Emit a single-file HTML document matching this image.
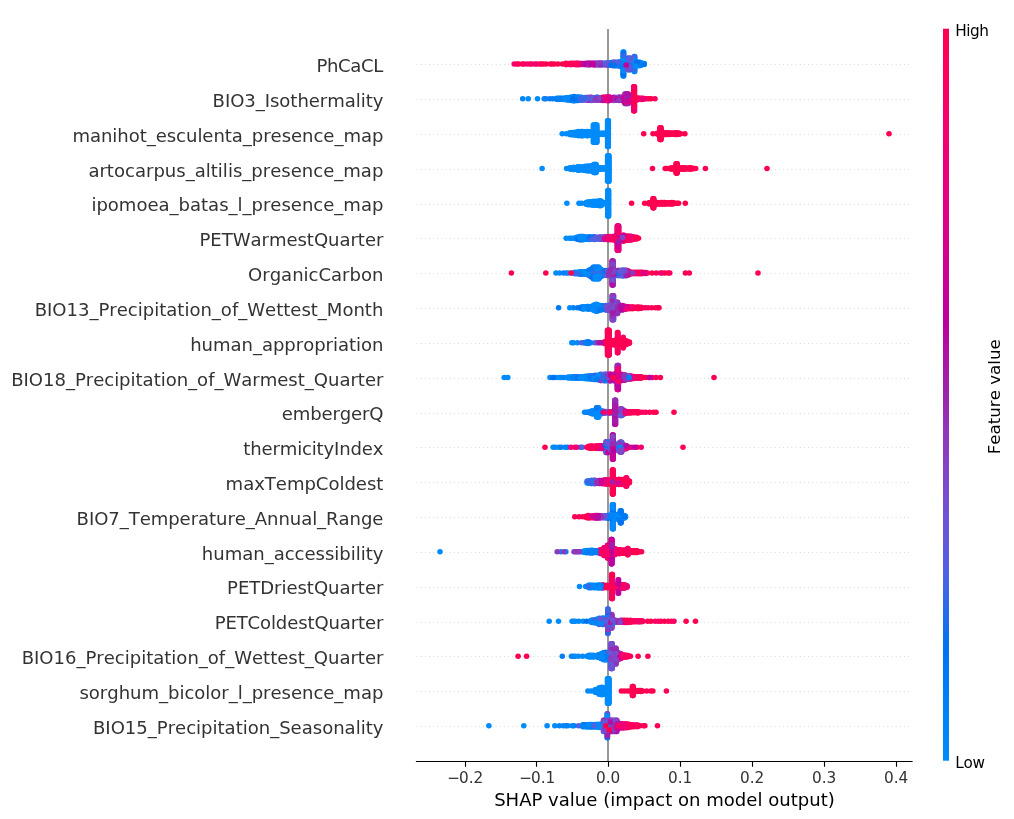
<!DOCTYPE html>
<html lang="en"><head><meta charset="utf-8"><title>SHAP summary plot</title>
<style>
html,body{margin:0;padding:0;background:#fff}
body{width:1014px;height:819px;overflow:hidden}
svg{display:block}
text{font-family:"DejaVu Sans","Liberation Sans",sans-serif;font-kerning:none}
.dots circle{r:2.78px}
.xt text{font-size:15.28px;fill:#333;text-anchor:middle}
.xl{font-size:18.06px;fill:#000;text-anchor:middle}
.yl text{font-size:18.06px;fill:#333;text-anchor:end}
.cbt{font-size:15.28px;fill:#000}
.cbl{font-size:16.67px;fill:#000;text-anchor:middle}
.c0{fill:#008bfb}.c1{fill:#0085f9}.c2{fill:#007ef6}.c3{fill:#0078f2}.c4{fill:#0071ee}.c5{fill:#3569e8}.c6{fill:#5161e1}.c7{fill:#6458da}.c8{fill:#744fd1}.c9{fill:#8245c8}.c10{fill:#8d39bd}.c11{fill:#972bb2}.c12{fill:#a21eaa}.c13{fill:#b00fa5}.c14{fill:#bd009e}.c15{fill:#c90097}.c16{fill:#d40090}.c17{fill:#dd0088}.c18{fill:#e6007f}.c19{fill:#ee0077}.c20{fill:#f5006e}.c21{fill:#fa0064}.c22{fill:#ff005b}.c23{fill:#ff0051}
</style></head><body>
<svg width="1014" height="819" viewBox="0 0 1014 819">
<defs><linearGradient id="cb" x1="0" y1="0" x2="0" y2="1"><stop offset="0.000" stop-color="#ff0051"/><stop offset="0.050" stop-color="#fe005c"/><stop offset="0.100" stop-color="#f90067"/><stop offset="0.150" stop-color="#f20072"/><stop offset="0.200" stop-color="#e9007c"/><stop offset="0.250" stop-color="#e00086"/><stop offset="0.300" stop-color="#d5008f"/><stop offset="0.350" stop-color="#c80098"/><stop offset="0.400" stop-color="#bb00a0"/><stop offset="0.450" stop-color="#ab15a7"/><stop offset="0.500" stop-color="#9b23ad"/><stop offset="0.550" stop-color="#9135ba"/><stop offset="0.600" stop-color="#8443c6"/><stop offset="0.650" stop-color="#754fd1"/><stop offset="0.700" stop-color="#6359da"/><stop offset="0.750" stop-color="#4b63e3"/><stop offset="0.800" stop-color="#236cea"/><stop offset="0.850" stop-color="#0074f0"/><stop offset="0.900" stop-color="#007cf5"/><stop offset="0.950" stop-color="#0084f9"/><stop offset="1.000" stop-color="#008bfb"/></linearGradient></defs>
<rect width="1014" height="819" fill="#fff"/>
<g stroke="#c6c6c6" stroke-width="0.8" stroke-dasharray="0.8 3.367" fill="none"><line x1="416.5" x2="912" y1="64.5" y2="64.5"/><line x1="416.5" x2="912" y1="99.5" y2="99.5"/><line x1="416.5" x2="912" y1="134.5" y2="134.5"/><line x1="416.5" x2="912" y1="169.5" y2="169.5"/><line x1="416.5" x2="912" y1="204.5" y2="204.5"/><line x1="416.5" x2="912" y1="238.5" y2="238.5"/><line x1="416.5" x2="912" y1="273.5" y2="273.5"/><line x1="416.5" x2="912" y1="308.5" y2="308.5"/><line x1="416.5" x2="912" y1="343.5" y2="343.5"/><line x1="416.5" x2="912" y1="378.5" y2="378.5"/><line x1="416.5" x2="912" y1="413.5" y2="413.5"/><line x1="416.5" x2="912" y1="447.5" y2="447.5"/><line x1="416.5" x2="912" y1="482.5" y2="482.5"/><line x1="416.5" x2="912" y1="517.5" y2="517.5"/><line x1="416.5" x2="912" y1="552.5" y2="552.5"/><line x1="416.5" x2="912" y1="587.5" y2="587.5"/><line x1="416.5" x2="912" y1="622.5" y2="622.5"/><line x1="416.5" x2="912" y1="656.5" y2="656.5"/><line x1="416.5" x2="912" y1="691.5" y2="691.5"/><line x1="416.5" x2="912" y1="726.5" y2="726.5"/></g>
<line x1="608" x2="608" y1="29" y2="761.45" stroke="#999" stroke-width="2"/>
<g class="dots"><g><circle class="c14" cx="582.1" cy="64.5" r="2.78"/><circle class="c5" cx="623.7" cy="67.4" r="2.78"/><circle class="c0" cx="623.7" cy="57.1" r="2.78"/><circle class="c7" cx="613.1" cy="64.0" r="2.78"/><circle class="c6" cx="627.6" cy="58.4" r="2.78"/><circle class="c9" cx="611.9" cy="65.4" r="2.78"/><circle class="c7" cx="615.6" cy="65.8" r="2.78"/><circle class="c17" cx="578.6" cy="64.7" r="2.78"/><circle class="c14" cx="584.0" cy="64.4" r="2.78"/><circle class="c3" cx="618.1" cy="64.9" r="2.78"/><circle class="c1" cx="620.6" cy="65.1" r="2.78"/><circle class="c1" cx="623.7" cy="62.3" r="2.78"/><circle class="c22" cx="530.1" cy="64.0" r="2.78"/><circle class="c1" cx="623.1" cy="52.0" r="2.78"/><circle class="c3" cx="634.4" cy="65.8" r="2.78"/><circle class="c3" cx="624.4" cy="63.0" r="2.78"/><circle class="c9" cx="614.4" cy="62.4" r="2.78"/><circle class="c8" cx="618.1" cy="63.0" r="2.78"/><circle class="c5" cx="627.6" cy="67.7" r="2.78"/><circle class="c2" cx="634.7" cy="62.1" r="2.78"/><circle class="c13" cx="584.0" cy="63.5" r="2.78"/><circle class="c23" cx="570.9" cy="63.3" r="2.78"/><circle class="c23" cx="546.2" cy="64.0" r="2.78"/><circle class="c23" cx="570.9" cy="64.6" r="2.78"/><circle class="c14" cx="595.0" cy="64.9" r="2.78"/><circle class="c2" cx="636.9" cy="63.0" r="2.78"/><circle class="c7" cx="628.1" cy="60.2" r="2.78"/><circle class="c0" cx="623.7" cy="58.8" r="2.78"/><circle class="c11" cx="598.2" cy="63.1" r="2.78"/><circle class="c1" cx="625.6" cy="65.0" r="2.78"/><circle class="c1" cx="642.4" cy="64.6" r="2.78"/><circle class="c13" cx="591.7" cy="63.4" r="2.78"/><circle class="c0" cx="634.7" cy="64.0" r="2.78"/><circle class="c9" cx="630.6" cy="69.6" r="2.78"/><circle class="c1" cx="623.7" cy="60.5" r="2.78"/><circle class="c18" cx="580.8" cy="63.5" r="2.78"/><circle class="c3" cx="634.7" cy="58.4" r="2.78"/><circle class="c2" cx="634.7" cy="69.5" r="2.78"/><circle class="c4" cx="621.9" cy="62.5" r="2.78"/><circle class="c7" cx="627.6" cy="62.1" r="2.78"/><circle class="c6" cx="611.9" cy="64.0" r="2.78"/><circle class="c23" cx="565.8" cy="64.6" r="2.78"/><circle class="c23" cx="567.4" cy="63.5" r="2.78"/><circle class="c2" cx="635.6" cy="61.6" r="2.78"/><circle class="c2" cx="613.1" cy="65.6" r="2.78"/><circle class="c0" cx="638.1" cy="64.0" r="2.78"/><circle class="c3" cx="630.8" cy="62.1" r="2.78"/><circle class="c0" cx="623.1" cy="72.6" r="2.78"/><circle class="c2" cx="640.6" cy="62.6" r="2.78"/><circle class="c23" cx="570.9" cy="64.0" r="2.78"/><circle class="c14" cx="578.6" cy="64.0" r="2.78"/><circle class="c4" cx="613.1" cy="62.4" r="2.78"/><circle class="c0" cx="623.1" cy="53.7" r="2.78"/><circle class="c4" cx="615.6" cy="64.0" r="2.78"/><circle class="c8" cx="611.9" cy="62.5" r="2.78"/><circle class="c0" cx="639.4" cy="65.6" r="2.78"/><circle class="c2" cx="619.4" cy="64.0" r="2.78"/><circle class="c12" cx="585.9" cy="64.8" r="2.78"/><circle class="c6" cx="620.6" cy="61.8" r="2.78"/><circle class="c23" cx="573.1" cy="64.0" r="2.78"/><circle class="c0" cx="636.9" cy="64.9" r="2.78"/><circle class="c3" cx="623.1" cy="70.9" r="2.78"/><circle class="c20" cx="578.6" cy="63.3" r="2.78"/><circle class="c1" cx="634.7" cy="67.7" r="2.78"/><circle class="c4" cx="631.9" cy="64.0" r="2.78"/><circle class="c5" cx="623.1" cy="69.1" r="2.78"/><circle class="c7" cx="629.2" cy="58.4" r="2.78"/><circle class="c7" cx="630.8" cy="67.7" r="2.78"/><circle class="c8" cx="631.9" cy="62.4" r="2.78"/><circle class="c3" cx="625.6" cy="64.0" r="2.78"/><circle class="c4" cx="629.4" cy="60.2" r="2.78"/><circle class="c5" cx="623.1" cy="60.5" r="2.78"/><circle class="c12" cx="595.0" cy="64.0" r="2.78"/><circle class="c3" cx="625.6" cy="63.0" r="2.78"/><circle class="c15" cx="582.1" cy="64.0" r="2.78"/><circle class="c7" cx="630.8" cy="64.0" r="2.78"/><circle class="c12" cx="585.9" cy="63.2" r="2.78"/><circle class="c0" cx="623.7" cy="72.6" r="2.78"/><circle class="c6" cx="629.4" cy="67.7" r="2.78"/><circle class="c6" cx="628.1" cy="64.0" r="2.78"/><circle class="c12" cx="607.4" cy="64.0" r="2.78"/><circle class="c23" cx="518.8" cy="64.0" r="2.78"/><circle class="c6" cx="630.8" cy="69.6" r="2.78"/><circle class="c4" cx="626.9" cy="64.0" r="2.78"/><circle class="c8" cx="631.9" cy="65.6" r="2.78"/><circle class="c5" cx="618.1" cy="64.0" r="2.78"/><circle class="c14" cx="593.0" cy="64.0" r="2.78"/><circle class="c23" cx="552.2" cy="64.0" r="2.78"/><circle class="c8" cx="603.2" cy="64.7" r="2.78"/><circle class="c0" cx="623.7" cy="52.0" r="2.78"/><circle class="c2" cx="621.9" cy="65.5" r="2.78"/><circle class="c4" cx="619.4" cy="65.7" r="2.78"/><circle class="c12" cx="590.5" cy="63.5" r="2.78"/><circle class="c7" cx="603.2" cy="63.2" r="2.78"/><circle class="c4" cx="629.4" cy="69.6" r="2.78"/><circle class="c4" cx="634.4" cy="71.4" r="2.78"/><circle class="c0" cx="634.4" cy="60.3" r="2.78"/><circle class="c5" cx="629.2" cy="60.2" r="2.78"/><circle class="c0" cx="634.7" cy="71.4" r="2.78"/><circle class="c10" cx="630.6" cy="58.4" r="2.78"/><circle class="c9" cx="601.7" cy="64.9" r="2.78"/><circle class="c10" cx="630.6" cy="64.0" r="2.78"/><circle class="c11" cx="628.1" cy="65.9" r="2.78"/><circle class="c3" cx="623.7" cy="76.0" r="2.78"/><circle class="c16" cx="589.3" cy="64.0" r="2.78"/><circle class="c9" cx="630.8" cy="65.9" r="2.78"/><circle class="c0" cx="623.1" cy="55.4" r="2.78"/><circle class="c3" cx="623.7" cy="69.1" r="2.78"/><circle class="c2" cx="642.4" cy="64.0" r="2.78"/><circle class="c10" cx="630.6" cy="62.1" r="2.78"/><circle class="c8" cx="603.2" cy="64.0" r="2.78"/><circle class="c6" cx="607.4" cy="65.3" r="2.78"/><circle class="c6" cx="630.6" cy="60.2" r="2.78"/><circle class="c21" cx="573.1" cy="64.5" r="2.78"/><circle class="c21" cx="577.1" cy="63.3" r="2.78"/><circle class="c7" cx="627.6" cy="65.9" r="2.78"/><circle class="c1" cx="634.4" cy="62.1" r="2.78"/><circle class="c23" cx="536.7" cy="64.0" r="2.78"/><circle class="c22" cx="569.7" cy="64.0" r="2.78"/><circle class="c0" cx="644.2" cy="64.0" r="2.78"/><circle class="c9" cx="598.2" cy="64.9" r="2.78"/><circle class="c11" cx="596.7" cy="63.3" r="2.78"/><circle class="c1" cx="634.4" cy="67.7" r="2.78"/><circle class="c7" cx="608.8" cy="64.9" r="2.78"/><circle class="c2" cx="634.4" cy="56.6" r="2.78"/><circle class="c11" cx="601.7" cy="63.1" r="2.78"/><circle class="c7" cx="628.1" cy="67.7" r="2.78"/><circle class="c3" cx="618.1" cy="62.1" r="2.78"/><circle class="c6" cx="634.4" cy="58.4" r="2.78"/><circle class="c1" cx="639.4" cy="64.0" r="2.78"/><circle class="c2" cx="630.6" cy="67.7" r="2.78"/><circle class="c0" cx="623.7" cy="64.0" r="2.78"/><circle class="c2" cx="633.1" cy="62.5" r="2.78"/><circle class="c14" cx="584.0" cy="64.0" r="2.78"/><circle class="c16" cx="587.5" cy="63.4" r="2.78"/><circle class="c1" cx="623.1" cy="76.0" r="2.78"/><circle class="c23" cx="565.8" cy="64.0" r="2.78"/><circle class="c14" cx="590.5" cy="64.0" r="2.78"/><circle class="c0" cx="638.1" cy="65.3" r="2.78"/><circle class="c23" cx="554.5" cy="64.0" r="2.78"/><circle class="c0" cx="636.9" cy="65.9" r="2.78"/><circle class="c5" cx="635.6" cy="62.8" r="2.78"/><circle class="c4" cx="623.1" cy="67.4" r="2.78"/><circle class="c7" cx="629.2" cy="64.0" r="2.78"/><circle class="c23" cx="558.0" cy="64.0" r="2.78"/><circle class="c6" cx="616.9" cy="65.2" r="2.78"/><circle class="c1" cx="639.4" cy="62.4" r="2.78"/><circle class="c2" cx="635.6" cy="65.2" r="2.78"/><circle class="c4" cx="619.4" cy="62.3" r="2.78"/><circle class="c0" cx="642.4" cy="63.4" r="2.78"/><circle class="c1" cx="623.1" cy="62.3" r="2.78"/><circle class="c7" cx="629.2" cy="69.6" r="2.78"/><circle class="c23" cx="543.3" cy="64.0" r="2.78"/><circle class="c0" cx="623.1" cy="57.1" r="2.78"/><circle class="c4" cx="616.9" cy="64.0" r="2.78"/><circle class="c5" cx="607.4" cy="62.7" r="2.78"/><circle class="c20" cx="569.7" cy="64.5" r="2.78"/><circle class="c9" cx="605.4" cy="65.0" r="2.78"/><circle class="c21" cx="574.6" cy="64.0" r="2.78"/><circle class="c5" cx="634.4" cy="69.5" r="2.78"/><circle class="c23" cx="531.9" cy="64.0" r="2.78"/><circle class="c5" cx="633.1" cy="65.5" r="2.78"/><circle class="c12" cx="587.5" cy="64.0" r="2.78"/><circle class="c4" cx="633.1" cy="64.0" r="2.78"/><circle class="c21" cx="524.2" cy="64.0" r="2.78"/><circle class="c4" cx="623.1" cy="74.3" r="2.78"/><circle class="c8" cx="629.4" cy="64.0" r="2.78"/><circle class="c1" cx="623.1" cy="64.0" r="2.78"/><circle class="c23" cx="574.6" cy="64.4" r="2.78"/><circle class="c3" cx="636.9" cy="64.0" r="2.78"/><circle class="c6" cx="614.4" cy="64.0" r="2.78"/><circle class="c8" cx="627.6" cy="64.0" r="2.78"/><circle class="c0" cx="621.9" cy="64.0" r="2.78"/><circle class="c0" cx="623.7" cy="65.7" r="2.78"/><circle class="c20" cx="575.9" cy="64.0" r="2.78"/><circle class="c4" cx="628.1" cy="62.1" r="2.78"/><circle class="c0" cx="625.6" cy="61.9" r="2.78"/><circle class="c4" cx="623.7" cy="74.3" r="2.78"/><circle class="c19" cx="575.9" cy="64.6" r="2.78"/><circle class="c1" cx="620.6" cy="64.0" r="2.78"/><circle class="c9" cx="600.1" cy="64.9" r="2.78"/><circle class="c8" cx="608.8" cy="63.1" r="2.78"/><circle class="c3" cx="624.4" cy="65.9" r="2.78"/><circle class="c4" cx="628.1" cy="58.4" r="2.78"/><circle class="c22" cx="575.9" cy="63.4" r="2.78"/><circle class="c4" cx="623.1" cy="65.7" r="2.78"/><circle class="c2" cx="624.4" cy="64.0" r="2.78"/><circle class="c3" cx="638.1" cy="62.6" r="2.78"/><circle class="c15" cx="587.5" cy="64.6" r="2.78"/><circle class="c5" cx="626.9" cy="62.4" r="2.78"/><circle class="c12" cx="596.7" cy="64.6" r="2.78"/><circle class="c10" cx="596.7" cy="64.0" r="2.78"/><circle class="c20" cx="527.4" cy="64.0" r="2.78"/><circle class="c10" cx="610.6" cy="64.0" r="2.78"/><circle class="c23" cx="539.6" cy="64.0" r="2.78"/><circle class="c3" cx="624.4" cy="64.9" r="2.78"/><circle class="c3" cx="610.6" cy="62.7" r="2.78"/><circle class="c18" cx="574.6" cy="63.6" r="2.78"/><circle class="c23" cx="567.4" cy="64.0" r="2.78"/><circle class="c4" cx="623.7" cy="53.7" r="2.78"/><circle class="c20" cx="567.4" cy="64.5" r="2.78"/><circle class="c23" cx="516.8" cy="64.0" r="2.78"/><circle class="c0" cx="635.6" cy="64.0" r="2.78"/><circle class="c5" cx="634.7" cy="56.6" r="2.78"/><circle class="c13" cx="589.3" cy="63.1" r="2.78"/><circle class="c15" cx="582.1" cy="63.5" r="2.78"/><circle class="c2" cx="628.1" cy="69.6" r="2.78"/><circle class="c5" cx="620.6" cy="62.9" r="2.78"/><circle class="c6" cx="629.2" cy="65.9" r="2.78"/><circle class="c0" cx="618.1" cy="65.9" r="2.78"/><circle class="c0" cx="634.7" cy="65.8" r="2.78"/><circle class="c0" cx="634.7" cy="60.3" r="2.78"/><circle class="c4" cx="601.7" cy="64.0" r="2.78"/><circle class="c7" cx="627.6" cy="60.2" r="2.78"/><circle class="c16" cx="580.8" cy="64.0" r="2.78"/><circle class="c9" cx="605.4" cy="64.0" r="2.78"/><circle class="c14" cx="585.9" cy="64.0" r="2.78"/><circle class="c7" cx="598.2" cy="64.0" r="2.78"/><circle class="c19" cx="535.0" cy="64.0" r="2.78"/><circle class="c0" cx="623.7" cy="70.9" r="2.78"/><circle class="c13" cx="600.1" cy="64.0" r="2.78"/><circle class="c0" cx="623.1" cy="58.8" r="2.78"/><circle class="c10" cx="600.1" cy="63.1" r="2.78"/><circle class="c6" cx="605.4" cy="63.0" r="2.78"/><circle class="c16" cx="591.7" cy="64.0" r="2.78"/><circle class="c21" cx="514.2" cy="64.0" r="2.78"/><circle class="c9" cx="615.6" cy="62.2" r="2.78"/><circle class="c18" cx="591.7" cy="64.5" r="2.78"/><circle class="c23" cx="577.1" cy="64.0" r="2.78"/><circle class="c16" cx="580.8" cy="64.5" r="2.78"/><circle class="c7" cx="630.8" cy="58.4" r="2.78"/><circle class="c22" cx="541.4" cy="64.0" r="2.78"/><circle class="c9" cx="595.0" cy="63.0" r="2.78"/><circle class="c5" cx="629.2" cy="62.1" r="2.78"/><circle class="c10" cx="589.3" cy="64.9" r="2.78"/><circle class="c1" cx="624.4" cy="62.1" r="2.78"/><circle class="c15" cx="593.0" cy="63.3" r="2.78"/><circle class="c6" cx="629.4" cy="62.1" r="2.78"/><circle class="c2" cx="620.6" cy="66.2" r="2.78"/><circle class="c1" cx="644.2" cy="63.6" r="2.78"/><circle class="c8" cx="608.8" cy="64.0" r="2.78"/><circle class="c0" cx="640.6" cy="65.4" r="2.78"/><circle class="c4" cx="629.4" cy="65.9" r="2.78"/><circle class="c23" cx="565.8" cy="63.4" r="2.78"/><circle class="c23" cx="550.3" cy="64.0" r="2.78"/><circle class="c22" cx="577.1" cy="64.6" r="2.78"/><circle class="c6" cx="630.8" cy="60.2" r="2.78"/><circle class="c14" cx="590.5" cy="64.5" r="2.78"/><circle class="c5" cx="623.7" cy="55.4" r="2.78"/><circle class="c0" cx="634.4" cy="64.0" r="2.78"/><circle class="c4" cx="626.9" cy="65.6" r="2.78"/><circle class="c23" cx="562.4" cy="64.0" r="2.78"/><circle class="c22" cx="522.4" cy="64.0" r="2.78"/><circle class="c22" cx="573.1" cy="63.4" r="2.78"/><circle class="c2" cx="640.6" cy="64.0" r="2.78"/><circle class="c23" cx="569.7" cy="63.5" r="2.78"/><circle class="c5" cx="630.6" cy="65.9" r="2.78"/><circle class="c4" cx="636.9" cy="62.1" r="2.78"/><circle class="c14" cx="593.0" cy="64.7" r="2.78"/><circle class="c4" cx="610.6" cy="65.3" r="2.78"/><circle class="c6" cx="629.4" cy="58.4" r="2.78"/><circle class="c6" cx="616.9" cy="62.8" r="2.78"/><circle class="c4" cx="614.4" cy="65.6" r="2.78"/><circle class="c6" cx="625.6" cy="66.0" r="2.78"/><circle class="c7" cx="629.2" cy="67.7" r="2.78"/><circle class="c0" cx="635.6" cy="66.4" r="2.78"/><circle class="c8" cx="627.6" cy="69.6" r="2.78"/><circle class="c3" cx="644.2" cy="64.4" r="2.78"/><circle class="c14" cx="626.2" cy="65.0" r="2.78"/></g><g><circle class="c11" cx="594.0" cy="100.0" r="2.78"/><circle class="c23" cx="633.7" cy="105.7" r="2.78"/><circle class="c0" cx="571.5" cy="98.8" r="2.78"/><circle class="c14" cx="623.9" cy="100.1" r="2.78"/><circle class="c0" cx="566.4" cy="99.8" r="2.78"/><circle class="c4" cx="579.0" cy="98.8" r="2.78"/><circle class="c14" cx="621.4" cy="97.6" r="2.78"/><circle class="c18" cx="633.7" cy="95.4" r="2.78"/><circle class="c18" cx="626.4" cy="97.2" r="2.78"/><circle class="c23" cx="632.6" cy="97.5" r="2.78"/><circle class="c0" cx="563.4" cy="99.4" r="2.78"/><circle class="c4" cx="572.8" cy="100.1" r="2.78"/><circle class="c22" cx="634.5" cy="86.8" r="2.78"/><circle class="c10" cx="589.0" cy="99.9" r="2.78"/><circle class="c1" cx="577.8" cy="100.5" r="2.78"/><circle class="c20" cx="628.9" cy="100.1" r="2.78"/><circle class="c23" cx="607.8" cy="97.8" r="2.78"/><circle class="c11" cx="592.8" cy="99.9" r="2.78"/><circle class="c18" cx="628.2" cy="95.7" r="2.78"/><circle class="c14" cx="628.9" cy="97.5" r="2.78"/><circle class="c15" cx="605.3" cy="97.2" r="2.78"/><circle class="c19" cx="609.0" cy="97.1" r="2.78"/><circle class="c4" cx="571.5" cy="100.5" r="2.78"/><circle class="c23" cx="634.5" cy="104.0" r="2.78"/><circle class="c12" cx="626.6" cy="103.5" r="2.78"/><circle class="c0" cx="537.5" cy="98.8" r="2.78"/><circle class="c15" cx="627.6" cy="102.0" r="2.78"/><circle class="c21" cx="655.0" cy="98.8" r="2.78"/><circle class="c23" cx="641.3" cy="98.8" r="2.78"/><circle class="c18" cx="615.1" cy="100.1" r="2.78"/><circle class="c14" cx="622.6" cy="98.8" r="2.78"/><circle class="c4" cx="558.5" cy="98.8" r="2.78"/><circle class="c21" cx="633.9" cy="95.4" r="2.78"/><circle class="c20" cx="634.5" cy="100.5" r="2.78"/><circle class="c0" cx="558.5" cy="98.2" r="2.78"/><circle class="c23" cx="633.7" cy="104.0" r="2.78"/><circle class="c20" cx="606.5" cy="97.4" r="2.78"/><circle class="c13" cx="597.8" cy="97.3" r="2.78"/><circle class="c20" cx="634.1" cy="107.4" r="2.78"/><circle class="c12" cx="601.5" cy="97.7" r="2.78"/><circle class="c9" cx="594.0" cy="98.8" r="2.78"/><circle class="c4" cx="564.7" cy="98.8" r="2.78"/><circle class="c0" cx="572.8" cy="97.5" r="2.78"/><circle class="c16" cx="610.3" cy="98.8" r="2.78"/><circle class="c9" cx="587.8" cy="98.8" r="2.78"/><circle class="c21" cx="641.3" cy="99.5" r="2.78"/><circle class="c20" cx="633.9" cy="86.8" r="2.78"/><circle class="c13" cx="604.0" cy="98.8" r="2.78"/><circle class="c14" cx="618.9" cy="98.8" r="2.78"/><circle class="c5" cx="577.8" cy="97.1" r="2.78"/><circle class="c23" cx="635.1" cy="97.8" r="2.78"/><circle class="c17" cx="602.8" cy="100.4" r="2.78"/><circle class="c20" cx="634.5" cy="88.5" r="2.78"/><circle class="c5" cx="575.3" cy="97.3" r="2.78"/><circle class="c18" cx="634.5" cy="90.2" r="2.78"/><circle class="c16" cx="628.2" cy="102.0" r="2.78"/><circle class="c23" cx="634.1" cy="105.7" r="2.78"/><circle class="c20" cx="607.8" cy="100.8" r="2.78"/><circle class="c1" cx="522.7" cy="98.8" r="2.78"/><circle class="c11" cx="597.8" cy="100.3" r="2.78"/><circle class="c12" cx="620.1" cy="97.5" r="2.78"/><circle class="c18" cx="630.1" cy="102.5" r="2.78"/><circle class="c16" cx="628.2" cy="97.2" r="2.78"/><circle class="c3" cx="574.0" cy="96.6" r="2.78"/><circle class="c23" cx="633.9" cy="105.7" r="2.78"/><circle class="c14" cx="606.5" cy="100.2" r="2.78"/><circle class="c6" cx="569.4" cy="97.6" r="2.78"/><circle class="c23" cx="633.7" cy="110.8" r="2.78"/><circle class="c3" cx="564.7" cy="98.3" r="2.78"/><circle class="c11" cx="615.1" cy="97.6" r="2.78"/><circle class="c20" cx="605.3" cy="98.8" r="2.78"/><circle class="c14" cx="625.1" cy="95.7" r="2.78"/><circle class="c17" cx="626.4" cy="98.8" r="2.78"/><circle class="c13" cx="625.1" cy="100.4" r="2.78"/><circle class="c21" cx="634.1" cy="110.8" r="2.78"/><circle class="c22" cx="606.5" cy="98.8" r="2.78"/><circle class="c22" cx="633.9" cy="110.8" r="2.78"/><circle class="c18" cx="607.8" cy="96.9" r="2.78"/><circle class="c23" cx="634.5" cy="91.9" r="2.78"/><circle class="c22" cx="633.9" cy="88.5" r="2.78"/><circle class="c10" cx="592.8" cy="97.8" r="2.78"/><circle class="c16" cx="626.6" cy="102.0" r="2.78"/><circle class="c21" cx="634.1" cy="98.8" r="2.78"/><circle class="c3" cx="556.6" cy="98.8" r="2.78"/><circle class="c20" cx="604.0" cy="100.2" r="2.78"/><circle class="c22" cx="633.7" cy="88.5" r="2.78"/><circle class="c17" cx="627.6" cy="103.5" r="2.78"/><circle class="c17" cx="626.4" cy="103.5" r="2.78"/><circle class="c4" cx="569.4" cy="98.8" r="2.78"/><circle class="c15" cx="602.8" cy="98.8" r="2.78"/><circle class="c11" cx="625.1" cy="102.0" r="2.78"/><circle class="c20" cx="633.7" cy="100.5" r="2.78"/><circle class="c0" cx="560.0" cy="98.8" r="2.78"/><circle class="c2" cx="581.5" cy="97.4" r="2.78"/><circle class="c3" cx="580.3" cy="100.2" r="2.78"/><circle class="c2" cx="577.8" cy="98.8" r="2.78"/><circle class="c16" cx="627.6" cy="100.4" r="2.78"/><circle class="c7" cx="585.3" cy="97.6" r="2.78"/><circle class="c12" cx="625.1" cy="103.5" r="2.78"/><circle class="c10" cx="582.8" cy="99.9" r="2.78"/><circle class="c23" cx="643.1" cy="98.4" r="2.78"/><circle class="c19" cx="633.9" cy="90.2" r="2.78"/><circle class="c21" cx="631.4" cy="95.7" r="2.78"/><circle class="c19" cx="631.4" cy="101.9" r="2.78"/><circle class="c12" cx="621.4" cy="100.1" r="2.78"/><circle class="c15" cx="625.1" cy="94.1" r="2.78"/><circle class="c0" cx="574.0" cy="97.7" r="2.78"/><circle class="c14" cx="628.2" cy="98.8" r="2.78"/><circle class="c5" cx="566.4" cy="98.8" r="2.78"/><circle class="c16" cx="627.6" cy="95.7" r="2.78"/><circle class="c12" cx="600.3" cy="97.7" r="2.78"/><circle class="c3" cx="579.0" cy="97.4" r="2.78"/><circle class="c15" cx="616.4" cy="100.1" r="2.78"/><circle class="c13" cx="621.4" cy="98.8" r="2.78"/><circle class="c19" cx="633.7" cy="93.7" r="2.78"/><circle class="c21" cx="633.7" cy="109.1" r="2.78"/><circle class="c23" cx="634.1" cy="102.3" r="2.78"/><circle class="c13" cx="626.6" cy="94.1" r="2.78"/><circle class="c16" cx="623.9" cy="98.8" r="2.78"/><circle class="c21" cx="636.4" cy="98.8" r="2.78"/><circle class="c20" cx="634.1" cy="97.1" r="2.78"/><circle class="c2" cx="568.0" cy="98.8" r="2.78"/><circle class="c18" cx="607.8" cy="98.8" r="2.78"/><circle class="c23" cx="633.9" cy="107.4" r="2.78"/><circle class="c5" cx="586.5" cy="99.8" r="2.78"/><circle class="c9" cx="590.3" cy="98.8" r="2.78"/><circle class="c6" cx="545.9" cy="98.8" r="2.78"/><circle class="c21" cx="639.8" cy="98.8" r="2.78"/><circle class="c14" cx="617.6" cy="99.9" r="2.78"/><circle class="c13" cx="630.1" cy="98.8" r="2.78"/><circle class="c5" cx="582.8" cy="98.8" r="2.78"/><circle class="c3" cx="576.5" cy="97.2" r="2.78"/><circle class="c12" cx="600.3" cy="99.9" r="2.78"/><circle class="c1" cx="556.6" cy="98.4" r="2.78"/><circle class="c1" cx="561.1" cy="98.3" r="2.78"/><circle class="c18" cx="627.6" cy="98.8" r="2.78"/><circle class="c14" cx="626.4" cy="95.7" r="2.78"/><circle class="c12" cx="625.1" cy="103.5" r="2.78"/><circle class="c3" cx="584.0" cy="98.8" r="2.78"/><circle class="c17" cx="609.0" cy="100.6" r="2.78"/><circle class="c21" cx="632.6" cy="96.2" r="2.78"/><circle class="c21" cx="633.9" cy="93.7" r="2.78"/><circle class="c15" cx="594.0" cy="97.7" r="2.78"/><circle class="c13" cx="617.6" cy="98.8" r="2.78"/><circle class="c3" cx="561.1" cy="99.3" r="2.78"/><circle class="c2" cx="549.7" cy="98.8" r="2.78"/><circle class="c23" cx="636.4" cy="97.8" r="2.78"/><circle class="c10" cx="600.3" cy="98.8" r="2.78"/><circle class="c23" cx="634.5" cy="110.8" r="2.78"/><circle class="c20" cx="633.9" cy="109.1" r="2.78"/><circle class="c0" cx="563.4" cy="98.8" r="2.78"/><circle class="c2" cx="566.4" cy="97.8" r="2.78"/><circle class="c23" cx="643.1" cy="99.3" r="2.78"/><circle class="c20" cx="631.4" cy="98.8" r="2.78"/><circle class="c4" cx="582.8" cy="97.7" r="2.78"/><circle class="c2" cx="552.7" cy="98.8" r="2.78"/><circle class="c22" cx="639.8" cy="98.4" r="2.78"/><circle class="c15" cx="625.1" cy="98.8" r="2.78"/><circle class="c23" cx="634.1" cy="95.4" r="2.78"/><circle class="c10" cx="628.9" cy="98.8" r="2.78"/><circle class="c1" cx="579.0" cy="100.2" r="2.78"/><circle class="c15" cx="628.2" cy="100.4" r="2.78"/><circle class="c14" cx="620.1" cy="100.2" r="2.78"/><circle class="c12" cx="626.4" cy="100.4" r="2.78"/><circle class="c20" cx="632.6" cy="98.8" r="2.78"/><circle class="c12" cx="601.5" cy="98.8" r="2.78"/><circle class="c5" cx="581.5" cy="98.8" r="2.78"/><circle class="c15" cx="613.9" cy="97.3" r="2.78"/><circle class="c0" cx="528.2" cy="98.8" r="2.78"/><circle class="c23" cx="634.1" cy="109.1" r="2.78"/><circle class="c13" cx="625.1" cy="97.2" r="2.78"/><circle class="c8" cx="589.0" cy="97.8" r="2.78"/><circle class="c10" cx="595.3" cy="98.8" r="2.78"/><circle class="c9" cx="617.6" cy="97.7" r="2.78"/><circle class="c22" cx="633.9" cy="91.9" r="2.78"/><circle class="c17" cx="634.5" cy="109.1" r="2.78"/><circle class="c2" cx="556.6" cy="99.2" r="2.78"/><circle class="c1" cx="560.0" cy="99.3" r="2.78"/><circle class="c16" cx="625.1" cy="95.7" r="2.78"/><circle class="c11" cx="622.6" cy="100.5" r="2.78"/><circle class="c21" cx="633.9" cy="104.0" r="2.78"/><circle class="c21" cx="609.0" cy="98.8" r="2.78"/><circle class="c23" cx="634.5" cy="93.7" r="2.78"/><circle class="c16" cx="633.9" cy="100.5" r="2.78"/><circle class="c21" cx="634.1" cy="104.0" r="2.78"/><circle class="c13" cx="612.6" cy="98.8" r="2.78"/><circle class="c22" cx="634.1" cy="100.5" r="2.78"/><circle class="c17" cx="602.8" cy="97.3" r="2.78"/><circle class="c12" cx="625.1" cy="102.0" r="2.78"/><circle class="c23" cx="633.9" cy="102.3" r="2.78"/><circle class="c7" cx="587.8" cy="97.4" r="2.78"/><circle class="c0" cx="574.0" cy="99.9" r="2.78"/><circle class="c23" cx="634.5" cy="105.7" r="2.78"/><circle class="c2" cx="558.5" cy="99.4" r="2.78"/><circle class="c18" cx="630.1" cy="97.0" r="2.78"/><circle class="c1" cx="544.2" cy="98.8" r="2.78"/><circle class="c16" cx="628.2" cy="94.1" r="2.78"/><circle class="c8" cx="590.3" cy="97.3" r="2.78"/><circle class="c11" cx="625.1" cy="94.1" r="2.78"/><circle class="c15" cx="620.1" cy="98.8" r="2.78"/><circle class="c13" cx="625.1" cy="100.4" r="2.78"/><circle class="c10" cx="590.3" cy="100.3" r="2.78"/><circle class="c21" cx="637.8" cy="98.1" r="2.78"/><circle class="c19" cx="612.6" cy="99.8" r="2.78"/><circle class="c5" cx="589.0" cy="98.8" r="2.78"/><circle class="c23" cx="651.1" cy="98.8" r="2.78"/><circle class="c22" cx="634.1" cy="91.9" r="2.78"/><circle class="c19" cx="622.6" cy="97.1" r="2.78"/><circle class="c1" cx="576.5" cy="98.8" r="2.78"/><circle class="c6" cx="581.5" cy="100.2" r="2.78"/><circle class="c21" cx="634.5" cy="95.4" r="2.78"/><circle class="c13" cx="626.6" cy="95.7" r="2.78"/><circle class="c19" cx="631.4" cy="100.4" r="2.78"/><circle class="c22" cx="634.5" cy="97.1" r="2.78"/><circle class="c22" cx="644.7" cy="98.8" r="2.78"/><circle class="c0" cx="574.0" cy="98.8" r="2.78"/><circle class="c23" cx="634.5" cy="98.8" r="2.78"/><circle class="c9" cx="596.5" cy="100.3" r="2.78"/><circle class="c23" cx="633.7" cy="97.1" r="2.78"/><circle class="c23" cx="633.7" cy="90.2" r="2.78"/><circle class="c2" cx="596.5" cy="97.3" r="2.78"/><circle class="c11" cx="628.2" cy="103.5" r="2.78"/><circle class="c17" cx="628.9" cy="96.2" r="2.78"/><circle class="c9" cx="599.0" cy="99.7" r="2.78"/><circle class="c23" cx="646.8" cy="98.8" r="2.78"/><circle class="c14" cx="623.9" cy="101.4" r="2.78"/><circle class="c13" cx="615.1" cy="98.8" r="2.78"/><circle class="c2" cx="584.0" cy="99.8" r="2.78"/><circle class="c4" cx="568.0" cy="99.9" r="2.78"/><circle class="c23" cx="633.7" cy="98.8" r="2.78"/><circle class="c23" cx="637.8" cy="98.8" r="2.78"/><circle class="c12" cx="626.4" cy="94.1" r="2.78"/><circle class="c12" cx="618.9" cy="97.1" r="2.78"/><circle class="c15" cx="612.6" cy="97.8" r="2.78"/><circle class="c8" cx="616.4" cy="97.6" r="2.78"/><circle class="c18" cx="605.3" cy="100.4" r="2.78"/><circle class="c22" cx="636.4" cy="99.9" r="2.78"/><circle class="c5" cx="595.3" cy="97.8" r="2.78"/><circle class="c23" cx="635.1" cy="98.8" r="2.78"/><circle class="c17" cx="633.7" cy="107.4" r="2.78"/><circle class="c1" cx="560.0" cy="98.3" r="2.78"/><circle class="c9" cx="613.9" cy="100.4" r="2.78"/><circle class="c20" cx="631.4" cy="97.3" r="2.78"/><circle class="c2" cx="569.4" cy="100.0" r="2.78"/><circle class="c22" cx="634.5" cy="102.3" r="2.78"/><circle class="c18" cx="632.6" cy="100.1" r="2.78"/><circle class="c19" cx="632.6" cy="101.4" r="2.78"/><circle class="c1" cx="575.3" cy="100.3" r="2.78"/><circle class="c9" cx="597.8" cy="98.8" r="2.78"/><circle class="c20" cx="639.8" cy="99.3" r="2.78"/><circle class="c9" cx="591.5" cy="97.2" r="2.78"/><circle class="c18" cx="626.4" cy="102.0" r="2.78"/><circle class="c9" cx="586.5" cy="97.9" r="2.78"/><circle class="c23" cx="648.9" cy="98.8" r="2.78"/><circle class="c10" cx="623.9" cy="96.3" r="2.78"/><circle class="c7" cx="591.5" cy="100.4" r="2.78"/><circle class="c23" cx="633.9" cy="97.1" r="2.78"/><circle class="c13" cx="596.5" cy="98.8" r="2.78"/><circle class="c8" cx="599.0" cy="97.9" r="2.78"/><circle class="c2" cx="563.4" cy="98.2" r="2.78"/><circle class="c18" cx="630.1" cy="100.7" r="2.78"/><circle class="c14" cx="625.1" cy="98.8" r="2.78"/><circle class="c18" cx="607.8" cy="99.8" r="2.78"/><circle class="c16" cx="634.1" cy="90.2" r="2.78"/><circle class="c10" cx="613.9" cy="98.8" r="2.78"/><circle class="c13" cx="601.5" cy="99.9" r="2.78"/><circle class="c22" cx="633.7" cy="91.9" r="2.78"/><circle class="c23" cx="634.1" cy="86.8" r="2.78"/><circle class="c17" cx="610.3" cy="97.4" r="2.78"/><circle class="c11" cx="587.8" cy="100.2" r="2.78"/><circle class="c23" cx="641.3" cy="98.2" r="2.78"/><circle class="c13" cx="616.4" cy="98.8" r="2.78"/><circle class="c15" cx="625.1" cy="97.2" r="2.78"/><circle class="c7" cx="591.5" cy="98.8" r="2.78"/><circle class="c16" cx="610.3" cy="100.3" r="2.78"/><circle class="c17" cx="627.6" cy="97.2" r="2.78"/><circle class="c21" cx="634.5" cy="107.4" r="2.78"/><circle class="c18" cx="604.0" cy="97.4" r="2.78"/><circle class="c6" cx="592.8" cy="98.8" r="2.78"/><circle class="c10" cx="618.9" cy="100.5" r="2.78"/><circle class="c23" cx="633.7" cy="102.3" r="2.78"/><circle class="c9" cx="585.3" cy="100.0" r="2.78"/><circle class="c9" cx="599.0" cy="98.8" r="2.78"/><circle class="c0" cx="580.3" cy="97.4" r="2.78"/><circle class="c2" cx="571.5" cy="97.1" r="2.78"/><circle class="c2" cx="561.1" cy="98.8" r="2.78"/><circle class="c6" cx="586.5" cy="98.8" r="2.78"/><circle class="c12" cx="630.1" cy="95.1" r="2.78"/><circle class="c12" cx="626.6" cy="100.4" r="2.78"/><circle class="c0" cx="568.0" cy="97.7" r="2.78"/><circle class="c0" cx="574.0" cy="101.0" r="2.78"/><circle class="c16" cx="626.6" cy="98.8" r="2.78"/><circle class="c15" cx="623.9" cy="97.5" r="2.78"/><circle class="c2" cx="575.3" cy="98.8" r="2.78"/><circle class="c6" cx="585.3" cy="98.8" r="2.78"/><circle class="c12" cx="626.6" cy="97.2" r="2.78"/><circle class="c0" cx="564.7" cy="99.4" r="2.78"/><circle class="c23" cx="634.1" cy="93.7" r="2.78"/><circle class="c23" cx="634.1" cy="88.5" r="2.78"/><circle class="c21" cx="637.8" cy="99.6" r="2.78"/><circle class="c3" cx="576.5" cy="100.4" r="2.78"/><circle class="c16" cx="628.9" cy="101.4" r="2.78"/><circle class="c21" cx="635.1" cy="99.8" r="2.78"/><circle class="c13" cx="627.6" cy="94.1" r="2.78"/><circle class="c5" cx="584.0" cy="97.9" r="2.78"/><circle class="c4" cx="572.8" cy="98.8" r="2.78"/><circle class="c5" cx="580.3" cy="98.8" r="2.78"/><circle class="c23" cx="633.9" cy="98.8" r="2.78"/><circle class="c21" cx="633.7" cy="86.8" r="2.78"/><circle class="c10" cx="595.3" cy="99.8" r="2.78"/><circle class="c18" cx="643.1" cy="98.8" r="2.78"/></g><g><circle class="c0" cx="593.8" cy="128.5" r="2.78"/><circle class="c0" cx="593.8" cy="138.8" r="2.78"/><circle class="c0" cx="608.3" cy="146.5" r="2.78"/><circle class="c0" cx="596.3" cy="142.3" r="2.78"/><circle class="c0" cx="608.3" cy="137.3" r="2.78"/><circle class="c0" cx="608.3" cy="122.7" r="2.78"/><circle class="c0" cx="572.5" cy="134.7" r="2.78"/><circle class="c0" cx="596.9" cy="137.1" r="2.78"/><circle class="c0" cx="608.3" cy="120.8" r="2.78"/><circle class="c0" cx="608.0" cy="126.3" r="2.78"/><circle class="c0" cx="582.5" cy="135.8" r="2.78"/><circle class="c0" cx="593.4" cy="138.8" r="2.78"/><circle class="c0" cx="593.4" cy="142.3" r="2.78"/><circle class="c23" cx="660.4" cy="135.1" r="2.78"/><circle class="c0" cx="586.3" cy="134.6" r="2.78"/><circle class="c23" cx="661.0" cy="137.9" r="2.78"/><circle class="c23" cx="669.0" cy="134.4" r="2.78"/><circle class="c23" cx="660.4" cy="127.9" r="2.78"/><circle class="c0" cx="595.0" cy="142.3" r="2.78"/><circle class="c23" cx="660.7" cy="133.7" r="2.78"/><circle class="c0" cx="593.8" cy="140.5" r="2.78"/><circle class="c0" cx="593.4" cy="128.5" r="2.78"/><circle class="c22" cx="678.9" cy="133.1" r="2.78"/><circle class="c0" cx="588.8" cy="133.7" r="2.78"/><circle class="c0" cx="608.3" cy="133.7" r="2.78"/><circle class="c0" cx="596.3" cy="140.5" r="2.78"/><circle class="c0" cx="593.4" cy="135.4" r="2.78"/><circle class="c23" cx="659.9" cy="130.8" r="2.78"/><circle class="c0" cx="595.0" cy="138.8" r="2.78"/><circle class="c0" cx="602.2" cy="133.7" r="2.78"/><circle class="c0" cx="580.0" cy="132.3" r="2.78"/><circle class="c0" cx="583.8" cy="131.8" r="2.78"/><circle class="c0" cx="608.3" cy="128.2" r="2.78"/><circle class="c0" cx="608.0" cy="144.6" r="2.78"/><circle class="c0" cx="587.5" cy="134.7" r="2.78"/><circle class="c0" cx="608.3" cy="141.0" r="2.78"/><circle class="c23" cx="659.9" cy="129.4" r="2.78"/><circle class="c0" cx="607.6" cy="133.7" r="2.78"/><circle class="c23" cx="676.9" cy="132.9" r="2.78"/><circle class="c0" cx="602.2" cy="134.1" r="2.78"/><circle class="c0" cx="595.0" cy="131.9" r="2.78"/><circle class="c0" cx="595.1" cy="137.1" r="2.78"/><circle class="c23" cx="661.0" cy="132.2" r="2.78"/><circle class="c23" cx="660.7" cy="139.4" r="2.78"/><circle class="c0" cx="587.5" cy="131.6" r="2.78"/><circle class="c0" cx="598.7" cy="133.7" r="2.78"/><circle class="c23" cx="663.0" cy="132.7" r="2.78"/><circle class="c0" cx="595.0" cy="135.4" r="2.78"/><circle class="c0" cx="605.3" cy="133.1" r="2.78"/><circle class="c0" cx="596.3" cy="131.9" r="2.78"/><circle class="c0" cx="603.7" cy="133.7" r="2.78"/><circle class="c0" cx="608.3" cy="122.7" r="2.78"/><circle class="c0" cx="593.4" cy="125.0" r="2.78"/><circle class="c0" cx="575.0" cy="132.6" r="2.78"/><circle class="c0" cx="600.8" cy="133.7" r="2.78"/><circle class="c23" cx="659.9" cy="135.1" r="2.78"/><circle class="c23" cx="678.9" cy="134.2" r="2.78"/><circle class="c0" cx="607.6" cy="135.5" r="2.78"/><circle class="c0" cx="608.3" cy="144.6" r="2.78"/><circle class="c0" cx="580.0" cy="133.7" r="2.78"/><circle class="c23" cx="659.9" cy="139.4" r="2.78"/><circle class="c23" cx="661.0" cy="133.7" r="2.78"/><circle class="c0" cx="608.3" cy="135.5" r="2.78"/><circle class="c23" cx="660.7" cy="136.5" r="2.78"/><circle class="c0" cx="597.5" cy="134.6" r="2.78"/><circle class="c0" cx="608.3" cy="124.5" r="2.78"/><circle class="c23" cx="663.0" cy="133.7" r="2.78"/><circle class="c0" cx="608.3" cy="131.8" r="2.78"/><circle class="c23" cx="664.9" cy="134.6" r="2.78"/><circle class="c23" cx="660.7" cy="130.8" r="2.78"/><circle class="c0" cx="608.3" cy="128.2" r="2.78"/><circle class="c0" cx="595.0" cy="130.2" r="2.78"/><circle class="c0" cx="581.3" cy="131.6" r="2.78"/><circle class="c0" cx="585.0" cy="133.7" r="2.78"/><circle class="c0" cx="607.6" cy="130.0" r="2.78"/><circle class="c0" cx="593.4" cy="133.7" r="2.78"/><circle class="c23" cx="660.4" cy="133.7" r="2.78"/><circle class="c0" cx="608.3" cy="144.6" r="2.78"/><circle class="c0" cx="608.3" cy="126.3" r="2.78"/><circle class="c0" cx="593.8" cy="125.0" r="2.78"/><circle class="c0" cx="608.3" cy="133.7" r="2.78"/><circle class="c23" cx="659.9" cy="132.2" r="2.78"/><circle class="c0" cx="596.9" cy="128.5" r="2.78"/><circle class="c0" cx="571.3" cy="133.7" r="2.78"/><circle class="c23" cx="667.0" cy="134.5" r="2.78"/><circle class="c0" cx="576.3" cy="132.0" r="2.78"/><circle class="c0" cx="597.5" cy="133.7" r="2.78"/><circle class="c23" cx="661.0" cy="127.9" r="2.78"/><circle class="c0" cx="607.6" cy="146.5" r="2.78"/><circle class="c0" cx="595.1" cy="138.8" r="2.78"/><circle class="c0" cx="593.4" cy="130.2" r="2.78"/><circle class="c0" cx="585.0" cy="132.1" r="2.78"/><circle class="c0" cx="593.4" cy="126.8" r="2.78"/><circle class="c23" cx="889.0" cy="133.7" r="2.78"/><circle class="c0" cx="578.8" cy="133.7" r="2.78"/><circle class="c0" cx="595.1" cy="126.8" r="2.78"/><circle class="c0" cx="600.8" cy="134.1" r="2.78"/><circle class="c23" cx="660.4" cy="129.4" r="2.78"/><circle class="c0" cx="578.8" cy="134.7" r="2.78"/><circle class="c0" cx="578.8" cy="132.6" r="2.78"/><circle class="c0" cx="607.6" cy="126.3" r="2.78"/><circle class="c0" cx="591.3" cy="135.3" r="2.78"/><circle class="c0" cx="590.0" cy="135.3" r="2.78"/><circle class="c23" cx="667.0" cy="132.8" r="2.78"/><circle class="c0" cx="608.3" cy="120.8" r="2.78"/><circle class="c23" cx="667.0" cy="133.7" r="2.78"/><circle class="c0" cx="592.5" cy="133.7" r="2.78"/><circle class="c0" cx="596.9" cy="138.8" r="2.78"/><circle class="c0" cx="586.3" cy="135.6" r="2.78"/><circle class="c0" cx="607.6" cy="137.3" r="2.78"/><circle class="c1" cx="608.3" cy="130.0" r="2.78"/><circle class="c23" cx="659.9" cy="133.7" r="2.78"/><circle class="c0" cx="585.0" cy="135.2" r="2.78"/><circle class="c0" cx="596.3" cy="125.0" r="2.78"/><circle class="c0" cx="596.9" cy="142.3" r="2.78"/><circle class="c0" cx="573.8" cy="133.7" r="2.78"/><circle class="c0" cx="608.3" cy="137.3" r="2.78"/><circle class="c0" cx="588.8" cy="135.5" r="2.78"/><circle class="c0" cx="586.3" cy="132.7" r="2.78"/><circle class="c0" cx="608.3" cy="139.1" r="2.78"/><circle class="c23" cx="673.3" cy="134.3" r="2.78"/><circle class="c0" cx="595.1" cy="130.2" r="2.78"/><circle class="c23" cx="653.0" cy="133.7" r="2.78"/><circle class="c0" cx="581.3" cy="134.7" r="2.78"/><circle class="c0" cx="603.7" cy="133.2" r="2.78"/><circle class="c0" cx="578.8" cy="135.8" r="2.78"/><circle class="c0" cx="595.0" cy="126.8" r="2.78"/><circle class="c0" cx="605.3" cy="133.7" r="2.78"/><circle class="c0" cx="596.3" cy="126.8" r="2.78"/><circle class="c0" cx="575.0" cy="133.7" r="2.78"/><circle class="c0" cx="608.0" cy="146.5" r="2.78"/><circle class="c0" cx="595.1" cy="128.5" r="2.78"/><circle class="c23" cx="661.0" cy="135.1" r="2.78"/><circle class="c0" cx="596.3" cy="130.2" r="2.78"/><circle class="c0" cx="608.0" cy="131.8" r="2.78"/><circle class="c23" cx="657.3" cy="133.7" r="2.78"/><circle class="c0" cx="595.0" cy="128.5" r="2.78"/><circle class="c0" cx="608.3" cy="141.0" r="2.78"/><circle class="c23" cx="664.9" cy="133.7" r="2.78"/><circle class="c0" cx="608.3" cy="142.8" r="2.78"/><circle class="c0" cx="582.5" cy="133.7" r="2.78"/><circle class="c0" cx="593.8" cy="131.9" r="2.78"/><circle class="c23" cx="660.4" cy="132.2" r="2.78"/><circle class="c0" cx="582.5" cy="131.5" r="2.78"/><circle class="c0" cx="598.7" cy="134.1" r="2.78"/><circle class="c0" cx="592.5" cy="132.6" r="2.78"/><circle class="c0" cx="592.5" cy="134.7" r="2.78"/><circle class="c0" cx="595.0" cy="133.7" r="2.78"/><circle class="c0" cx="562.2" cy="133.7" r="2.78"/><circle class="c0" cx="593.8" cy="135.4" r="2.78"/><circle class="c0" cx="607.6" cy="122.7" r="2.78"/><circle class="c0" cx="588.8" cy="131.8" r="2.78"/><circle class="c23" cx="660.4" cy="139.4" r="2.78"/><circle class="c23" cx="660.7" cy="132.2" r="2.78"/><circle class="c0" cx="596.3" cy="137.1" r="2.78"/><circle class="c0" cx="591.3" cy="133.7" r="2.78"/><circle class="c23" cx="673.3" cy="133.0" r="2.78"/><circle class="c0" cx="595.1" cy="125.0" r="2.78"/><circle class="c0" cx="608.0" cy="139.1" r="2.78"/><circle class="c0" cx="596.9" cy="131.9" r="2.78"/><circle class="c23" cx="675.5" cy="132.9" r="2.78"/><circle class="c0" cx="608.3" cy="124.5" r="2.78"/><circle class="c23" cx="660.7" cy="135.1" r="2.78"/><circle class="c1" cx="596.9" cy="140.5" r="2.78"/><circle class="c23" cx="657.3" cy="134.1" r="2.78"/><circle class="c0" cx="595.1" cy="142.3" r="2.78"/><circle class="c23" cx="676.9" cy="133.7" r="2.78"/><circle class="c23" cx="661.0" cy="130.8" r="2.78"/><circle class="c0" cx="593.8" cy="137.1" r="2.78"/><circle class="c0" cx="595.0" cy="137.1" r="2.78"/><circle class="c23" cx="663.0" cy="134.6" r="2.78"/><circle class="c1" cx="592.5" cy="135.8" r="2.78"/><circle class="c23" cx="660.7" cy="127.9" r="2.78"/><circle class="c0" cx="596.3" cy="138.8" r="2.78"/><circle class="c0" cx="606.5" cy="133.7" r="2.78"/><circle class="c0" cx="597.5" cy="132.7" r="2.78"/><circle class="c0" cx="596.9" cy="126.8" r="2.78"/><circle class="c0" cx="583.8" cy="133.7" r="2.78"/><circle class="c0" cx="596.9" cy="133.7" r="2.78"/><circle class="c23" cx="661.0" cy="139.4" r="2.78"/><circle class="c0" cx="580.0" cy="135.0" r="2.78"/><circle class="c23" cx="660.4" cy="130.8" r="2.78"/><circle class="c0" cx="608.0" cy="133.7" r="2.78"/><circle class="c0" cx="607.6" cy="124.5" r="2.78"/><circle class="c23" cx="664.9" cy="132.7" r="2.78"/><circle class="c0" cx="600.8" cy="133.2" r="2.78"/><circle class="c0" cx="608.0" cy="137.3" r="2.78"/><circle class="c0" cx="593.4" cy="140.5" r="2.78"/><circle class="c23" cx="660.4" cy="137.9" r="2.78"/><circle class="c0" cx="593.8" cy="142.3" r="2.78"/><circle class="c0" cx="608.3" cy="126.3" r="2.78"/><circle class="c0" cx="595.1" cy="135.4" r="2.78"/><circle class="c0" cx="608.3" cy="135.5" r="2.78"/><circle class="c23" cx="678.9" cy="133.7" r="2.78"/><circle class="c0" cx="595.1" cy="131.9" r="2.78"/><circle class="c23" cx="659.4" cy="134.3" r="2.78"/><circle class="c0" cx="608.0" cy="141.0" r="2.78"/><circle class="c23" cx="684.9" cy="133.7" r="2.78"/><circle class="c0" cx="596.3" cy="128.5" r="2.78"/><circle class="c23" cx="659.9" cy="137.9" r="2.78"/><circle class="c23" cx="661.0" cy="129.4" r="2.78"/><circle class="c23" cx="671.2" cy="133.1" r="2.78"/><circle class="c0" cx="596.9" cy="135.4" r="2.78"/><circle class="c23" cx="675.5" cy="133.7" r="2.78"/><circle class="c0" cx="575.0" cy="134.7" r="2.78"/><circle class="c23" cx="673.3" cy="133.7" r="2.78"/><circle class="c0" cx="572.5" cy="133.7" r="2.78"/><circle class="c0" cx="607.6" cy="142.8" r="2.78"/><circle class="c0" cx="573.8" cy="132.6" r="2.78"/><circle class="c0" cx="591.3" cy="132.0" r="2.78"/><circle class="c23" cx="671.2" cy="134.2" r="2.78"/><circle class="c0" cx="603.7" cy="134.1" r="2.78"/><circle class="c0" cx="608.3" cy="130.0" r="2.78"/><circle class="c0" cx="607.6" cy="139.1" r="2.78"/><circle class="c0" cx="593.4" cy="131.9" r="2.78"/><circle class="c23" cx="675.5" cy="134.4" r="2.78"/><circle class="c0" cx="593.8" cy="130.2" r="2.78"/><circle class="c0" cx="577.5" cy="135.1" r="2.78"/><circle class="c0" cx="608.0" cy="135.5" r="2.78"/><circle class="c0" cx="608.0" cy="120.8" r="2.78"/><circle class="c0" cx="582.5" cy="134.7" r="2.78"/><circle class="c23" cx="680.7" cy="133.7" r="2.78"/><circle class="c0" cx="607.6" cy="131.8" r="2.78"/><circle class="c0" cx="607.6" cy="141.0" r="2.78"/><circle class="c0" cx="608.0" cy="130.0" r="2.78"/><circle class="c23" cx="659.9" cy="127.9" r="2.78"/><circle class="c0" cx="596.3" cy="133.7" r="2.78"/><circle class="c0" cx="573.8" cy="134.7" r="2.78"/><circle class="c0" cx="586.3" cy="133.7" r="2.78"/><circle class="c0" cx="608.0" cy="128.2" r="2.78"/><circle class="c0" cx="608.0" cy="122.7" r="2.78"/><circle class="c0" cx="602.2" cy="133.2" r="2.78"/><circle class="c0" cx="590.0" cy="132.0" r="2.78"/><circle class="c0" cx="593.4" cy="137.1" r="2.78"/><circle class="c0" cx="607.6" cy="144.6" r="2.78"/><circle class="c0" cx="592.5" cy="131.5" r="2.78"/><circle class="c0" cx="569.8" cy="132.7" r="2.78"/><circle class="c0" cx="605.3" cy="134.2" r="2.78"/><circle class="c0" cx="581.3" cy="132.6" r="2.78"/><circle class="c23" cx="671.2" cy="133.7" r="2.78"/><circle class="c23" cx="659.4" cy="133.0" r="2.78"/><circle class="c0" cx="587.5" cy="135.7" r="2.78"/><circle class="c0" cx="577.5" cy="132.2" r="2.78"/><circle class="c23" cx="657.3" cy="133.2" r="2.78"/><circle class="c0" cx="581.3" cy="133.7" r="2.78"/><circle class="c0" cx="607.6" cy="120.8" r="2.78"/><circle class="c0" cx="607.6" cy="128.2" r="2.78"/><circle class="c0" cx="569.8" cy="133.7" r="2.78"/><circle class="c0" cx="566.3" cy="133.7" r="2.78"/><circle class="c0" cx="598.7" cy="133.2" r="2.78"/><circle class="c0" cx="569.8" cy="134.6" r="2.78"/><circle class="c0" cx="596.9" cy="125.0" r="2.78"/><circle class="c0" cx="582.5" cy="132.6" r="2.78"/><circle class="c23" cx="660.7" cy="129.4" r="2.78"/><circle class="c0" cx="587.5" cy="132.6" r="2.78"/><circle class="c23" cx="669.0" cy="133.7" r="2.78"/><circle class="c0" cx="583.8" cy="135.5" r="2.78"/><circle class="c0" cx="587.5" cy="133.7" r="2.78"/><circle class="c0" cx="608.3" cy="139.1" r="2.78"/><circle class="c23" cx="669.0" cy="132.9" r="2.78"/><circle class="c0" cx="593.8" cy="126.8" r="2.78"/><circle class="c0" cx="608.0" cy="142.8" r="2.78"/><circle class="c0" cx="571.3" cy="132.7" r="2.78"/><circle class="c0" cx="581.3" cy="135.7" r="2.78"/><circle class="c23" cx="660.7" cy="137.9" r="2.78"/><circle class="c0" cx="608.3" cy="131.8" r="2.78"/><circle class="c23" cx="660.4" cy="136.5" r="2.78"/><circle class="c0" cx="590.0" cy="133.7" r="2.78"/><circle class="c0" cx="577.5" cy="133.7" r="2.78"/><circle class="c23" cx="659.9" cy="136.5" r="2.78"/><circle class="c23" cx="676.9" cy="134.4" r="2.78"/><circle class="c0" cx="578.8" cy="131.5" r="2.78"/><circle class="c23" cx="659.4" cy="133.7" r="2.78"/><circle class="c0" cx="572.5" cy="132.6" r="2.78"/><circle class="c0" cx="596.9" cy="130.2" r="2.78"/><circle class="c0" cx="576.3" cy="133.7" r="2.78"/><circle class="c23" cx="661.0" cy="136.5" r="2.78"/><circle class="c0" cx="596.3" cy="135.4" r="2.78"/><circle class="c0" cx="595.1" cy="133.7" r="2.78"/><circle class="c0" cx="608.3" cy="142.8" r="2.78"/><circle class="c0" cx="595.1" cy="140.5" r="2.78"/><circle class="c0" cx="593.8" cy="133.7" r="2.78"/><circle class="c0" cx="608.0" cy="124.5" r="2.78"/><circle class="c0" cx="571.3" cy="134.6" r="2.78"/><circle class="c23" cx="643.7" cy="133.7" r="2.78"/><circle class="c0" cx="608.3" cy="146.5" r="2.78"/><circle class="c0" cx="576.3" cy="135.3" r="2.78"/><circle class="c0" cx="595.0" cy="125.0" r="2.78"/><circle class="c0" cx="586.3" cy="131.7" r="2.78"/><circle class="c0" cx="595.0" cy="140.5" r="2.78"/></g><g><circle class="c0" cx="584.4" cy="166.6" r="2.78"/><circle class="c0" cx="608.7" cy="175.8" r="2.78"/><circle class="c0" cx="583.1" cy="169.9" r="2.78"/><circle class="c0" cx="594.4" cy="167.1" r="2.78"/><circle class="c0" cx="594.4" cy="171.2" r="2.78"/><circle class="c0" cx="598.1" cy="167.8" r="2.78"/><circle class="c0" cx="594.4" cy="172.5" r="2.78"/><circle class="c23" cx="675.0" cy="169.1" r="2.78"/><circle class="c0" cx="593.1" cy="167.5" r="2.78"/><circle class="c23" cx="690.1" cy="169.1" r="2.78"/><circle class="c0" cx="593.8" cy="168.5" r="2.78"/><circle class="c0" cx="578.1" cy="168.5" r="2.78"/><circle class="c23" cx="677.2" cy="163.9" r="2.78"/><circle class="c23" cx="665.2" cy="168.5" r="2.78"/><circle class="c23" cx="678.5" cy="169.0" r="2.78"/><circle class="c0" cx="596.1" cy="171.2" r="2.78"/><circle class="c0" cx="608.7" cy="170.3" r="2.78"/><circle class="c0" cx="607.6" cy="170.3" r="2.78"/><circle class="c0" cx="581.9" cy="169.8" r="2.78"/><circle class="c0" cx="593.8" cy="171.2" r="2.78"/><circle class="c0" cx="589.4" cy="166.2" r="2.78"/><circle class="c0" cx="589.4" cy="168.5" r="2.78"/><circle class="c0" cx="594.4" cy="165.8" r="2.78"/><circle class="c0" cx="594.4" cy="168.5" r="2.78"/><circle class="c0" cx="596.1" cy="169.8" r="2.78"/><circle class="c0" cx="576.9" cy="168.5" r="2.78"/><circle class="c23" cx="676.1" cy="171.6" r="2.78"/><circle class="c0" cx="593.8" cy="164.5" r="2.78"/><circle class="c0" cx="607.6" cy="173.9" r="2.78"/><circle class="c0" cx="576.9" cy="169.6" r="2.78"/><circle class="c0" cx="608.9" cy="181.2" r="2.78"/><circle class="c23" cx="675.0" cy="168.5" r="2.78"/><circle class="c0" cx="590.6" cy="167.4" r="2.78"/><circle class="c0" cx="591.9" cy="171.1" r="2.78"/><circle class="c23" cx="691.9" cy="169.0" r="2.78"/><circle class="c0" cx="588.1" cy="168.5" r="2.78"/><circle class="c23" cx="675.0" cy="167.9" r="2.78"/><circle class="c0" cx="607.6" cy="163.0" r="2.78"/><circle class="c1" cx="608.9" cy="161.2" r="2.78"/><circle class="c23" cx="676.4" cy="166.9" r="2.78"/><circle class="c0" cx="608.9" cy="168.5" r="2.78"/><circle class="c23" cx="680.8" cy="169.2" r="2.78"/><circle class="c0" cx="608.9" cy="155.8" r="2.78"/><circle class="c23" cx="666.8" cy="168.5" r="2.78"/><circle class="c0" cx="607.6" cy="157.6" r="2.78"/><circle class="c0" cx="591.9" cy="165.9" r="2.78"/><circle class="c0" cx="595.0" cy="165.8" r="2.78"/><circle class="c0" cx="594.4" cy="164.5" r="2.78"/><circle class="c0" cx="608.2" cy="166.7" r="2.78"/><circle class="c0" cx="602.9" cy="169.1" r="2.78"/><circle class="c23" cx="694.1" cy="168.5" r="2.78"/><circle class="c0" cx="608.7" cy="166.7" r="2.78"/><circle class="c0" cx="575.3" cy="169.3" r="2.78"/><circle class="c23" cx="684.3" cy="169.3" r="2.78"/><circle class="c0" cx="608.7" cy="177.6" r="2.78"/><circle class="c0" cx="607.6" cy="159.4" r="2.78"/><circle class="c23" cx="690.1" cy="168.5" r="2.78"/><circle class="c23" cx="672.1" cy="169.0" r="2.78"/><circle class="c0" cx="607.6" cy="168.5" r="2.78"/><circle class="c23" cx="676.1" cy="165.4" r="2.78"/><circle class="c22" cx="677.2" cy="166.9" r="2.78"/><circle class="c0" cx="608.2" cy="177.6" r="2.78"/><circle class="c23" cx="670.9" cy="168.5" r="2.78"/><circle class="c23" cx="676.8" cy="166.9" r="2.78"/><circle class="c23" cx="677.2" cy="165.4" r="2.78"/><circle class="c0" cx="608.9" cy="163.0" r="2.78"/><circle class="c23" cx="676.8" cy="171.6" r="2.78"/><circle class="c23" cx="652.5" cy="168.5" r="2.78"/><circle class="c0" cx="593.1" cy="169.5" r="2.78"/><circle class="c0" cx="584.4" cy="170.3" r="2.78"/><circle class="c0" cx="593.8" cy="167.1" r="2.78"/><circle class="c0" cx="585.6" cy="166.4" r="2.78"/><circle class="c23" cx="676.1" cy="163.9" r="2.78"/><circle class="c0" cx="542.1" cy="168.5" r="2.78"/><circle class="c0" cx="595.0" cy="171.2" r="2.78"/><circle class="c23" cx="677.2" cy="171.6" r="2.78"/><circle class="c0" cx="595.0" cy="169.8" r="2.78"/><circle class="c0" cx="579.4" cy="169.9" r="2.78"/><circle class="c0" cx="598.1" cy="169.2" r="2.78"/><circle class="c0" cx="599.7" cy="169.2" r="2.78"/><circle class="c23" cx="669.1" cy="168.5" r="2.78"/><circle class="c0" cx="607.6" cy="164.8" r="2.78"/><circle class="c0" cx="596.1" cy="172.5" r="2.78"/><circle class="c23" cx="680.8" cy="167.7" r="2.78"/><circle class="c0" cx="590.6" cy="166.4" r="2.78"/><circle class="c0" cx="571.6" cy="168.9" r="2.78"/><circle class="c0" cx="604.6" cy="168.9" r="2.78"/><circle class="c0" cx="608.2" cy="161.2" r="2.78"/><circle class="c23" cx="678.5" cy="168.0" r="2.78"/><circle class="c23" cx="677.2" cy="168.5" r="2.78"/><circle class="c0" cx="608.7" cy="163.0" r="2.78"/><circle class="c0" cx="589.4" cy="167.3" r="2.78"/><circle class="c0" cx="596.1" cy="167.1" r="2.78"/><circle class="c0" cx="591.9" cy="168.5" r="2.78"/><circle class="c0" cx="580.6" cy="167.2" r="2.78"/><circle class="c0" cx="608.2" cy="170.3" r="2.78"/><circle class="c0" cx="573.6" cy="169.6" r="2.78"/><circle class="c23" cx="676.8" cy="165.4" r="2.78"/><circle class="c0" cx="607.6" cy="175.8" r="2.78"/><circle class="c0" cx="595.6" cy="164.5" r="2.78"/><circle class="c0" cx="585.6" cy="168.5" r="2.78"/><circle class="c0" cx="571.6" cy="168.5" r="2.78"/><circle class="c23" cx="673.7" cy="168.5" r="2.78"/><circle class="c0" cx="585.6" cy="169.5" r="2.78"/><circle class="c0" cx="588.1" cy="170.9" r="2.78"/><circle class="c0" cx="583.1" cy="167.1" r="2.78"/><circle class="c23" cx="684.3" cy="168.5" r="2.78"/><circle class="c0" cx="578.1" cy="166.7" r="2.78"/><circle class="c0" cx="586.9" cy="166.7" r="2.78"/><circle class="c0" cx="593.8" cy="169.8" r="2.78"/><circle class="c0" cx="604.6" cy="168.1" r="2.78"/><circle class="c1" cx="595.0" cy="168.5" r="2.78"/><circle class="c23" cx="677.2" cy="170.0" r="2.78"/><circle class="c23" cx="676.8" cy="168.5" r="2.78"/><circle class="c23" cx="690.1" cy="167.8" r="2.78"/><circle class="c23" cx="672.1" cy="168.0" r="2.78"/><circle class="c0" cx="608.9" cy="172.1" r="2.78"/><circle class="c0" cx="590.6" cy="170.6" r="2.78"/><circle class="c23" cx="705.4" cy="168.5" r="2.78"/><circle class="c23" cx="677.2" cy="173.1" r="2.78"/><circle class="c23" cx="688.5" cy="168.5" r="2.78"/><circle class="c23" cx="676.8" cy="170.0" r="2.78"/><circle class="c0" cx="593.1" cy="166.5" r="2.78"/><circle class="c0" cx="607.6" cy="166.7" r="2.78"/><circle class="c0" cx="579.4" cy="167.1" r="2.78"/><circle class="c0" cx="573.6" cy="167.4" r="2.78"/><circle class="c23" cx="676.4" cy="168.5" r="2.78"/><circle class="c0" cx="608.2" cy="173.9" r="2.78"/><circle class="c23" cx="676.8" cy="173.1" r="2.78"/><circle class="c23" cx="676.1" cy="168.5" r="2.78"/><circle class="c0" cx="585.6" cy="170.6" r="2.78"/><circle class="c0" cx="584.4" cy="168.5" r="2.78"/><circle class="c23" cx="686.1" cy="168.0" r="2.78"/><circle class="c0" cx="608.2" cy="172.1" r="2.78"/><circle class="c0" cx="585.6" cy="167.4" r="2.78"/><circle class="c23" cx="686.1" cy="169.0" r="2.78"/><circle class="c0" cx="594.4" cy="169.8" r="2.78"/><circle class="c23" cx="676.8" cy="163.9" r="2.78"/><circle class="c0" cx="596.1" cy="164.5" r="2.78"/><circle class="c0" cx="589.4" cy="170.8" r="2.78"/><circle class="c0" cx="573.6" cy="168.5" r="2.78"/><circle class="c0" cx="569.9" cy="167.9" r="2.78"/><circle class="c23" cx="676.1" cy="173.1" r="2.78"/><circle class="c0" cx="608.9" cy="170.3" r="2.78"/><circle class="c0" cx="595.6" cy="171.2" r="2.78"/><circle class="c0" cx="569.9" cy="168.5" r="2.78"/><circle class="c0" cx="608.2" cy="175.8" r="2.78"/><circle class="c0" cx="595.6" cy="165.8" r="2.78"/><circle class="c0" cx="566.6" cy="168.5" r="2.78"/><circle class="c23" cx="680.8" cy="168.5" r="2.78"/><circle class="c23" cx="672.1" cy="168.5" r="2.78"/><circle class="c23" cx="688.5" cy="169.0" r="2.78"/><circle class="c0" cx="608.7" cy="155.8" r="2.78"/><circle class="c0" cx="601.3" cy="168.5" r="2.78"/><circle class="c0" cx="581.9" cy="167.1" r="2.78"/><circle class="c0" cx="608.7" cy="172.1" r="2.78"/><circle class="c23" cx="676.4" cy="165.4" r="2.78"/><circle class="c0" cx="576.9" cy="167.4" r="2.78"/><circle class="c0" cx="588.1" cy="166.1" r="2.78"/><circle class="c0" cx="608.9" cy="173.9" r="2.78"/><circle class="c23" cx="673.7" cy="167.9" r="2.78"/><circle class="c0" cx="607.6" cy="181.2" r="2.78"/><circle class="c0" cx="590.6" cy="169.5" r="2.78"/><circle class="c0" cx="595.0" cy="167.1" r="2.78"/><circle class="c0" cx="595.6" cy="168.5" r="2.78"/><circle class="c23" cx="678.5" cy="168.5" r="2.78"/><circle class="c0" cx="586.9" cy="170.2" r="2.78"/><circle class="c0" cx="593.8" cy="165.8" r="2.78"/><circle class="c23" cx="673.7" cy="169.0" r="2.78"/><circle class="c0" cx="608.2" cy="155.8" r="2.78"/><circle class="c23" cx="670.9" cy="168.9" r="2.78"/><circle class="c0" cx="595.6" cy="169.8" r="2.78"/><circle class="c0" cx="595.0" cy="164.5" r="2.78"/><circle class="c0" cx="583.1" cy="168.5" r="2.78"/><circle class="c0" cx="588.1" cy="167.3" r="2.78"/><circle class="c0" cx="608.2" cy="157.6" r="2.78"/><circle class="c23" cx="691.9" cy="168.5" r="2.78"/><circle class="c0" cx="579.4" cy="168.5" r="2.78"/><circle class="c0" cx="602.9" cy="168.5" r="2.78"/><circle class="c0" cx="596.9" cy="168.5" r="2.78"/><circle class="c0" cx="601.3" cy="168.0" r="2.78"/><circle class="c0" cx="588.1" cy="169.7" r="2.78"/><circle class="c0" cx="580.6" cy="169.7" r="2.78"/><circle class="c0" cx="608.2" cy="164.8" r="2.78"/><circle class="c0" cx="596.1" cy="168.5" r="2.78"/><circle class="c0" cx="599.7" cy="168.5" r="2.78"/><circle class="c0" cx="608.7" cy="164.8" r="2.78"/><circle class="c0" cx="608.7" cy="181.2" r="2.78"/><circle class="c0" cx="608.9" cy="157.6" r="2.78"/><circle class="c23" cx="676.1" cy="170.0" r="2.78"/><circle class="c0" cx="607.6" cy="172.1" r="2.78"/><circle class="c0" cx="608.9" cy="175.8" r="2.78"/><circle class="c0" cx="589.4" cy="169.6" r="2.78"/><circle class="c0" cx="586.9" cy="168.5" r="2.78"/><circle class="c0" cx="608.7" cy="157.6" r="2.78"/><circle class="c0" cx="608.2" cy="179.4" r="2.78"/><circle class="c0" cx="593.8" cy="172.5" r="2.78"/><circle class="c0" cx="608.9" cy="166.7" r="2.78"/><circle class="c0" cx="607.6" cy="179.4" r="2.78"/><circle class="c0" cx="602.9" cy="167.8" r="2.78"/><circle class="c0" cx="608.9" cy="164.8" r="2.78"/><circle class="c0" cx="581.9" cy="168.5" r="2.78"/><circle class="c0" cx="591.9" cy="169.8" r="2.78"/><circle class="c0" cx="608.2" cy="163.0" r="2.78"/><circle class="c0" cx="578.1" cy="170.3" r="2.78"/><circle class="c23" cx="683.1" cy="168.5" r="2.78"/><circle class="c23" cx="676.4" cy="171.6" r="2.78"/><circle class="c0" cx="607.6" cy="155.8" r="2.78"/><circle class="c0" cx="599.7" cy="167.7" r="2.78"/><circle class="c0" cx="595.0" cy="172.5" r="2.78"/><circle class="c0" cx="608.7" cy="168.5" r="2.78"/><circle class="c1" cx="575.3" cy="168.5" r="2.78"/><circle class="c0" cx="601.3" cy="169.0" r="2.78"/><circle class="c0" cx="607.6" cy="161.2" r="2.78"/><circle class="c0" cx="606.7" cy="168.5" r="2.78"/><circle class="c0" cx="608.9" cy="159.4" r="2.78"/><circle class="c0" cx="596.1" cy="165.8" r="2.78"/><circle class="c23" cx="670.9" cy="168.0" r="2.78"/><circle class="c23" cx="688.5" cy="168.0" r="2.78"/><circle class="c23" cx="683.1" cy="167.9" r="2.78"/><circle class="c0" cx="608.2" cy="159.4" r="2.78"/><circle class="c23" cx="767.0" cy="168.5" r="2.78"/><circle class="c0" cx="608.7" cy="179.4" r="2.78"/><circle class="c23" cx="691.9" cy="168.0" r="2.78"/><circle class="c0" cx="595.6" cy="172.5" r="2.78"/><circle class="c23" cx="676.1" cy="166.9" r="2.78"/><circle class="c0" cx="608.2" cy="168.5" r="2.78"/><circle class="c0" cx="595.6" cy="167.1" r="2.78"/><circle class="c0" cx="607.6" cy="177.6" r="2.78"/><circle class="c23" cx="676.4" cy="163.9" r="2.78"/><circle class="c0" cx="608.2" cy="181.2" r="2.78"/><circle class="c0" cx="593.1" cy="170.5" r="2.78"/><circle class="c0" cx="575.3" cy="167.7" r="2.78"/><circle class="c0" cx="571.6" cy="168.0" r="2.78"/><circle class="c0" cx="569.9" cy="169.1" r="2.78"/><circle class="c23" cx="676.4" cy="170.0" r="2.78"/><circle class="c22" cx="695.7" cy="168.5" r="2.78"/><circle class="c0" cx="608.9" cy="177.6" r="2.78"/><circle class="c0" cx="590.6" cy="168.5" r="2.78"/><circle class="c0" cx="596.9" cy="166.9" r="2.78"/><circle class="c0" cx="593.1" cy="168.5" r="2.78"/><circle class="c23" cx="684.3" cy="167.7" r="2.78"/><circle class="c0" cx="608.7" cy="173.9" r="2.78"/><circle class="c23" cx="686.1" cy="168.5" r="2.78"/><circle class="c0" cx="596.9" cy="170.0" r="2.78"/><circle class="c0" cx="598.1" cy="168.5" r="2.78"/><circle class="c23" cx="676.4" cy="173.1" r="2.78"/><circle class="c23" cx="683.1" cy="169.1" r="2.78"/><circle class="c0" cx="580.6" cy="168.5" r="2.78"/><circle class="c0" cx="591.9" cy="167.2" r="2.78"/><circle class="c0" cx="608.7" cy="161.2" r="2.78"/><circle class="c0" cx="604.6" cy="168.5" r="2.78"/><circle class="c0" cx="608.7" cy="159.4" r="2.78"/><circle class="c0" cx="608.9" cy="179.4" r="2.78"/></g><g><circle class="c0" cx="593.8" cy="205.3" r="2.78"/><circle class="c0" cx="608.5" cy="210.6" r="2.78"/><circle class="c0" cx="595.1" cy="204.9" r="2.78"/><circle class="c0" cx="600.1" cy="204.5" r="2.78"/><circle class="c0" cx="608.5" cy="205.1" r="2.78"/><circle class="c23" cx="659.6" cy="203.3" r="2.78"/><circle class="c0" cx="592.6" cy="201.7" r="2.78"/><circle class="c0" cx="606.2" cy="202.8" r="2.78"/><circle class="c0" cx="588.8" cy="203.3" r="2.78"/><circle class="c0" cx="597.6" cy="203.3" r="2.78"/><circle class="c0" cx="586.2" cy="204.2" r="2.78"/><circle class="c0" cx="608.5" cy="210.6" r="2.78"/><circle class="c0" cx="600.1" cy="203.3" r="2.78"/><circle class="c23" cx="648.9" cy="203.3" r="2.78"/><circle class="c23" cx="653.6" cy="203.3" r="2.78"/><circle class="c0" cx="598.8" cy="203.3" r="2.78"/><circle class="c23" cx="650.2" cy="202.8" r="2.78"/><circle class="c0" cx="608.5" cy="196.0" r="2.78"/><circle class="c0" cx="608.5" cy="214.2" r="2.78"/><circle class="c0" cx="603.8" cy="203.8" r="2.78"/><circle class="c0" cx="607.8" cy="190.6" r="2.78"/><circle class="c23" cx="653.7" cy="203.3" r="2.78"/><circle class="c0" cx="597.6" cy="205.0" r="2.78"/><circle class="c0" cx="608.5" cy="214.2" r="2.78"/><circle class="c0" cx="602.6" cy="202.3" r="2.78"/><circle class="c0" cx="598.8" cy="201.1" r="2.78"/><circle class="c0" cx="588.8" cy="202.2" r="2.78"/><circle class="c0" cx="608.5" cy="207.0" r="2.78"/><circle class="c0" cx="579.0" cy="203.3" r="2.78"/><circle class="c0" cx="607.8" cy="194.2" r="2.78"/><circle class="c0" cx="608.5" cy="190.6" r="2.78"/><circle class="c0" cx="607.8" cy="205.1" r="2.78"/><circle class="c23" cx="653.3" cy="204.8" r="2.78"/><circle class="c0" cx="608.5" cy="190.6" r="2.78"/><circle class="c0" cx="608.2" cy="214.2" r="2.78"/><circle class="c0" cx="592.6" cy="204.9" r="2.78"/><circle class="c23" cx="631.6" cy="203.3" r="2.78"/><circle class="c23" cx="653.6" cy="206.3" r="2.78"/><circle class="c0" cx="607.8" cy="201.5" r="2.78"/><circle class="c0" cx="602.6" cy="204.3" r="2.78"/><circle class="c0" cx="586.2" cy="202.5" r="2.78"/><circle class="c0" cx="601.3" cy="205.4" r="2.78"/><circle class="c0" cx="596.3" cy="205.3" r="2.78"/><circle class="c0" cx="608.5" cy="196.0" r="2.78"/><circle class="c23" cx="673.5" cy="202.8" r="2.78"/><circle class="c23" cx="662.9" cy="203.3" r="2.78"/><circle class="c23" cx="666.5" cy="203.9" r="2.78"/><circle class="c0" cx="607.8" cy="196.0" r="2.78"/><circle class="c23" cx="652.0" cy="202.5" r="2.78"/><circle class="c0" cx="600.1" cy="205.7" r="2.78"/><circle class="c0" cx="590.1" cy="204.7" r="2.78"/><circle class="c23" cx="664.8" cy="203.3" r="2.78"/><circle class="c0" cx="591.3" cy="201.8" r="2.78"/><circle class="c0" cx="608.5" cy="216.0" r="2.78"/><circle class="c0" cx="608.5" cy="216.0" r="2.78"/><circle class="c0" cx="586.2" cy="203.3" r="2.78"/><circle class="c23" cx="664.8" cy="202.6" r="2.78"/><circle class="c0" cx="607.8" cy="208.8" r="2.78"/><circle class="c23" cx="675.1" cy="203.3" r="2.78"/><circle class="c23" cx="652.0" cy="204.1" r="2.78"/><circle class="c23" cx="672.0" cy="202.6" r="2.78"/><circle class="c0" cx="593.8" cy="202.3" r="2.78"/><circle class="c23" cx="678.6" cy="203.3" r="2.78"/><circle class="c23" cx="661.0" cy="204.1" r="2.78"/><circle class="c0" cx="608.2" cy="190.6" r="2.78"/><circle class="c0" cx="608.5" cy="201.5" r="2.78"/><circle class="c0" cx="607.8" cy="214.2" r="2.78"/><circle class="c0" cx="608.5" cy="201.5" r="2.78"/><circle class="c22" cx="653.6" cy="204.8" r="2.78"/><circle class="c0" cx="608.2" cy="196.0" r="2.78"/><circle class="c23" cx="653.0" cy="204.8" r="2.78"/><circle class="c0" cx="596.3" cy="201.3" r="2.78"/><circle class="c23" cx="685.3" cy="203.3" r="2.78"/><circle class="c0" cx="600.1" cy="202.1" r="2.78"/><circle class="c23" cx="657.6" cy="204.1" r="2.78"/><circle class="c23" cx="652.0" cy="203.3" r="2.78"/><circle class="c0" cx="600.1" cy="200.9" r="2.78"/><circle class="c23" cx="653.3" cy="200.4" r="2.78"/><circle class="c23" cx="650.2" cy="203.3" r="2.78"/><circle class="c0" cx="595.1" cy="203.3" r="2.78"/><circle class="c0" cx="608.5" cy="208.8" r="2.78"/><circle class="c0" cx="608.2" cy="208.8" r="2.78"/><circle class="c0" cx="603.8" cy="203.3" r="2.78"/><circle class="c0" cx="608.2" cy="205.1" r="2.78"/><circle class="c23" cx="653.0" cy="207.7" r="2.78"/><circle class="c0" cx="598.8" cy="202.2" r="2.78"/><circle class="c23" cx="653.7" cy="198.9" r="2.78"/><circle class="c0" cx="595.1" cy="201.7" r="2.78"/><circle class="c23" cx="673.5" cy="203.3" r="2.78"/><circle class="c0" cx="581.7" cy="203.3" r="2.78"/><circle class="c0" cx="587.6" cy="203.3" r="2.78"/><circle class="c0" cx="608.2" cy="203.3" r="2.78"/><circle class="c0" cx="587.6" cy="204.6" r="2.78"/><circle class="c0" cx="596.3" cy="202.3" r="2.78"/><circle class="c23" cx="657.6" cy="203.3" r="2.78"/><circle class="c23" cx="670.8" cy="203.3" r="2.78"/><circle class="c0" cx="607.8" cy="197.9" r="2.78"/><circle class="c0" cx="601.3" cy="204.4" r="2.78"/><circle class="c23" cx="648.9" cy="203.8" r="2.78"/><circle class="c0" cx="590.1" cy="203.3" r="2.78"/><circle class="c0" cx="608.2" cy="207.0" r="2.78"/><circle class="c0" cx="608.5" cy="203.3" r="2.78"/><circle class="c0" cx="608.5" cy="192.4" r="2.78"/><circle class="c23" cx="653.3" cy="207.7" r="2.78"/><circle class="c23" cx="666.5" cy="202.8" r="2.78"/><circle class="c0" cx="608.5" cy="212.4" r="2.78"/><circle class="c0" cx="566.9" cy="203.3" r="2.78"/><circle class="c23" cx="672.0" cy="203.3" r="2.78"/><circle class="c23" cx="662.9" cy="202.5" r="2.78"/><circle class="c23" cx="653.7" cy="201.8" r="2.78"/><circle class="c0" cx="590.1" cy="201.9" r="2.78"/><circle class="c0" cx="608.5" cy="208.8" r="2.78"/><circle class="c23" cx="662.9" cy="204.1" r="2.78"/><circle class="c0" cx="607.8" cy="199.7" r="2.78"/><circle class="c0" cx="591.3" cy="203.3" r="2.78"/><circle class="c0" cx="608.2" cy="201.5" r="2.78"/><circle class="c23" cx="677.3" cy="203.3" r="2.78"/><circle class="c0" cx="608.2" cy="192.4" r="2.78"/><circle class="c23" cx="653.7" cy="207.7" r="2.78"/><circle class="c0" cx="608.5" cy="194.2" r="2.78"/><circle class="c23" cx="653.6" cy="200.4" r="2.78"/><circle class="c0" cx="608.5" cy="199.7" r="2.78"/><circle class="c0" cx="592.6" cy="203.3" r="2.78"/><circle class="c23" cx="653.7" cy="204.8" r="2.78"/><circle class="c23" cx="653.3" cy="203.3" r="2.78"/><circle class="c0" cx="588.8" cy="204.4" r="2.78"/><circle class="c0" cx="607.8" cy="210.6" r="2.78"/><circle class="c0" cx="608.2" cy="216.0" r="2.78"/><circle class="c23" cx="653.3" cy="198.9" r="2.78"/><circle class="c23" cx="655.7" cy="202.8" r="2.78"/><circle class="c0" cx="606.2" cy="203.3" r="2.78"/><circle class="c23" cx="653.7" cy="200.4" r="2.78"/><circle class="c23" cx="664.8" cy="204.1" r="2.78"/><circle class="c23" cx="650.2" cy="203.9" r="2.78"/><circle class="c23" cx="655.7" cy="203.3" r="2.78"/><circle class="c23" cx="653.3" cy="206.3" r="2.78"/><circle class="c0" cx="593.8" cy="201.3" r="2.78"/><circle class="c0" cx="608.5" cy="199.7" r="2.78"/><circle class="c23" cx="668.6" cy="203.9" r="2.78"/><circle class="c0" cx="596.3" cy="203.3" r="2.78"/><circle class="c0" cx="602.6" cy="203.3" r="2.78"/><circle class="c0" cx="601.3" cy="203.3" r="2.78"/><circle class="c0" cx="606.2" cy="203.8" r="2.78"/><circle class="c0" cx="596.3" cy="204.3" r="2.78"/><circle class="c0" cx="608.5" cy="197.9" r="2.78"/><circle class="c0" cx="608.2" cy="210.6" r="2.78"/><circle class="c0" cx="608.5" cy="203.3" r="2.78"/><circle class="c23" cx="653.0" cy="206.3" r="2.78"/><circle class="c0" cx="608.5" cy="205.1" r="2.78"/><circle class="c23" cx="670.8" cy="202.7" r="2.78"/><circle class="c0" cx="608.2" cy="194.2" r="2.78"/><circle class="c0" cx="608.5" cy="192.4" r="2.78"/><circle class="c23" cx="653.0" cy="203.3" r="2.78"/><circle class="c23" cx="657.6" cy="202.6" r="2.78"/><circle class="c0" cx="608.2" cy="199.7" r="2.78"/><circle class="c23" cx="661.0" cy="202.5" r="2.78"/><circle class="c0" cx="598.8" cy="204.4" r="2.78"/><circle class="c23" cx="653.7" cy="206.3" r="2.78"/><circle class="c0" cx="608.5" cy="207.0" r="2.78"/><circle class="c0" cx="603.8" cy="202.8" r="2.78"/><circle class="c0" cx="601.3" cy="202.3" r="2.78"/><circle class="c0" cx="587.6" cy="202.0" r="2.78"/><circle class="c23" cx="670.8" cy="203.9" r="2.78"/><circle class="c23" cx="653.6" cy="207.7" r="2.78"/><circle class="c0" cx="607.8" cy="212.4" r="2.78"/><circle class="c23" cx="653.0" cy="200.4" r="2.78"/><circle class="c0" cx="597.6" cy="201.7" r="2.78"/><circle class="c23" cx="672.0" cy="204.0" r="2.78"/><circle class="c23" cx="653.0" cy="201.8" r="2.78"/><circle class="c23" cx="648.9" cy="202.8" r="2.78"/><circle class="c0" cx="608.2" cy="197.9" r="2.78"/><circle class="c0" cx="608.5" cy="194.2" r="2.78"/><circle class="c23" cx="661.0" cy="203.3" r="2.78"/><circle class="c23" cx="659.6" cy="203.9" r="2.78"/><circle class="c0" cx="607.8" cy="192.4" r="2.78"/><circle class="c23" cx="673.5" cy="203.8" r="2.78"/><circle class="c23" cx="653.3" cy="201.8" r="2.78"/><circle class="c0" cx="607.8" cy="207.0" r="2.78"/><circle class="c23" cx="653.0" cy="198.9" r="2.78"/><circle class="c0" cx="591.3" cy="204.8" r="2.78"/><circle class="c0" cx="593.8" cy="203.3" r="2.78"/><circle class="c23" cx="668.6" cy="203.3" r="2.78"/><circle class="c23" cx="666.5" cy="203.3" r="2.78"/><circle class="c0" cx="608.2" cy="212.4" r="2.78"/><circle class="c0" cx="598.8" cy="205.5" r="2.78"/><circle class="c23" cx="668.6" cy="202.8" r="2.78"/><circle class="c23" cx="653.6" cy="198.9" r="2.78"/><circle class="c0" cx="608.5" cy="197.9" r="2.78"/><circle class="c0" cx="608.5" cy="212.4" r="2.78"/><circle class="c23" cx="653.6" cy="201.8" r="2.78"/><circle class="c0" cx="607.8" cy="203.3" r="2.78"/><circle class="c23" cx="655.7" cy="203.8" r="2.78"/><circle class="c0" cx="593.8" cy="204.3" r="2.78"/><circle class="c23" cx="644.7" cy="203.3" r="2.78"/><circle class="c0" cx="601.3" cy="201.2" r="2.78"/><circle class="c23" cx="659.6" cy="202.8" r="2.78"/><circle class="c0" cx="607.8" cy="216.0" r="2.78"/></g><g><circle class="c9" cx="603.2" cy="239.3" r="2.78"/><circle class="c1" cx="582.1" cy="239.8" r="2.78"/><circle class="c5" cx="590.1" cy="238.2" r="2.78"/><circle class="c0" cx="577.8" cy="237.0" r="2.78"/><circle class="c23" cx="629.8" cy="238.2" r="2.78"/><circle class="c19" cx="618.6" cy="243.3" r="2.78"/><circle class="c0" cx="583.4" cy="239.7" r="2.78"/><circle class="c21" cx="618.0" cy="227.8" r="2.78"/><circle class="c20" cx="609.8" cy="239.7" r="2.78"/><circle class="c19" cx="616.1" cy="239.2" r="2.78"/><circle class="c19" cx="618.0" cy="236.4" r="2.78"/><circle class="c16" cx="617.5" cy="241.6" r="2.78"/><circle class="c20" cx="623.6" cy="235.0" r="2.78"/><circle class="c23" cx="609.8" cy="236.6" r="2.78"/><circle class="c7" cx="593.5" cy="237.0" r="2.78"/><circle class="c23" cx="633.6" cy="238.2" r="2.78"/><circle class="c0" cx="573.4" cy="238.2" r="2.78"/><circle class="c22" cx="609.8" cy="238.2" r="2.78"/><circle class="c23" cx="636.6" cy="238.9" r="2.78"/><circle class="c20" cx="618.6" cy="234.7" r="2.78"/><circle class="c9" cx="598.7" cy="237.2" r="2.78"/><circle class="c20" cx="617.3" cy="233.0" r="2.78"/><circle class="c15" cx="617.3" cy="238.2" r="2.78"/><circle class="c18" cx="618.0" cy="234.7" r="2.78"/><circle class="c21" cx="626.1" cy="236.1" r="2.78"/><circle class="c17" cx="624.8" cy="240.3" r="2.78"/><circle class="c18" cx="619.8" cy="237.2" r="2.78"/><circle class="c21" cx="628.6" cy="236.3" r="2.78"/><circle class="c19" cx="618.6" cy="245.1" r="2.78"/><circle class="c0" cx="576.1" cy="237.5" r="2.78"/><circle class="c2" cx="583.4" cy="236.6" r="2.78"/><circle class="c0" cx="576.1" cy="238.2" r="2.78"/><circle class="c18" cx="621.1" cy="236.9" r="2.78"/><circle class="c10" cx="604.6" cy="236.8" r="2.78"/><circle class="c1" cx="601.2" cy="238.2" r="2.78"/><circle class="c17" cx="628.6" cy="240.0" r="2.78"/><circle class="c17" cx="631.1" cy="238.2" r="2.78"/><circle class="c23" cx="608.6" cy="238.2" r="2.78"/><circle class="c17" cx="618.0" cy="238.2" r="2.78"/><circle class="c18" cx="618.0" cy="243.3" r="2.78"/><circle class="c8" cx="603.2" cy="238.2" r="2.78"/><circle class="c0" cx="585.9" cy="239.3" r="2.78"/><circle class="c18" cx="618.6" cy="246.8" r="2.78"/><circle class="c21" cx="611.1" cy="237.1" r="2.78"/><circle class="c5" cx="599.9" cy="239.3" r="2.78"/><circle class="c5" cx="584.6" cy="237.0" r="2.78"/><circle class="c1" cx="587.5" cy="238.2" r="2.78"/><circle class="c18" cx="618.6" cy="236.4" r="2.78"/><circle class="c23" cx="611.1" cy="238.2" r="2.78"/><circle class="c1" cx="584.6" cy="239.3" r="2.78"/><circle class="c4" cx="598.7" cy="238.2" r="2.78"/><circle class="c20" cx="607.3" cy="236.7" r="2.78"/><circle class="c18" cx="626.1" cy="237.1" r="2.78"/><circle class="c20" cx="618.6" cy="250.3" r="2.78"/><circle class="c1" cx="585.9" cy="237.0" r="2.78"/><circle class="c19" cx="618.6" cy="227.8" r="2.78"/><circle class="c21" cx="617.5" cy="226.0" r="2.78"/><circle class="c18" cx="614.8" cy="239.2" r="2.78"/><circle class="c22" cx="632.3" cy="239.6" r="2.78"/><circle class="c4" cx="589.0" cy="238.2" r="2.78"/><circle class="c1" cx="593.5" cy="238.2" r="2.78"/><circle class="c18" cx="606.1" cy="238.2" r="2.78"/><circle class="c0" cx="576.1" cy="238.8" r="2.78"/><circle class="c20" cx="623.6" cy="241.3" r="2.78"/><circle class="c17" cx="618.6" cy="238.2" r="2.78"/><circle class="c23" cx="636.6" cy="238.2" r="2.78"/><circle class="c19" cx="611.1" cy="239.2" r="2.78"/><circle class="c7" cx="593.5" cy="239.3" r="2.78"/><circle class="c23" cx="638.5" cy="238.2" r="2.78"/><circle class="c15" cx="621.1" cy="239.4" r="2.78"/><circle class="c19" cx="616.1" cy="236.0" r="2.78"/><circle class="c2" cx="577.8" cy="238.2" r="2.78"/><circle class="c0" cx="589.0" cy="236.9" r="2.78"/><circle class="c22" cx="617.5" cy="229.5" r="2.78"/><circle class="c1" cx="585.9" cy="238.2" r="2.78"/><circle class="c21" cx="608.6" cy="239.5" r="2.78"/><circle class="c16" cx="618.6" cy="250.3" r="2.78"/><circle class="c16" cx="633.6" cy="239.2" r="2.78"/><circle class="c19" cx="618.6" cy="243.3" r="2.78"/><circle class="c16" cx="622.3" cy="239.2" r="2.78"/><circle class="c20" cx="614.8" cy="238.2" r="2.78"/><circle class="c7" cx="596.4" cy="238.9" r="2.78"/><circle class="c20" cx="612.3" cy="238.2" r="2.78"/><circle class="c0" cx="587.5" cy="237.2" r="2.78"/><circle class="c20" cx="618.6" cy="231.2" r="2.78"/><circle class="c20" cx="616.1" cy="237.1" r="2.78"/><circle class="c11" cx="604.6" cy="239.5" r="2.78"/><circle class="c23" cx="636.6" cy="237.4" r="2.78"/><circle class="c18" cx="623.6" cy="239.7" r="2.78"/><circle class="c20" cx="629.8" cy="240.1" r="2.78"/><circle class="c15" cx="617.5" cy="234.7" r="2.78"/><circle class="c17" cx="618.6" cy="231.2" r="2.78"/><circle class="c20" cx="618.0" cy="248.5" r="2.78"/><circle class="c17" cx="617.5" cy="231.2" r="2.78"/><circle class="c19" cx="618.0" cy="245.1" r="2.78"/><circle class="c18" cx="624.8" cy="238.2" r="2.78"/><circle class="c16" cx="618.0" cy="246.8" r="2.78"/><circle class="c22" cx="617.5" cy="243.3" r="2.78"/><circle class="c0" cx="580.9" cy="239.8" r="2.78"/><circle class="c18" cx="614.8" cy="240.3" r="2.78"/><circle class="c18" cx="618.6" cy="226.0" r="2.78"/><circle class="c5" cx="592.0" cy="238.2" r="2.78"/><circle class="c21" cx="617.5" cy="236.4" r="2.78"/><circle class="c1" cx="590.1" cy="239.1" r="2.78"/><circle class="c22" cx="617.5" cy="248.5" r="2.78"/><circle class="c18" cx="618.6" cy="239.9" r="2.78"/><circle class="c20" cx="626.1" cy="238.2" r="2.78"/><circle class="c19" cx="618.0" cy="239.9" r="2.78"/><circle class="c17" cx="617.3" cy="226.0" r="2.78"/><circle class="c18" cx="606.1" cy="237.1" r="2.78"/><circle class="c20" cx="618.0" cy="250.3" r="2.78"/><circle class="c17" cx="618.6" cy="234.7" r="2.78"/><circle class="c23" cx="619.8" cy="236.2" r="2.78"/><circle class="c13" cx="619.8" cy="238.2" r="2.78"/><circle class="c0" cx="580.9" cy="238.2" r="2.78"/><circle class="c22" cx="619.8" cy="239.1" r="2.78"/><circle class="c0" cx="589.0" cy="239.4" r="2.78"/><circle class="c19" cx="624.8" cy="239.2" r="2.78"/><circle class="c7" cx="583.4" cy="238.2" r="2.78"/><circle class="c15" cx="622.3" cy="237.1" r="2.78"/><circle class="c3" cx="580.9" cy="236.5" r="2.78"/><circle class="c6" cx="599.9" cy="237.0" r="2.78"/><circle class="c18" cx="618.0" cy="233.0" r="2.78"/><circle class="c20" cx="618.6" cy="238.2" r="2.78"/><circle class="c16" cx="617.3" cy="248.5" r="2.78"/><circle class="c6" cx="596.4" cy="238.2" r="2.78"/><circle class="c5" cx="596.4" cy="237.4" r="2.78"/><circle class="c23" cx="626.1" cy="240.2" r="2.78"/><circle class="c4" cx="579.6" cy="239.7" r="2.78"/><circle class="c7" cx="594.7" cy="236.9" r="2.78"/><circle class="c19" cx="618.6" cy="245.1" r="2.78"/><circle class="c4" cx="592.0" cy="237.1" r="2.78"/><circle class="c5" cx="594.7" cy="239.4" r="2.78"/><circle class="c19" cx="617.5" cy="238.2" r="2.78"/><circle class="c20" cx="629.8" cy="237.2" r="2.78"/><circle class="c6" cx="594.7" cy="238.2" r="2.78"/><circle class="c22" cx="633.6" cy="237.1" r="2.78"/><circle class="c5" cx="599.9" cy="238.2" r="2.78"/><circle class="c19" cx="617.5" cy="250.3" r="2.78"/><circle class="c18" cx="616.1" cy="240.3" r="2.78"/><circle class="c21" cx="622.3" cy="238.2" r="2.78"/><circle class="c17" cx="627.3" cy="236.3" r="2.78"/><circle class="c20" cx="618.0" cy="231.2" r="2.78"/><circle class="c10" cx="601.2" cy="239.2" r="2.78"/><circle class="c19" cx="618.6" cy="227.8" r="2.78"/><circle class="c15" cx="621.1" cy="240.7" r="2.78"/><circle class="c19" cx="614.8" cy="236.0" r="2.78"/><circle class="c23" cx="631.1" cy="236.4" r="2.78"/><circle class="c19" cx="624.8" cy="236.0" r="2.78"/><circle class="c18" cx="607.3" cy="238.2" r="2.78"/><circle class="c9" cx="601.2" cy="237.1" r="2.78"/><circle class="c19" cx="618.0" cy="229.5" r="2.78"/><circle class="c0" cx="582.1" cy="236.5" r="2.78"/><circle class="c21" cx="613.6" cy="238.2" r="2.78"/><circle class="c13" cx="618.6" cy="226.0" r="2.78"/><circle class="c15" cx="621.1" cy="235.6" r="2.78"/><circle class="c17" cx="617.3" cy="243.3" r="2.78"/><circle class="c2" cx="582.1" cy="238.2" r="2.78"/><circle class="c18" cx="616.1" cy="238.2" r="2.78"/><circle class="c17" cx="618.6" cy="229.5" r="2.78"/><circle class="c9" cx="603.2" cy="237.0" r="2.78"/><circle class="c17" cx="617.3" cy="236.4" r="2.78"/><circle class="c19" cx="618.6" cy="239.9" r="2.78"/><circle class="c17" cx="626.1" cy="239.2" r="2.78"/><circle class="c22" cx="614.8" cy="237.1" r="2.78"/><circle class="c16" cx="621.1" cy="238.2" r="2.78"/><circle class="c20" cx="618.6" cy="229.5" r="2.78"/><circle class="c23" cx="618.6" cy="233.0" r="2.78"/><circle class="c18" cx="618.6" cy="248.5" r="2.78"/><circle class="c0" cx="566.2" cy="238.2" r="2.78"/><circle class="c21" cx="624.8" cy="237.1" r="2.78"/><circle class="c20" cx="618.6" cy="241.6" r="2.78"/><circle class="c20" cx="612.3" cy="239.8" r="2.78"/><circle class="c17" cx="632.3" cy="236.7" r="2.78"/><circle class="c18" cx="618.6" cy="236.4" r="2.78"/><circle class="c17" cx="618.6" cy="241.6" r="2.78"/><circle class="c18" cx="629.8" cy="236.2" r="2.78"/><circle class="c22" cx="634.8" cy="238.2" r="2.78"/><circle class="c18" cx="618.6" cy="248.5" r="2.78"/><circle class="c13" cx="623.6" cy="236.6" r="2.78"/><circle class="c20" cx="617.5" cy="245.1" r="2.78"/><circle class="c18" cx="617.3" cy="231.2" r="2.78"/><circle class="c0" cx="579.6" cy="236.6" r="2.78"/><circle class="c4" cx="577.8" cy="239.3" r="2.78"/><circle class="c21" cx="628.6" cy="238.2" r="2.78"/><circle class="c0" cx="584.6" cy="238.2" r="2.78"/><circle class="c1" cx="587.5" cy="239.1" r="2.78"/><circle class="c23" cx="632.3" cy="238.2" r="2.78"/><circle class="c7" cx="598.7" cy="239.1" r="2.78"/><circle class="c19" cx="618.0" cy="226.0" r="2.78"/><circle class="c19" cx="617.3" cy="239.9" r="2.78"/><circle class="c23" cx="617.5" cy="233.0" r="2.78"/><circle class="c23" cx="627.3" cy="240.0" r="2.78"/><circle class="c22" cx="634.8" cy="237.4" r="2.78"/><circle class="c23" cx="606.1" cy="239.2" r="2.78"/><circle class="c18" cx="619.8" cy="240.1" r="2.78"/><circle class="c23" cx="627.3" cy="238.2" r="2.78"/><circle class="c17" cx="604.6" cy="238.2" r="2.78"/><circle class="c0" cx="569.5" cy="238.2" r="2.78"/><circle class="c22" cx="629.8" cy="239.1" r="2.78"/><circle class="c4" cx="590.1" cy="237.2" r="2.78"/><circle class="c19" cx="617.3" cy="246.8" r="2.78"/><circle class="c18" cx="618.0" cy="241.6" r="2.78"/><circle class="c19" cx="617.5" cy="246.8" r="2.78"/><circle class="c13" cx="617.3" cy="234.7" r="2.78"/><circle class="c6" cx="592.0" cy="239.2" r="2.78"/><circle class="c20" cx="617.3" cy="241.6" r="2.78"/><circle class="c20" cx="617.3" cy="227.8" r="2.78"/><circle class="c15" cx="622.3" cy="240.2" r="2.78"/><circle class="c18" cx="612.3" cy="236.5" r="2.78"/><circle class="c19" cx="617.3" cy="250.3" r="2.78"/><circle class="c14" cx="617.3" cy="245.1" r="2.78"/><circle class="c19" cx="607.3" cy="239.6" r="2.78"/><circle class="c20" cx="617.5" cy="227.8" r="2.78"/><circle class="c20" cx="617.5" cy="239.9" r="2.78"/><circle class="c19" cx="617.3" cy="229.5" r="2.78"/><circle class="c16" cx="618.6" cy="246.8" r="2.78"/><circle class="c21" cx="613.6" cy="236.9" r="2.78"/><circle class="c20" cx="623.6" cy="238.2" r="2.78"/><circle class="c19" cx="608.6" cy="236.8" r="2.78"/><circle class="c14" cx="622.3" cy="236.1" r="2.78"/><circle class="c21" cx="618.6" cy="233.0" r="2.78"/><circle class="c19" cx="631.1" cy="239.9" r="2.78"/><circle class="c0" cx="579.6" cy="238.2" r="2.78"/><circle class="c22" cx="634.8" cy="238.9" r="2.78"/><circle class="c22" cx="613.6" cy="239.4" r="2.78"/><circle class="c0" cx="571.3" cy="238.2" r="2.78"/><circle class="c9" cx="622.6" cy="237.2" r="2.78"/><circle class="c12" cx="618.6" cy="241.2" r="2.78"/></g><g><circle class="c11" cx="612.6" cy="279.9" r="2.78"/><circle class="c13" cx="613.2" cy="266.1" r="2.78"/><circle class="c8" cx="615.0" cy="274.8" r="2.78"/><circle class="c2" cx="603.8" cy="274.6" r="2.78"/><circle class="c4" cx="622.5" cy="275.9" r="2.78"/><circle class="c0" cx="590.0" cy="275.7" r="2.78"/><circle class="c0" cx="597.5" cy="278.8" r="2.78"/><circle class="c1" cx="601.3" cy="269.5" r="2.78"/><circle class="c0" cx="593.3" cy="268.6" r="2.78"/><circle class="c16" cx="612.5" cy="271.3" r="2.78"/><circle class="c9" cx="618.8" cy="274.4" r="2.78"/><circle class="c12" cx="612.6" cy="273.0" r="2.78"/><circle class="c22" cx="642.0" cy="273.6" r="2.78"/><circle class="c14" cx="627.5" cy="270.7" r="2.78"/><circle class="c0" cx="593.8" cy="271.5" r="2.78"/><circle class="c4" cx="596.1" cy="268.6" r="2.78"/><circle class="c0" cx="566.3" cy="273.0" r="2.78"/><circle class="c12" cx="612.5" cy="261.0" r="2.78"/><circle class="c0" cx="581.7" cy="273.9" r="2.78"/><circle class="c0" cx="568.0" cy="273.0" r="2.78"/><circle class="c1" cx="591.3" cy="275.6" r="2.78"/><circle class="c0" cx="598.8" cy="274.4" r="2.78"/><circle class="c2" cx="579.1" cy="273.0" r="2.78"/><circle class="c22" cx="634.0" cy="272.5" r="2.78"/><circle class="c15" cx="612.5" cy="262.7" r="2.78"/><circle class="c2" cx="605.0" cy="273.0" r="2.78"/><circle class="c1" cx="598.8" cy="275.9" r="2.78"/><circle class="c10" cx="625.0" cy="271.7" r="2.78"/><circle class="c13" cx="613.2" cy="274.7" r="2.78"/><circle class="c0" cx="601.3" cy="273.0" r="2.78"/><circle class="c0" cx="593.8" cy="268.6" r="2.78"/><circle class="c10" cx="610.0" cy="275.3" r="2.78"/><circle class="c0" cx="579.1" cy="274.0" r="2.78"/><circle class="c1" cx="598.8" cy="268.6" r="2.78"/><circle class="c3" cx="600.0" cy="277.0" r="2.78"/><circle class="c17" cx="612.1" cy="261.0" r="2.78"/><circle class="c0" cx="597.5" cy="270.1" r="2.78"/><circle class="c1" cx="618.8" cy="271.6" r="2.78"/><circle class="c3" cx="591.3" cy="277.0" r="2.78"/><circle class="c13" cx="612.1" cy="269.5" r="2.78"/><circle class="c1" cx="598.8" cy="273.0" r="2.78"/><circle class="c0" cx="602.5" cy="271.3" r="2.78"/><circle class="c0" cx="598.8" cy="270.1" r="2.78"/><circle class="c9" cx="616.3" cy="273.0" r="2.78"/><circle class="c23" cx="689.3" cy="273.0" r="2.78"/><circle class="c0" cx="587.5" cy="273.0" r="2.78"/><circle class="c1" cx="582.9" cy="271.9" r="2.78"/><circle class="c20" cx="634.0" cy="273.0" r="2.78"/><circle class="c0" cx="592.5" cy="273.0" r="2.78"/><circle class="c23" cx="647.5" cy="273.0" r="2.78"/><circle class="c4" cx="598.8" cy="271.5" r="2.78"/><circle class="c3" cx="605.0" cy="274.1" r="2.78"/><circle class="c1" cx="586.3" cy="271.9" r="2.78"/><circle class="c0" cx="593.8" cy="278.8" r="2.78"/><circle class="c8" cx="621.3" cy="273.0" r="2.78"/><circle class="c0" cx="593.3" cy="270.1" r="2.78"/><circle class="c11" cx="612.5" cy="274.7" r="2.78"/><circle class="c15" cx="612.6" cy="281.6" r="2.78"/><circle class="c7" cx="608.8" cy="274.4" r="2.78"/><circle class="c7" cx="606.3" cy="273.0" r="2.78"/><circle class="c1" cx="602.5" cy="274.7" r="2.78"/><circle class="c12" cx="612.5" cy="273.0" r="2.78"/><circle class="c13" cx="612.1" cy="279.9" r="2.78"/><circle class="c10" cx="612.6" cy="271.3" r="2.78"/><circle class="c1" cx="595.0" cy="274.4" r="2.78"/><circle class="c0" cx="590.0" cy="271.6" r="2.78"/><circle class="c23" cx="645.7" cy="272.5" r="2.78"/><circle class="c17" cx="627.5" cy="274.1" r="2.78"/><circle class="c0" cx="596.3" cy="277.3" r="2.78"/><circle class="c20" cx="645.7" cy="273.0" r="2.78"/><circle class="c0" cx="559.6" cy="273.0" r="2.78"/><circle class="c10" cx="610.0" cy="273.0" r="2.78"/><circle class="c0" cx="585.1" cy="271.8" r="2.78"/><circle class="c1" cx="591.3" cy="271.7" r="2.78"/><circle class="c0" cx="596.1" cy="273.0" r="2.78"/><circle class="c3" cx="596.3" cy="274.4" r="2.78"/><circle class="c23" cx="637.1" cy="273.6" r="2.78"/><circle class="c0" cx="588.8" cy="270.4" r="2.78"/><circle class="c0" cx="598.8" cy="268.6" r="2.78"/><circle class="c10" cx="612.6" cy="285.0" r="2.78"/><circle class="c7" cx="621.3" cy="270.5" r="2.78"/><circle class="c20" cx="639.1" cy="273.7" r="2.78"/><circle class="c1" cx="585.1" cy="274.2" r="2.78"/><circle class="c11" cx="625.0" cy="274.3" r="2.78"/><circle class="c2" cx="563.5" cy="273.0" r="2.78"/><circle class="c0" cx="595.0" cy="273.0" r="2.78"/><circle class="c1" cx="600.0" cy="270.3" r="2.78"/><circle class="c8" cx="606.3" cy="274.2" r="2.78"/><circle class="c23" cx="639.1" cy="273.0" r="2.78"/><circle class="c11" cx="612.1" cy="278.1" r="2.78"/><circle class="c4" cx="605.0" cy="271.8" r="2.78"/><circle class="c12" cx="612.1" cy="264.4" r="2.78"/><circle class="c9" cx="615.0" cy="271.2" r="2.78"/><circle class="c2" cx="596.3" cy="275.9" r="2.78"/><circle class="c3" cx="591.3" cy="273.0" r="2.78"/><circle class="c22" cx="632.1" cy="272.2" r="2.78"/><circle class="c22" cx="644.0" cy="273.0" r="2.78"/><circle class="c4" cx="617.5" cy="274.7" r="2.78"/><circle class="c9" cx="613.2" cy="262.7" r="2.78"/><circle class="c9" cx="611.3" cy="273.0" r="2.78"/><circle class="c9" cx="612.6" cy="269.5" r="2.78"/><circle class="c0" cx="593.3" cy="273.0" r="2.78"/><circle class="c5" cx="620.0" cy="274.1" r="2.78"/><circle class="c9" cx="622.5" cy="273.0" r="2.78"/><circle class="c12" cx="612.6" cy="267.8" r="2.78"/><circle class="c3" cx="598.8" cy="277.3" r="2.78"/><circle class="c3" cx="577.0" cy="273.0" r="2.78"/><circle class="c0" cx="587.5" cy="271.6" r="2.78"/><circle class="c16" cx="612.5" cy="278.1" r="2.78"/><circle class="c2" cx="590.0" cy="270.3" r="2.78"/><circle class="c9" cx="607.5" cy="274.8" r="2.78"/><circle class="c23" cx="640.9" cy="273.0" r="2.78"/><circle class="c23" cx="644.0" cy="273.3" r="2.78"/><circle class="c20" cx="637.1" cy="273.0" r="2.78"/><circle class="c3" cx="601.3" cy="276.4" r="2.78"/><circle class="c0" cx="601.3" cy="271.3" r="2.78"/><circle class="c7" cx="597.5" cy="274.4" r="2.78"/><circle class="c22" cx="652.1" cy="273.0" r="2.78"/><circle class="c5" cx="592.5" cy="271.7" r="2.78"/><circle class="c11" cx="611.3" cy="274.2" r="2.78"/><circle class="c2" cx="593.8" cy="267.2" r="2.78"/><circle class="c13" cx="612.1" cy="266.1" r="2.78"/><circle class="c0" cx="592.5" cy="274.3" r="2.78"/><circle class="c0" cx="579.1" cy="272.0" r="2.78"/><circle class="c3" cx="595.0" cy="267.2" r="2.78"/><circle class="c0" cx="577.0" cy="272.2" r="2.78"/><circle class="c22" cx="628.8" cy="273.0" r="2.78"/><circle class="c0" cx="593.3" cy="271.5" r="2.78"/><circle class="c11" cx="613.2" cy="285.0" r="2.78"/><circle class="c0" cx="593.3" cy="274.4" r="2.78"/><circle class="c0" cx="600.0" cy="269.0" r="2.78"/><circle class="c0" cx="595.0" cy="271.5" r="2.78"/><circle class="c5" cx="606.3" cy="270.5" r="2.78"/><circle class="c19" cx="637.1" cy="272.3" r="2.78"/><circle class="c4" cx="591.3" cy="274.3" r="2.78"/><circle class="c9" cx="616.3" cy="275.5" r="2.78"/><circle class="c1" cx="574.9" cy="273.7" r="2.78"/><circle class="c9" cx="613.2" cy="273.0" r="2.78"/><circle class="c0" cx="592.5" cy="275.6" r="2.78"/><circle class="c2" cx="593.3" cy="267.2" r="2.78"/><circle class="c2" cx="593.8" cy="274.4" r="2.78"/><circle class="c1" cx="596.1" cy="278.8" r="2.78"/><circle class="c22" cx="669.8" cy="273.0" r="2.78"/><circle class="c20" cx="644.0" cy="272.6" r="2.78"/><circle class="c1" cx="596.3" cy="273.0" r="2.78"/><circle class="c4" cx="617.5" cy="271.3" r="2.78"/><circle class="c3" cx="605.0" cy="275.3" r="2.78"/><circle class="c0" cx="586.3" cy="274.0" r="2.78"/><circle class="c0" cx="603.8" cy="271.4" r="2.78"/><circle class="c10" cx="608.8" cy="270.2" r="2.78"/><circle class="c1" cx="577.0" cy="273.8" r="2.78"/><circle class="c0" cx="593.3" cy="277.3" r="2.78"/><circle class="c2" cx="593.3" cy="278.8" r="2.78"/><circle class="c9" cx="612.6" cy="278.1" r="2.78"/><circle class="c6" cx="612.5" cy="276.4" r="2.78"/><circle class="c5" cx="596.1" cy="270.1" r="2.78"/><circle class="c2" cx="580.3" cy="273.0" r="2.78"/><circle class="c6" cx="623.8" cy="271.7" r="2.78"/><circle class="c10" cx="612.6" cy="266.1" r="2.78"/><circle class="c4" cx="602.5" cy="273.0" r="2.78"/><circle class="c9" cx="612.1" cy="267.8" r="2.78"/><circle class="c9" cx="612.6" cy="283.3" r="2.78"/><circle class="c1" cx="603.8" cy="273.0" r="2.78"/><circle class="c23" cx="630.0" cy="273.0" r="2.78"/><circle class="c1" cx="596.1" cy="267.2" r="2.78"/><circle class="c0" cx="596.1" cy="275.9" r="2.78"/><circle class="c23" cx="662.4" cy="273.0" r="2.78"/><circle class="c0" cx="581.7" cy="273.0" r="2.78"/><circle class="c9" cx="612.6" cy="276.4" r="2.78"/><circle class="c0" cx="571.6" cy="273.0" r="2.78"/><circle class="c7" cx="626.3" cy="273.0" r="2.78"/><circle class="c0" cx="581.7" cy="272.1" r="2.78"/><circle class="c12" cx="611.3" cy="271.8" r="2.78"/><circle class="c0" cx="597.5" cy="267.2" r="2.78"/><circle class="c0" cx="598.8" cy="273.0" r="2.78"/><circle class="c0" cx="596.3" cy="270.1" r="2.78"/><circle class="c10" cx="613.2" cy="267.8" r="2.78"/><circle class="c13" cx="627.5" cy="273.0" r="2.78"/><circle class="c7" cx="612.5" cy="279.9" r="2.78"/><circle class="c2" cx="595.0" cy="275.9" r="2.78"/><circle class="c6" cx="607.5" cy="273.0" r="2.78"/><circle class="c5" cx="612.1" cy="273.0" r="2.78"/><circle class="c11" cx="612.5" cy="267.8" r="2.78"/><circle class="c21" cx="630.0" cy="272.1" r="2.78"/><circle class="c23" cx="639.1" cy="272.3" r="2.78"/><circle class="c10" cx="613.2" cy="261.0" r="2.78"/><circle class="c4" cx="612.1" cy="276.4" r="2.78"/><circle class="c0" cx="598.8" cy="277.3" r="2.78"/><circle class="c8" cx="621.3" cy="271.7" r="2.78"/><circle class="c7" cx="618.8" cy="275.7" r="2.78"/><circle class="c0" cx="598.8" cy="278.8" r="2.78"/><circle class="c7" cx="625.0" cy="275.6" r="2.78"/><circle class="c23" cx="635.1" cy="273.0" r="2.78"/><circle class="c0" cx="598.8" cy="270.1" r="2.78"/><circle class="c14" cx="615.0" cy="273.0" r="2.78"/><circle class="c23" cx="645.7" cy="273.5" r="2.78"/><circle class="c0" cx="574.9" cy="272.2" r="2.78"/><circle class="c1" cx="595.0" cy="268.6" r="2.78"/><circle class="c3" cx="596.1" cy="277.3" r="2.78"/><circle class="c20" cx="640.9" cy="273.6" r="2.78"/><circle class="c0" cx="593.8" cy="270.1" r="2.78"/><circle class="c11" cx="622.5" cy="274.4" r="2.78"/><circle class="c15" cx="612.1" cy="281.6" r="2.78"/><circle class="c10" cx="612.1" cy="262.7" r="2.78"/><circle class="c0" cx="590.0" cy="273.0" r="2.78"/><circle class="c3" cx="588.8" cy="273.0" r="2.78"/><circle class="c5" cx="626.3" cy="274.4" r="2.78"/><circle class="c3" cx="616.3" cy="270.5" r="2.78"/><circle class="c8" cx="613.2" cy="276.4" r="2.78"/><circle class="c0" cx="595.0" cy="270.1" r="2.78"/><circle class="c10" cx="620.0" cy="270.8" r="2.78"/><circle class="c19" cx="628.8" cy="271.3" r="2.78"/><circle class="c20" cx="634.0" cy="273.5" r="2.78"/><circle class="c3" cx="598.8" cy="274.4" r="2.78"/><circle class="c0" cx="601.3" cy="274.7" r="2.78"/><circle class="c12" cx="612.6" cy="261.0" r="2.78"/><circle class="c23" cx="665.0" cy="273.0" r="2.78"/><circle class="c5" cx="616.3" cy="274.2" r="2.78"/><circle class="c13" cx="611.3" cy="275.4" r="2.78"/><circle class="c16" cx="628.8" cy="274.7" r="2.78"/><circle class="c0" cx="556.0" cy="273.0" r="2.78"/><circle class="c7" cx="606.3" cy="275.4" r="2.78"/><circle class="c0" cx="580.3" cy="271.8" r="2.78"/><circle class="c21" cx="635.1" cy="272.4" r="2.78"/><circle class="c5" cx="580.3" cy="274.2" r="2.78"/><circle class="c3" cx="617.5" cy="273.0" r="2.78"/><circle class="c23" cx="758.0" cy="273.0" r="2.78"/><circle class="c0" cx="592.5" cy="270.3" r="2.78"/><circle class="c2" cx="588.8" cy="274.3" r="2.78"/><circle class="c0" cx="595.0" cy="278.8" r="2.78"/><circle class="c10" cx="616.3" cy="271.7" r="2.78"/><circle class="c3" cx="600.0" cy="275.6" r="2.78"/><circle class="c9" cx="613.2" cy="279.9" r="2.78"/><circle class="c8" cx="621.3" cy="274.2" r="2.78"/><circle class="c9" cx="613.2" cy="269.5" r="2.78"/><circle class="c5" cx="588.8" cy="275.5" r="2.78"/><circle class="c22" cx="632.1" cy="273.0" r="2.78"/><circle class="c7" cx="620.0" cy="273.0" r="2.78"/><circle class="c4" cx="591.3" cy="270.3" r="2.78"/><circle class="c22" cx="630.0" cy="273.9" r="2.78"/><circle class="c0" cx="597.5" cy="277.3" r="2.78"/><circle class="c0" cx="597.5" cy="271.5" r="2.78"/><circle class="c11" cx="613.2" cy="283.3" r="2.78"/><circle class="c4" cx="606.3" cy="271.8" r="2.78"/><circle class="c23" cx="685.4" cy="273.0" r="2.78"/><circle class="c0" cx="598.8" cy="267.2" r="2.78"/><circle class="c1" cx="596.1" cy="271.5" r="2.78"/><circle class="c11" cx="627.5" cy="271.8" r="2.78"/><circle class="c8" cx="621.3" cy="275.5" r="2.78"/><circle class="c13" cx="612.6" cy="264.4" r="2.78"/><circle class="c7" cx="612.6" cy="274.7" r="2.78"/><circle class="c13" cx="627.5" cy="275.3" r="2.78"/><circle class="c1" cx="598.8" cy="278.8" r="2.78"/><circle class="c1" cx="600.0" cy="274.3" r="2.78"/><circle class="c5" cx="623.8" cy="274.3" r="2.78"/><circle class="c2" cx="593.8" cy="275.9" r="2.78"/><circle class="c2" cx="597.5" cy="268.6" r="2.78"/><circle class="c0" cx="597.5" cy="273.0" r="2.78"/><circle class="c0" cx="596.1" cy="274.4" r="2.78"/><circle class="c2" cx="592.5" cy="269.0" r="2.78"/><circle class="c13" cx="626.3" cy="270.2" r="2.78"/><circle class="c3" cx="591.3" cy="269.0" r="2.78"/><circle class="c3" cx="588.8" cy="271.7" r="2.78"/><circle class="c4" cx="605.0" cy="270.7" r="2.78"/><circle class="c10" cx="608.8" cy="271.6" r="2.78"/><circle class="c0" cx="593.3" cy="275.9" r="2.78"/><circle class="c11" cx="618.8" cy="270.2" r="2.78"/><circle class="c11" cx="612.5" cy="266.1" r="2.78"/><circle class="c0" cx="582.9" cy="273.0" r="2.78"/><circle class="c5" cx="574.9" cy="273.0" r="2.78"/><circle class="c9" cx="613.2" cy="264.4" r="2.78"/><circle class="c6" cx="607.5" cy="271.1" r="2.78"/><circle class="c0" cx="593.8" cy="277.3" r="2.78"/><circle class="c12" cx="611.3" cy="270.6" r="2.78"/><circle class="c13" cx="612.1" cy="283.3" r="2.78"/><circle class="c5" cx="625.0" cy="273.0" r="2.78"/><circle class="c6" cx="613.2" cy="278.1" r="2.78"/><circle class="c6" cx="623.8" cy="275.6" r="2.78"/><circle class="c11" cx="610.0" cy="271.8" r="2.78"/><circle class="c0" cx="590.0" cy="274.3" r="2.78"/><circle class="c12" cx="626.3" cy="275.8" r="2.78"/><circle class="c23" cx="640.9" cy="272.4" r="2.78"/><circle class="c11" cx="612.6" cy="262.7" r="2.78"/><circle class="c23" cx="511.4" cy="273.0" r="2.78"/><circle class="c3" cx="596.3" cy="271.5" r="2.78"/><circle class="c2" cx="582.9" cy="274.1" r="2.78"/><circle class="c12" cx="612.5" cy="285.0" r="2.78"/><circle class="c0" cx="596.3" cy="268.6" r="2.78"/><circle class="c11" cx="626.3" cy="271.6" r="2.78"/><circle class="c22" cx="668.2" cy="273.0" r="2.78"/><circle class="c20" cx="635.1" cy="273.6" r="2.78"/><circle class="c6" cx="600.0" cy="271.7" r="2.78"/><circle class="c5" cx="593.8" cy="273.0" r="2.78"/><circle class="c10" cx="608.8" cy="275.8" r="2.78"/><circle class="c22" cx="642.0" cy="273.0" r="2.78"/><circle class="c11" cx="623.8" cy="273.0" r="2.78"/><circle class="c8" cx="613.8" cy="273.0" r="2.78"/><circle class="c4" cx="623.8" cy="270.4" r="2.78"/><circle class="c6" cx="620.0" cy="275.2" r="2.78"/><circle class="c11" cx="608.8" cy="273.0" r="2.78"/><circle class="c4" cx="592.5" cy="277.0" r="2.78"/><circle class="c9" cx="625.0" cy="270.4" r="2.78"/><circle class="c20" cx="632.1" cy="273.8" r="2.78"/><circle class="c12" cx="613.8" cy="274.7" r="2.78"/><circle class="c0" cx="598.8" cy="267.2" r="2.78"/><circle class="c22" cx="642.0" cy="272.4" r="2.78"/><circle class="c9" cx="612.5" cy="264.4" r="2.78"/><circle class="c10" cx="610.0" cy="274.2" r="2.78"/><circle class="c0" cx="598.8" cy="271.5" r="2.78"/><circle class="c23" cx="545.8" cy="273.0" r="2.78"/><circle class="c7" cx="622.5" cy="270.1" r="2.78"/><circle class="c11" cx="612.5" cy="269.5" r="2.78"/><circle class="c11" cx="613.2" cy="281.6" r="2.78"/><circle class="c3" cx="586.3" cy="273.0" r="2.78"/><circle class="c11" cx="612.5" cy="283.3" r="2.78"/><circle class="c3" cx="597.5" cy="275.9" r="2.78"/><circle class="c11" cx="612.1" cy="274.7" r="2.78"/><circle class="c8" cx="612.5" cy="281.6" r="2.78"/><circle class="c1" cx="596.3" cy="267.2" r="2.78"/><circle class="c0" cx="587.5" cy="274.4" r="2.78"/><circle class="c10" cx="612.1" cy="271.3" r="2.78"/><circle class="c5" cx="600.0" cy="273.0" r="2.78"/><circle class="c0" cx="595.0" cy="277.3" r="2.78"/><circle class="c4" cx="618.8" cy="273.0" r="2.78"/><circle class="c13" cx="612.1" cy="285.0" r="2.78"/><circle class="c0" cx="585.1" cy="273.0" r="2.78"/><circle class="c19" cx="660.4" cy="273.0" r="2.78"/><circle class="c8" cx="613.2" cy="271.3" r="2.78"/><circle class="c0" cx="596.3" cy="278.8" r="2.78"/><circle class="c9" cx="613.8" cy="271.3" r="2.78"/><circle class="c11" cx="610.0" cy="270.6" r="2.78"/><circle class="c7" cx="620.0" cy="271.9" r="2.78"/><circle class="c23" cx="656.2" cy="273.0" r="2.78"/><circle class="c7" cx="622.5" cy="271.5" r="2.78"/><circle class="c0" cx="598.8" cy="275.9" r="2.78"/><circle class="c23" cx="571.0" cy="273.0" r="2.78"/><circle class="c10" cx="632.5" cy="273.0" r="2.78"/><circle class="c16" cx="644.0" cy="273.0" r="2.78"/></g><g><circle class="c0" cx="589.2" cy="309.1" r="2.78"/><circle class="c15" cx="624.8" cy="306.6" r="2.78"/><circle class="c22" cx="636.2" cy="308.3" r="2.78"/><circle class="c6" cx="608.6" cy="307.8" r="2.78"/><circle class="c1" cx="587.6" cy="307.8" r="2.78"/><circle class="c11" cx="617.6" cy="307.8" r="2.78"/><circle class="c10" cx="612.3" cy="302.7" r="2.78"/><circle class="c10" cx="612.3" cy="309.5" r="2.78"/><circle class="c22" cx="630.4" cy="307.2" r="2.78"/><circle class="c0" cx="585.3" cy="307.8" r="2.78"/><circle class="c8" cx="617.6" cy="305.9" r="2.78"/><circle class="c8" cx="616.1" cy="311.5" r="2.78"/><circle class="c1" cx="594.8" cy="309.2" r="2.78"/><circle class="c9" cx="616.1" cy="306.0" r="2.78"/><circle class="c6" cx="607.3" cy="306.8" r="2.78"/><circle class="c22" cx="634.2" cy="307.3" r="2.78"/><circle class="c3" cx="599.8" cy="309.0" r="2.78"/><circle class="c17" cx="623.6" cy="306.0" r="2.78"/><circle class="c22" cx="634.2" cy="307.8" r="2.78"/><circle class="c23" cx="655.4" cy="307.8" r="2.78"/><circle class="c10" cx="616.1" cy="307.8" r="2.78"/><circle class="c9" cx="613.6" cy="316.4" r="2.78"/><circle class="c2" cx="593.6" cy="309.0" r="2.78"/><circle class="c6" cx="612.3" cy="314.7" r="2.78"/><circle class="c21" cx="637.9" cy="307.8" r="2.78"/><circle class="c7" cx="613.6" cy="299.2" r="2.78"/><circle class="c1" cx="598.6" cy="310.0" r="2.78"/><circle class="c12" cx="611.1" cy="306.6" r="2.78"/><circle class="c14" cx="621.1" cy="308.8" r="2.78"/><circle class="c15" cx="624.8" cy="309.0" r="2.78"/><circle class="c12" cx="612.8" cy="297.5" r="2.78"/><circle class="c10" cx="613.3" cy="302.7" r="2.78"/><circle class="c7" cx="612.3" cy="302.7" r="2.78"/><circle class="c9" cx="613.6" cy="307.8" r="2.78"/><circle class="c11" cx="613.3" cy="318.1" r="2.78"/><circle class="c10" cx="614.8" cy="307.8" r="2.78"/><circle class="c11" cx="617.6" cy="304.1" r="2.78"/><circle class="c18" cx="627.3" cy="307.1" r="2.78"/><circle class="c22" cx="657.8" cy="307.8" r="2.78"/><circle class="c8" cx="608.6" cy="305.4" r="2.78"/><circle class="c23" cx="645.3" cy="307.8" r="2.78"/><circle class="c0" cx="590.4" cy="308.6" r="2.78"/><circle class="c14" cx="622.3" cy="306.7" r="2.78"/><circle class="c0" cx="594.8" cy="305.0" r="2.78"/><circle class="c0" cx="590.4" cy="307.8" r="2.78"/><circle class="c10" cx="618.6" cy="309.5" r="2.78"/><circle class="c10" cx="617.6" cy="311.6" r="2.78"/><circle class="c10" cx="612.3" cy="311.3" r="2.78"/><circle class="c11" cx="617.3" cy="305.9" r="2.78"/><circle class="c8" cx="612.8" cy="300.9" r="2.78"/><circle class="c9" cx="614.8" cy="306.6" r="2.78"/><circle class="c22" cx="630.4" cy="308.4" r="2.78"/><circle class="c1" cx="592.3" cy="309.3" r="2.78"/><circle class="c3" cx="602.3" cy="306.9" r="2.78"/><circle class="c9" cx="617.6" cy="313.4" r="2.78"/><circle class="c3" cx="577.6" cy="307.8" r="2.78"/><circle class="c10" cx="612.3" cy="306.1" r="2.78"/><circle class="c4" cx="606.1" cy="308.9" r="2.78"/><circle class="c17" cx="626.1" cy="306.6" r="2.78"/><circle class="c11" cx="617.3" cy="313.4" r="2.78"/><circle class="c0" cx="596.1" cy="311.3" r="2.78"/><circle class="c23" cx="642.3" cy="307.8" r="2.78"/><circle class="c23" cx="637.9" cy="307.1" r="2.78"/><circle class="c11" cx="613.6" cy="309.5" r="2.78"/><circle class="c7" cx="613.3" cy="297.5" r="2.78"/><circle class="c12" cx="612.8" cy="307.8" r="2.78"/><circle class="c9" cx="613.3" cy="304.4" r="2.78"/><circle class="c11" cx="617.3" cy="304.1" r="2.78"/><circle class="c9" cx="614.8" cy="310.2" r="2.78"/><circle class="c2" cx="587.6" cy="306.5" r="2.78"/><circle class="c21" cx="641.1" cy="307.4" r="2.78"/><circle class="c12" cx="614.8" cy="305.5" r="2.78"/><circle class="c9" cx="613.3" cy="314.7" r="2.78"/><circle class="c12" cx="617.3" cy="311.6" r="2.78"/><circle class="c3" cx="583.9" cy="306.7" r="2.78"/><circle class="c9" cx="612.3" cy="297.5" r="2.78"/><circle class="c3" cx="593.6" cy="306.6" r="2.78"/><circle class="c23" cx="636.2" cy="307.8" r="2.78"/><circle class="c9" cx="621.1" cy="306.8" r="2.78"/><circle class="c8" cx="612.3" cy="314.7" r="2.78"/><circle class="c3" cx="597.3" cy="309.5" r="2.78"/><circle class="c9" cx="612.3" cy="307.8" r="2.78"/><circle class="c0" cx="599.8" cy="305.5" r="2.78"/><circle class="c2" cx="573.3" cy="307.8" r="2.78"/><circle class="c23" cx="632.2" cy="308.7" r="2.78"/><circle class="c2" cx="593.6" cy="307.8" r="2.78"/><circle class="c2" cx="602.3" cy="307.8" r="2.78"/><circle class="c10" cx="613.6" cy="304.4" r="2.78"/><circle class="c22" cx="641.1" cy="308.2" r="2.78"/><circle class="c1" cx="582.6" cy="308.9" r="2.78"/><circle class="c11" cx="611.1" cy="307.8" r="2.78"/><circle class="c15" cx="623.6" cy="309.6" r="2.78"/><circle class="c10" cx="609.8" cy="307.8" r="2.78"/><circle class="c10" cx="617.6" cy="309.7" r="2.78"/><circle class="c12" cx="619.8" cy="309.6" r="2.78"/><circle class="c10" cx="613.3" cy="306.1" r="2.78"/><circle class="c1" cx="599.8" cy="307.8" r="2.78"/><circle class="c17" cx="624.8" cy="307.8" r="2.78"/><circle class="c13" cx="622.3" cy="307.8" r="2.78"/><circle class="c10" cx="618.6" cy="307.8" r="2.78"/><circle class="c11" cx="609.8" cy="306.3" r="2.78"/><circle class="c2" cx="590.4" cy="307.0" r="2.78"/><circle class="c0" cx="598.6" cy="308.9" r="2.78"/><circle class="c13" cx="622.3" cy="310.0" r="2.78"/><circle class="c0" cx="594.8" cy="307.8" r="2.78"/><circle class="c9" cx="613.6" cy="313.0" r="2.78"/><circle class="c9" cx="612.8" cy="311.3" r="2.78"/><circle class="c20" cx="648.1" cy="307.8" r="2.78"/><circle class="c12" cx="613.3" cy="311.3" r="2.78"/><circle class="c6" cx="606.1" cy="307.8" r="2.78"/><circle class="c16" cx="626.1" cy="307.8" r="2.78"/><circle class="c0" cx="598.6" cy="307.8" r="2.78"/><circle class="c9" cx="612.8" cy="304.4" r="2.78"/><circle class="c8" cx="613.3" cy="309.5" r="2.78"/><circle class="c6" cx="606.1" cy="305.6" r="2.78"/><circle class="c2" cx="603.6" cy="306.5" r="2.78"/><circle class="c23" cx="659.0" cy="307.8" r="2.78"/><circle class="c4" cx="602.3" cy="309.7" r="2.78"/><circle class="c3" cx="593.6" cy="305.4" r="2.78"/><circle class="c10" cx="618.6" cy="311.1" r="2.78"/><circle class="c10" cx="613.3" cy="299.2" r="2.78"/><circle class="c10" cx="617.3" cy="309.7" r="2.78"/><circle class="c3" cx="603.6" cy="307.8" r="2.78"/><circle class="c8" cx="611.1" cy="309.0" r="2.78"/><circle class="c8" cx="608.6" cy="306.6" r="2.78"/><circle class="c10" cx="608.6" cy="310.2" r="2.78"/><circle class="c10" cx="612.3" cy="316.4" r="2.78"/><circle class="c7" cx="607.3" cy="307.8" r="2.78"/><circle class="c11" cx="612.3" cy="306.1" r="2.78"/><circle class="c8" cx="617.3" cy="307.8" r="2.78"/><circle class="c11" cx="612.3" cy="319.8" r="2.78"/><circle class="c15" cx="622.3" cy="305.6" r="2.78"/><circle class="c1" cx="597.3" cy="306.1" r="2.78"/><circle class="c8" cx="612.8" cy="309.5" r="2.78"/><circle class="c0" cx="589.2" cy="307.8" r="2.78"/><circle class="c5" cx="606.1" cy="310.1" r="2.78"/><circle class="c11" cx="613.3" cy="300.9" r="2.78"/><circle class="c0" cx="592.3" cy="306.3" r="2.78"/><circle class="c8" cx="613.6" cy="306.1" r="2.78"/><circle class="c1" cx="585.3" cy="308.5" r="2.78"/><circle class="c0" cx="592.3" cy="307.8" r="2.78"/><circle class="c11" cx="619.8" cy="307.8" r="2.78"/><circle class="c5" cx="604.8" cy="307.8" r="2.78"/><circle class="c23" cx="651.7" cy="307.8" r="2.78"/><circle class="c10" cx="612.3" cy="295.8" r="2.78"/><circle class="c3" cx="602.3" cy="305.9" r="2.78"/><circle class="c22" cx="637.9" cy="308.6" r="2.78"/><circle class="c10" cx="612.8" cy="316.4" r="2.78"/><circle class="c13" cx="613.3" cy="295.8" r="2.78"/><circle class="c13" cx="621.1" cy="309.8" r="2.78"/><circle class="c11" cx="612.3" cy="295.8" r="2.78"/><circle class="c10" cx="612.3" cy="304.4" r="2.78"/><circle class="c11" cx="612.3" cy="311.3" r="2.78"/><circle class="c1" cx="585.3" cy="307.1" r="2.78"/><circle class="c10" cx="613.3" cy="319.8" r="2.78"/><circle class="c12" cx="619.8" cy="306.0" r="2.78"/><circle class="c0" cx="594.8" cy="306.4" r="2.78"/><circle class="c10" cx="616.1" cy="304.2" r="2.78"/><circle class="c9" cx="613.3" cy="307.8" r="2.78"/><circle class="c1" cx="596.1" cy="309.5" r="2.78"/><circle class="c8" cx="612.3" cy="297.5" r="2.78"/><circle class="c4" cx="604.8" cy="306.1" r="2.78"/><circle class="c0" cx="593.6" cy="310.3" r="2.78"/><circle class="c19" cx="627.3" cy="308.5" r="2.78"/><circle class="c20" cx="632.2" cy="307.8" r="2.78"/><circle class="c10" cx="612.3" cy="313.0" r="2.78"/><circle class="c12" cx="612.8" cy="306.1" r="2.78"/><circle class="c10" cx="612.3" cy="304.4" r="2.78"/><circle class="c11" cx="617.3" cy="302.2" r="2.78"/><circle class="c10" cx="618.6" cy="306.2" r="2.78"/><circle class="c8" cx="613.6" cy="297.5" r="2.78"/><circle class="c21" cx="641.1" cy="307.8" r="2.78"/><circle class="c21" cx="630.4" cy="307.8" r="2.78"/><circle class="c2" cx="603.6" cy="309.2" r="2.78"/><circle class="c14" cx="622.3" cy="308.9" r="2.78"/><circle class="c0" cx="596.1" cy="306.1" r="2.78"/><circle class="c0" cx="569.8" cy="307.8" r="2.78"/><circle class="c5" cx="602.3" cy="308.8" r="2.78"/><circle class="c0" cx="596.1" cy="304.4" r="2.78"/><circle class="c9" cx="612.3" cy="299.2" r="2.78"/><circle class="c11" cx="618.6" cy="304.5" r="2.78"/><circle class="c0" cx="580.6" cy="307.4" r="2.78"/><circle class="c23" cx="634.2" cy="308.3" r="2.78"/><circle class="c22" cx="628.7" cy="307.8" r="2.78"/><circle class="c10" cx="612.3" cy="318.1" r="2.78"/><circle class="c6" cx="609.8" cy="309.4" r="2.78"/><circle class="c1" cx="597.3" cy="311.2" r="2.78"/><circle class="c7" cx="612.3" cy="299.2" r="2.78"/><circle class="c0" cx="582.6" cy="306.8" r="2.78"/><circle class="c10" cx="617.6" cy="302.2" r="2.78"/><circle class="c1" cx="601.1" cy="307.8" r="2.78"/><circle class="c3" cx="604.8" cy="309.5" r="2.78"/><circle class="c9" cx="613.6" cy="314.7" r="2.78"/><circle class="c8" cx="607.3" cy="309.9" r="2.78"/><circle class="c9" cx="612.3" cy="319.8" r="2.78"/><circle class="c11" cx="613.6" cy="318.1" r="2.78"/><circle class="c12" cx="612.8" cy="302.7" r="2.78"/><circle class="c12" cx="612.8" cy="314.7" r="2.78"/><circle class="c12" cx="623.6" cy="307.8" r="2.78"/><circle class="c3" cx="599.8" cy="306.6" r="2.78"/><circle class="c23" cx="628.7" cy="308.8" r="2.78"/><circle class="c10" cx="614.8" cy="309.0" r="2.78"/><circle class="c23" cx="639.1" cy="308.4" r="2.78"/><circle class="c11" cx="616.1" cy="309.6" r="2.78"/><circle class="c9" cx="612.3" cy="309.5" r="2.78"/><circle class="c6" cx="613.6" cy="319.8" r="2.78"/><circle class="c9" cx="612.3" cy="318.1" r="2.78"/><circle class="c2" cx="601.1" cy="306.1" r="2.78"/><circle class="c10" cx="613.6" cy="295.8" r="2.78"/><circle class="c6" cx="611.1" cy="310.2" r="2.78"/><circle class="c0" cx="580.6" cy="307.8" r="2.78"/><circle class="c1" cx="597.3" cy="307.8" r="2.78"/><circle class="c19" cx="628.7" cy="306.9" r="2.78"/><circle class="c2" cx="582.6" cy="307.8" r="2.78"/><circle class="c11" cx="612.3" cy="300.9" r="2.78"/><circle class="c2" cx="587.6" cy="309.1" r="2.78"/><circle class="c2" cx="598.6" cy="305.7" r="2.78"/><circle class="c14" cx="621.1" cy="307.8" r="2.78"/><circle class="c7" cx="607.3" cy="305.8" r="2.78"/><circle class="c23" cx="639.1" cy="307.2" r="2.78"/><circle class="c8" cx="607.3" cy="308.8" r="2.78"/><circle class="c0" cx="598.6" cy="306.7" r="2.78"/><circle class="c10" cx="612.3" cy="316.4" r="2.78"/><circle class="c0" cx="594.8" cy="310.6" r="2.78"/><circle class="c11" cx="613.6" cy="311.3" r="2.78"/><circle class="c8" cx="606.1" cy="306.7" r="2.78"/><circle class="c1" cx="583.9" cy="307.8" r="2.78"/><circle class="c10" cx="612.8" cy="295.8" r="2.78"/><circle class="c3" cx="599.8" cy="310.2" r="2.78"/><circle class="c8" cx="613.6" cy="302.7" r="2.78"/><circle class="c1" cx="589.2" cy="306.5" r="2.78"/><circle class="c22" cx="636.2" cy="307.3" r="2.78"/><circle class="c10" cx="612.8" cy="318.1" r="2.78"/><circle class="c6" cx="613.6" cy="300.9" r="2.78"/><circle class="c13" cx="621.1" cy="305.8" r="2.78"/><circle class="c4" cx="580.6" cy="308.3" r="2.78"/><circle class="c3" cx="601.1" cy="309.5" r="2.78"/><circle class="c21" cx="632.2" cy="306.9" r="2.78"/><circle class="c0" cx="597.3" cy="304.5" r="2.78"/><circle class="c3" cx="558.6" cy="307.8" r="2.78"/><circle class="c9" cx="612.8" cy="319.8" r="2.78"/><circle class="c16" cx="627.3" cy="307.8" r="2.78"/><circle class="c8" cx="612.3" cy="307.8" r="2.78"/><circle class="c10" cx="613.3" cy="316.4" r="2.78"/><circle class="c7" cx="612.8" cy="299.2" r="2.78"/><circle class="c0" cx="583.9" cy="308.9" r="2.78"/><circle class="c23" cx="639.1" cy="307.8" r="2.78"/><circle class="c9" cx="608.6" cy="309.0" r="2.78"/><circle class="c12" cx="613.3" cy="313.0" r="2.78"/><circle class="c11" cx="612.8" cy="313.0" r="2.78"/><circle class="c11" cx="612.3" cy="300.9" r="2.78"/><circle class="c12" cx="612.3" cy="313.0" r="2.78"/><circle class="c1" cx="596.1" cy="307.8" r="2.78"/><circle class="c9" cx="611.1" cy="305.4" r="2.78"/><circle class="c19" cx="626.1" cy="309.1" r="2.78"/></g><g><circle class="c23" cx="608.8" cy="346.1" r="2.78"/><circle class="c21" cx="609.2" cy="347.9" r="2.78"/><circle class="c23" cx="611.3" cy="343.6" r="2.78"/><circle class="c23" cx="622.5" cy="341.5" r="2.78"/><circle class="c22" cx="607.8" cy="332.2" r="2.78"/><circle class="c22" cx="626.3" cy="344.6" r="2.78"/><circle class="c23" cx="607.8" cy="342.7" r="2.78"/><circle class="c23" cx="607.5" cy="333.9" r="2.78"/><circle class="c23" cx="607.8" cy="346.1" r="2.78"/><circle class="c22" cx="608.8" cy="335.7" r="2.78"/><circle class="c11" cx="597.0" cy="342.7" r="2.78"/><circle class="c23" cx="608.5" cy="340.9" r="2.78"/><circle class="c22" cx="617.9" cy="341.0" r="2.78"/><circle class="c21" cx="615.0" cy="343.8" r="2.78"/><circle class="c23" cx="616.3" cy="344.7" r="2.78"/><circle class="c23" cx="606.3" cy="343.8" r="2.78"/><circle class="c23" cx="608.8" cy="342.7" r="2.78"/><circle class="c23" cx="618.8" cy="344.7" r="2.78"/><circle class="c21" cx="621.3" cy="342.7" r="2.78"/><circle class="c23" cx="626.3" cy="341.7" r="2.78"/><circle class="c21" cx="608.5" cy="346.1" r="2.78"/><circle class="c23" cx="611.3" cy="340.7" r="2.78"/><circle class="c23" cx="608.8" cy="353.1" r="2.78"/><circle class="c22" cx="611.3" cy="341.7" r="2.78"/><circle class="c23" cx="617.5" cy="347.7" r="2.78"/><circle class="c21" cx="613.8" cy="340.7" r="2.78"/><circle class="c23" cx="607.5" cy="335.7" r="2.78"/><circle class="c23" cx="623.8" cy="341.5" r="2.78"/><circle class="c23" cx="608.8" cy="344.4" r="2.78"/><circle class="c23" cx="617.5" cy="346.0" r="2.78"/><circle class="c23" cx="607.8" cy="347.9" r="2.78"/><circle class="c7" cx="594.7" cy="342.7" r="2.78"/><circle class="c23" cx="607.5" cy="354.9" r="2.78"/><circle class="c23" cx="607.8" cy="354.9" r="2.78"/><circle class="c23" cx="617.9" cy="352.7" r="2.78"/><circle class="c3" cx="587.1" cy="342.0" r="2.78"/><circle class="c23" cx="625.0" cy="344.3" r="2.78"/><circle class="c22" cx="604.6" cy="342.7" r="2.78"/><circle class="c3" cx="587.1" cy="343.3" r="2.78"/><circle class="c21" cx="617.9" cy="344.3" r="2.78"/><circle class="c23" cx="609.2" cy="351.4" r="2.78"/><circle class="c3" cx="583.5" cy="342.7" r="2.78"/><circle class="c2" cx="585.8" cy="342.7" r="2.78"/><circle class="c22" cx="607.5" cy="340.9" r="2.78"/><circle class="c22" cx="623.8" cy="343.8" r="2.78"/><circle class="c22" cx="623.3" cy="340.9" r="2.78"/><circle class="c21" cx="617.5" cy="341.0" r="2.78"/><circle class="c23" cx="612.5" cy="344.6" r="2.78"/><circle class="c23" cx="609.2" cy="353.1" r="2.78"/><circle class="c23" cx="627.5" cy="342.7" r="2.78"/><circle class="c23" cx="617.9" cy="351.0" r="2.78"/><circle class="c23" cx="615.0" cy="340.4" r="2.78"/><circle class="c23" cx="607.5" cy="332.2" r="2.78"/><circle class="c22" cx="608.8" cy="339.2" r="2.78"/><circle class="c23" cx="618.8" cy="341.6" r="2.78"/><circle class="c21" cx="623.3" cy="337.4" r="2.78"/><circle class="c22" cx="620.0" cy="343.7" r="2.78"/><circle class="c23" cx="617.9" cy="336.0" r="2.78"/><circle class="c22" cx="620.0" cy="344.7" r="2.78"/><circle class="c22" cx="607.5" cy="353.1" r="2.78"/><circle class="c1" cx="588.5" cy="343.4" r="2.78"/><circle class="c23" cx="608.8" cy="330.4" r="2.78"/><circle class="c23" cx="610.0" cy="344.2" r="2.78"/><circle class="c23" cx="615.0" cy="341.5" r="2.78"/><circle class="c23" cx="612.5" cy="341.7" r="2.78"/><circle class="c23" cx="604.6" cy="341.7" r="2.78"/><circle class="c23" cx="609.2" cy="349.6" r="2.78"/><circle class="c23" cx="607.5" cy="337.4" r="2.78"/><circle class="c23" cx="612.5" cy="340.7" r="2.78"/><circle class="c23" cx="607.5" cy="339.2" r="2.78"/><circle class="c23" cx="622.5" cy="344.9" r="2.78"/><circle class="c23" cx="608.8" cy="340.9" r="2.78"/><circle class="c0" cx="571.8" cy="342.7" r="2.78"/><circle class="c3" cx="588.5" cy="342.7" r="2.78"/><circle class="c23" cx="620.0" cy="341.6" r="2.78"/><circle class="c23" cx="623.3" cy="344.4" r="2.78"/><circle class="c22" cx="617.5" cy="352.7" r="2.78"/><circle class="c23" cx="621.3" cy="344.2" r="2.78"/><circle class="c21" cx="617.9" cy="334.3" r="2.78"/><circle class="c22" cx="607.5" cy="346.1" r="2.78"/><circle class="c23" cx="607.5" cy="351.4" r="2.78"/><circle class="c21" cx="607.8" cy="333.9" r="2.78"/><circle class="c23" cx="608.5" cy="330.4" r="2.78"/><circle class="c23" cx="608.5" cy="339.2" r="2.78"/><circle class="c23" cx="609.2" cy="337.4" r="2.78"/><circle class="c23" cx="608.8" cy="354.9" r="2.78"/><circle class="c23" cx="609.2" cy="330.4" r="2.78"/><circle class="c21" cx="608.5" cy="347.9" r="2.78"/><circle class="c23" cx="616.3" cy="343.7" r="2.78"/><circle class="c23" cx="607.8" cy="335.7" r="2.78"/><circle class="c23" cx="623.8" cy="340.4" r="2.78"/><circle class="c22" cx="626.3" cy="343.6" r="2.78"/><circle class="c23" cx="623.8" cy="342.7" r="2.78"/><circle class="c23" cx="629.4" cy="342.0" r="2.78"/><circle class="c23" cx="611.3" cy="342.7" r="2.78"/><circle class="c22" cx="612.5" cy="343.6" r="2.78"/><circle class="c23" cx="609.2" cy="344.4" r="2.78"/><circle class="c21" cx="618.8" cy="343.7" r="2.78"/><circle class="c22" cx="607.8" cy="344.4" r="2.78"/><circle class="c23" cx="609.2" cy="333.9" r="2.78"/><circle class="c23" cx="609.2" cy="354.9" r="2.78"/><circle class="c23" cx="609.2" cy="335.7" r="2.78"/><circle class="c22" cx="607.5" cy="342.7" r="2.78"/><circle class="c2" cx="585.8" cy="342.2" r="2.78"/><circle class="c23" cx="609.2" cy="340.9" r="2.78"/><circle class="c23" cx="608.8" cy="347.9" r="2.78"/><circle class="c22" cx="613.8" cy="344.6" r="2.78"/><circle class="c23" cx="607.8" cy="339.2" r="2.78"/><circle class="c22" cx="608.5" cy="335.7" r="2.78"/><circle class="c23" cx="613.8" cy="343.6" r="2.78"/><circle class="c21" cx="627.5" cy="341.6" r="2.78"/><circle class="c0" cx="577.5" cy="342.7" r="2.78"/><circle class="c23" cx="617.9" cy="332.6" r="2.78"/><circle class="c22" cx="604.6" cy="343.6" r="2.78"/><circle class="c22" cx="618.8" cy="340.6" r="2.78"/><circle class="c23" cx="613.8" cy="341.7" r="2.78"/><circle class="c22" cx="609.2" cy="339.2" r="2.78"/><circle class="c21" cx="608.8" cy="349.6" r="2.78"/><circle class="c23" cx="627.5" cy="343.7" r="2.78"/><circle class="c23" cx="623.3" cy="342.7" r="2.78"/><circle class="c22" cx="622.5" cy="343.8" r="2.78"/><circle class="c23" cx="617.5" cy="344.3" r="2.78"/><circle class="c0" cx="573.5" cy="342.7" r="2.78"/><circle class="c21" cx="612.5" cy="342.7" r="2.78"/><circle class="c21" cx="617.9" cy="339.3" r="2.78"/><circle class="c23" cx="613.8" cy="342.7" r="2.78"/><circle class="c23" cx="611.3" cy="344.6" r="2.78"/><circle class="c23" cx="609.2" cy="346.1" r="2.78"/><circle class="c23" cx="617.5" cy="342.7" r="2.78"/><circle class="c21" cx="615.0" cy="344.9" r="2.78"/><circle class="c23" cx="616.3" cy="340.6" r="2.78"/><circle class="c22" cx="608.8" cy="333.9" r="2.78"/><circle class="c23" cx="609.2" cy="332.2" r="2.78"/><circle class="c16" cx="602.4" cy="342.7" r="2.78"/><circle class="c23" cx="618.8" cy="342.7" r="2.78"/><circle class="c23" cx="607.5" cy="330.4" r="2.78"/><circle class="c23" cx="609.2" cy="342.7" r="2.78"/><circle class="c22" cx="617.5" cy="351.0" r="2.78"/><circle class="c23" cx="607.8" cy="340.9" r="2.78"/><circle class="c2" cx="590.7" cy="342.7" r="2.78"/><circle class="c23" cx="610.0" cy="342.7" r="2.78"/><circle class="c23" cx="606.3" cy="341.5" r="2.78"/><circle class="c22" cx="617.5" cy="349.3" r="2.78"/><circle class="c22" cx="629.4" cy="342.7" r="2.78"/><circle class="c23" cx="615.0" cy="342.7" r="2.78"/><circle class="c21" cx="607.8" cy="330.4" r="2.78"/><circle class="c23" cx="608.8" cy="337.4" r="2.78"/><circle class="c23" cx="606.3" cy="342.7" r="2.78"/><circle class="c23" cx="621.3" cy="341.1" r="2.78"/><circle class="c23" cx="607.5" cy="349.6" r="2.78"/><circle class="c21" cx="623.3" cy="347.9" r="2.78"/><circle class="c22" cx="622.5" cy="342.7" r="2.78"/><circle class="c23" cx="608.5" cy="342.7" r="2.78"/><circle class="c22" cx="608.5" cy="333.9" r="2.78"/><circle class="c23" cx="617.9" cy="347.7" r="2.78"/><circle class="c1" cx="587.1" cy="342.7" r="2.78"/><circle class="c23" cx="607.8" cy="349.6" r="2.78"/><circle class="c23" cx="607.5" cy="347.9" r="2.78"/><circle class="c22" cx="608.5" cy="349.6" r="2.78"/><circle class="c23" cx="607.8" cy="337.4" r="2.78"/><circle class="c21" cx="617.5" cy="336.0" r="2.78"/><circle class="c21" cx="608.5" cy="353.1" r="2.78"/><circle class="c22" cx="608.8" cy="332.2" r="2.78"/><circle class="c23" cx="623.3" cy="346.1" r="2.78"/><circle class="c6" cx="581.6" cy="342.7" r="2.78"/><circle class="c22" cx="620.0" cy="340.6" r="2.78"/><circle class="c23" cx="622.5" cy="340.4" r="2.78"/><circle class="c23" cx="626.3" cy="342.7" r="2.78"/><circle class="c23" cx="623.3" cy="339.2" r="2.78"/><circle class="c22" cx="629.4" cy="343.3" r="2.78"/><circle class="c23" cx="608.5" cy="332.2" r="2.78"/><circle class="c22" cx="608.5" cy="337.4" r="2.78"/><circle class="c23" cx="607.5" cy="344.4" r="2.78"/><circle class="c23" cx="607.8" cy="351.4" r="2.78"/><circle class="c23" cx="617.5" cy="337.6" r="2.78"/><circle class="c22" cx="617.9" cy="337.6" r="2.78"/><circle class="c23" cx="617.5" cy="339.3" r="2.78"/><circle class="c23" cx="616.3" cy="341.6" r="2.78"/><circle class="c21" cx="625.0" cy="342.7" r="2.78"/><circle class="c22" cx="607.8" cy="353.1" r="2.78"/><circle class="c23" cx="608.5" cy="351.4" r="2.78"/><circle class="c23" cx="617.9" cy="346.0" r="2.78"/><circle class="c23" cx="617.9" cy="342.7" r="2.78"/><circle class="c23" cx="617.5" cy="332.6" r="2.78"/><circle class="c23" cx="625.0" cy="341.0" r="2.78"/><circle class="c23" cx="616.3" cy="342.7" r="2.78"/><circle class="c22" cx="620.0" cy="342.7" r="2.78"/><circle class="c23" cx="608.5" cy="354.9" r="2.78"/><circle class="c23" cx="623.8" cy="344.9" r="2.78"/><circle class="c21" cx="608.8" cy="351.4" r="2.78"/><circle class="c3" cx="588.5" cy="341.9" r="2.78"/><circle class="c22" cx="617.9" cy="349.3" r="2.78"/><circle class="c23" cx="626.3" cy="340.7" r="2.78"/><circle class="c12" cx="598.7" cy="342.7" r="2.78"/><circle class="c23" cx="608.5" cy="344.4" r="2.78"/><circle class="c13" cx="600.5" cy="342.7" r="2.78"/><circle class="c22" cx="617.5" cy="334.3" r="2.78"/><circle class="c23" cx="610.0" cy="341.1" r="2.78"/><circle class="c2" cx="585.8" cy="343.1" r="2.78"/></g><g><circle class="c13" cx="618.4" cy="389.5" r="2.78"/><circle class="c14" cx="630.5" cy="379.0" r="2.78"/><circle class="c11" cx="618.0" cy="365.5" r="2.78"/><circle class="c15" cx="620.5" cy="377.5" r="2.78"/><circle class="c15" cx="621.8" cy="377.5" r="2.78"/><circle class="c15" cx="617.2" cy="374.0" r="2.78"/><circle class="c3" cx="591.8" cy="375.9" r="2.78"/><circle class="c18" cx="617.8" cy="386.1" r="2.78"/><circle class="c13" cx="618.0" cy="380.9" r="2.78"/><circle class="c13" cx="618.0" cy="374.0" r="2.78"/><circle class="c0" cx="560.6" cy="377.5" r="2.78"/><circle class="c5" cx="598.0" cy="377.5" r="2.78"/><circle class="c2" cx="590.5" cy="378.5" r="2.78"/><circle class="c13" cx="606.8" cy="376.0" r="2.78"/><circle class="c10" cx="605.5" cy="377.5" r="2.78"/><circle class="c5" cx="593.0" cy="376.3" r="2.78"/><circle class="c9" cx="621.8" cy="379.1" r="2.78"/><circle class="c4" cx="600.5" cy="379.0" r="2.78"/><circle class="c13" cx="613.0" cy="375.4" r="2.78"/><circle class="c23" cx="645.4" cy="377.5" r="2.78"/><circle class="c18" cx="618.4" cy="370.6" r="2.78"/><circle class="c1" cx="572.2" cy="376.8" r="2.78"/><circle class="c5" cx="600.5" cy="374.4" r="2.78"/><circle class="c13" cx="620.5" cy="375.5" r="2.78"/><circle class="c0" cx="598.0" cy="379.4" r="2.78"/><circle class="c17" cx="617.8" cy="368.9" r="2.78"/><circle class="c5" cx="594.3" cy="375.5" r="2.78"/><circle class="c9" cx="609.3" cy="377.5" r="2.78"/><circle class="c1" cx="577.0" cy="376.8" r="2.78"/><circle class="c10" cx="608.0" cy="374.8" r="2.78"/><circle class="c0" cx="586.0" cy="378.6" r="2.78"/><circle class="c20" cx="621.8" cy="374.3" r="2.78"/><circle class="c0" cx="555.2" cy="377.5" r="2.78"/><circle class="c0" cx="504.2" cy="377.5" r="2.78"/><circle class="c12" cx="628.0" cy="379.3" r="2.78"/><circle class="c17" cx="623.0" cy="377.5" r="2.78"/><circle class="c20" cx="617.8" cy="374.0" r="2.78"/><circle class="c15" cx="617.2" cy="375.8" r="2.78"/><circle class="c20" cx="618.0" cy="384.4" r="2.78"/><circle class="c18" cx="618.0" cy="370.6" r="2.78"/><circle class="c15" cx="616.8" cy="378.5" r="2.78"/><circle class="c6" cx="596.8" cy="377.5" r="2.78"/><circle class="c5" cx="604.3" cy="380.7" r="2.78"/><circle class="c0" cx="586.0" cy="377.5" r="2.78"/><circle class="c4" cx="603.0" cy="377.5" r="2.78"/><circle class="c0" cx="581.9" cy="378.1" r="2.78"/><circle class="c14" cx="617.2" cy="384.4" r="2.78"/><circle class="c13" cx="616.8" cy="376.4" r="2.78"/><circle class="c16" cx="610.5" cy="377.5" r="2.78"/><circle class="c5" cx="604.3" cy="375.9" r="2.78"/><circle class="c6" cx="603.0" cy="376.3" r="2.78"/><circle class="c10" cx="629.3" cy="378.9" r="2.78"/><circle class="c0" cx="572.2" cy="377.5" r="2.78"/><circle class="c18" cx="618.4" cy="379.2" r="2.78"/><circle class="c12" cx="618.4" cy="382.6" r="2.78"/><circle class="c11" cx="623.0" cy="378.5" r="2.78"/><circle class="c5" cx="604.3" cy="379.1" r="2.78"/><circle class="c2" cx="584.1" cy="376.6" r="2.78"/><circle class="c15" cx="620.5" cy="376.5" r="2.78"/><circle class="c18" cx="618.0" cy="387.8" r="2.78"/><circle class="c12" cx="605.5" cy="375.9" r="2.78"/><circle class="c9" cx="609.3" cy="374.3" r="2.78"/><circle class="c17" cx="630.5" cy="376.0" r="2.78"/><circle class="c12" cx="618.0" cy="382.6" r="2.78"/><circle class="c17" cx="624.3" cy="380.2" r="2.78"/><circle class="c14" cx="616.8" cy="377.5" r="2.78"/><circle class="c12" cx="623.0" cy="379.5" r="2.78"/><circle class="c0" cx="589.3" cy="375.9" r="2.78"/><circle class="c14" cx="606.8" cy="374.4" r="2.78"/><circle class="c23" cx="618.4" cy="380.9" r="2.78"/><circle class="c23" cx="639.6" cy="378.2" r="2.78"/><circle class="c10" cx="614.3" cy="375.8" r="2.78"/><circle class="c14" cx="618.4" cy="374.0" r="2.78"/><circle class="c14" cx="621.8" cy="380.6" r="2.78"/><circle class="c12" cx="611.8" cy="378.8" r="2.78"/><circle class="c16" cx="611.8" cy="377.5" r="2.78"/><circle class="c0" cx="581.9" cy="376.9" r="2.78"/><circle class="c3" cx="575.4" cy="377.5" r="2.78"/><circle class="c17" cx="617.2" cy="380.9" r="2.78"/><circle class="c14" cx="619.3" cy="374.6" r="2.78"/><circle class="c3" cx="596.8" cy="375.6" r="2.78"/><circle class="c13" cx="625.5" cy="379.9" r="2.78"/><circle class="c23" cx="660.4" cy="377.5" r="2.78"/><circle class="c15" cx="619.3" cy="377.5" r="2.78"/><circle class="c15" cx="618.0" cy="386.1" r="2.78"/><circle class="c19" cx="637.3" cy="377.5" r="2.78"/><circle class="c14" cx="618.0" cy="379.2" r="2.78"/><circle class="c22" cx="635.4" cy="378.1" r="2.78"/><circle class="c21" cx="617.8" cy="380.9" r="2.78"/><circle class="c0" cx="593.0" cy="377.5" r="2.78"/><circle class="c23" cx="642.9" cy="377.5" r="2.78"/><circle class="c14" cx="608.0" cy="380.2" r="2.78"/><circle class="c18" cx="615.5" cy="374.3" r="2.78"/><circle class="c15" cx="629.3" cy="376.1" r="2.78"/><circle class="c4" cx="584.1" cy="377.5" r="2.78"/><circle class="c13" cx="618.4" cy="365.5" r="2.78"/><circle class="c10" cx="626.8" cy="379.1" r="2.78"/><circle class="c1" cx="580.6" cy="377.5" r="2.78"/><circle class="c0" cx="564.5" cy="377.5" r="2.78"/><circle class="c1" cx="580.6" cy="377.0" r="2.78"/><circle class="c0" cx="587.1" cy="378.7" r="2.78"/><circle class="c17" cx="615.5" cy="375.9" r="2.78"/><circle class="c18" cx="618.0" cy="377.5" r="2.78"/><circle class="c14" cx="616.8" cy="375.4" r="2.78"/><circle class="c14" cx="616.8" cy="379.6" r="2.78"/><circle class="c12" cx="617.8" cy="367.2" r="2.78"/><circle class="c14" cx="618.0" cy="389.5" r="2.78"/><circle class="c1" cx="562.7" cy="377.5" r="2.78"/><circle class="c13" cx="603.0" cy="375.0" r="2.78"/><circle class="c6" cx="625.5" cy="376.3" r="2.78"/><circle class="c12" cx="617.2" cy="367.2" r="2.78"/><circle class="c3" cx="603.0" cy="378.7" r="2.78"/><circle class="c0" cx="558.6" cy="377.5" r="2.78"/><circle class="c6" cx="601.8" cy="374.5" r="2.78"/><circle class="c18" cx="625.5" cy="375.1" r="2.78"/><circle class="c14" cx="617.8" cy="384.4" r="2.78"/><circle class="c2" cx="594.3" cy="377.5" r="2.78"/><circle class="c23" cx="714.0" cy="377.5" r="2.78"/><circle class="c11" cx="623.0" cy="375.5" r="2.78"/><circle class="c12" cx="615.5" cy="380.7" r="2.78"/><circle class="c0" cx="573.8" cy="377.5" r="2.78"/><circle class="c14" cx="617.8" cy="379.2" r="2.78"/><circle class="c23" cx="614.3" cy="379.2" r="2.78"/><circle class="c18" cx="618.4" cy="372.3" r="2.78"/><circle class="c7" cx="599.3" cy="376.3" r="2.78"/><circle class="c14" cx="619.3" cy="378.9" r="2.78"/><circle class="c0" cx="568.2" cy="377.9" r="2.78"/><circle class="c3" cx="599.3" cy="378.7" r="2.78"/><circle class="c15" cx="631.8" cy="377.5" r="2.78"/><circle class="c12" cx="611.8" cy="380.2" r="2.78"/><circle class="c10" cx="614.3" cy="380.9" r="2.78"/><circle class="c15" cx="615.5" cy="377.5" r="2.78"/><circle class="c5" cx="595.5" cy="375.4" r="2.78"/><circle class="c10" cx="611.8" cy="376.1" r="2.78"/><circle class="c22" cx="656.0" cy="377.5" r="2.78"/><circle class="c9" cx="604.3" cy="374.2" r="2.78"/><circle class="c13" cx="624.3" cy="376.1" r="2.78"/><circle class="c5" cx="596.8" cy="376.5" r="2.78"/><circle class="c7" cx="618.4" cy="368.9" r="2.78"/><circle class="c11" cx="615.5" cy="379.1" r="2.78"/><circle class="c11" cx="624.3" cy="378.9" r="2.78"/><circle class="c22" cx="633.8" cy="377.5" r="2.78"/><circle class="c21" cx="639.6" cy="376.8" r="2.78"/><circle class="c13" cx="630.5" cy="377.5" r="2.78"/><circle class="c19" cx="641.2" cy="378.1" r="2.78"/><circle class="c13" cx="620.5" cy="378.5" r="2.78"/><circle class="c12" cx="606.8" cy="380.5" r="2.78"/><circle class="c7" cx="605.5" cy="374.2" r="2.78"/><circle class="c23" cx="648.6" cy="377.5" r="2.78"/><circle class="c19" cx="617.2" cy="370.6" r="2.78"/><circle class="c21" cx="639.6" cy="377.5" r="2.78"/><circle class="c0" cx="507.8" cy="377.5" r="2.78"/><circle class="c16" cx="618.4" cy="375.8" r="2.78"/><circle class="c11" cx="628.0" cy="377.5" r="2.78"/><circle class="c5" cx="604.3" cy="377.5" r="2.78"/><circle class="c6" cx="599.3" cy="377.5" r="2.78"/><circle class="c16" cx="614.3" cy="374.1" r="2.78"/><circle class="c19" cx="637.3" cy="378.2" r="2.78"/><circle class="c9" cx="606.8" cy="379.0" r="2.78"/><circle class="c19" cx="641.2" cy="376.9" r="2.78"/><circle class="c0" cx="579.0" cy="377.5" r="2.78"/><circle class="c0" cx="605.5" cy="380.7" r="2.78"/><circle class="c4" cx="594.3" cy="376.5" r="2.78"/><circle class="c0" cx="550.0" cy="377.5" r="2.78"/><circle class="c14" cx="610.5" cy="379.2" r="2.78"/><circle class="c21" cx="652.2" cy="377.5" r="2.78"/><circle class="c9" cx="617.2" cy="387.8" r="2.78"/><circle class="c8" cx="609.3" cy="380.6" r="2.78"/><circle class="c23" cx="641.2" cy="377.5" r="2.78"/><circle class="c18" cx="631.8" cy="378.8" r="2.78"/><circle class="c0" cx="593.0" cy="378.7" r="2.78"/><circle class="c8" cx="617.2" cy="368.9" r="2.78"/><circle class="c2" cx="594.3" cy="379.5" r="2.78"/><circle class="c4" cx="589.3" cy="377.5" r="2.78"/><circle class="c7" cx="606.8" cy="377.5" r="2.78"/><circle class="c14" cx="618.4" cy="387.8" r="2.78"/><circle class="c6" cx="590.5" cy="376.5" r="2.78"/><circle class="c17" cx="614.3" cy="377.5" r="2.78"/><circle class="c2" cx="579.0" cy="378.2" r="2.78"/><circle class="c15" cx="617.8" cy="370.6" r="2.78"/><circle class="c19" cx="617.8" cy="377.5" r="2.78"/><circle class="c15" cx="617.2" cy="372.3" r="2.78"/><circle class="c13" cx="613.0" cy="378.5" r="2.78"/><circle class="c14" cx="618.4" cy="386.1" r="2.78"/><circle class="c0" cx="572.2" cy="378.1" r="2.78"/><circle class="c15" cx="618.0" cy="367.2" r="2.78"/><circle class="c2" cx="587.1" cy="377.5" r="2.78"/><circle class="c12" cx="619.3" cy="376.0" r="2.78"/><circle class="c12" cx="625.5" cy="377.5" r="2.78"/><circle class="c1" cx="581.9" cy="377.5" r="2.78"/><circle class="c8" cx="611.8" cy="374.8" r="2.78"/><circle class="c0" cx="570.6" cy="378.0" r="2.78"/><circle class="c14" cx="617.2" cy="382.6" r="2.78"/><circle class="c6" cx="587.1" cy="376.2" r="2.78"/><circle class="c14" cx="617.8" cy="389.5" r="2.78"/><circle class="c17" cx="631.8" cy="376.2" r="2.78"/><circle class="c18" cx="623.0" cy="376.5" r="2.78"/><circle class="c1" cx="579.0" cy="376.8" r="2.78"/><circle class="c19" cx="618.4" cy="384.4" r="2.78"/><circle class="c16" cx="608.0" cy="376.1" r="2.78"/><circle class="c19" cx="633.8" cy="378.4" r="2.78"/><circle class="c0" cx="589.3" cy="379.0" r="2.78"/><circle class="c1" cx="586.0" cy="376.3" r="2.78"/><circle class="c15" cx="621.8" cy="375.9" r="2.78"/><circle class="c4" cx="595.5" cy="376.5" r="2.78"/><circle class="c5" cx="609.3" cy="379.1" r="2.78"/><circle class="c13" cx="629.3" cy="377.5" r="2.78"/><circle class="c17" cx="613.0" cy="379.6" r="2.78"/><circle class="c0" cx="573.8" cy="376.9" r="2.78"/><circle class="c3" cx="600.5" cy="377.5" r="2.78"/><circle class="c23" cx="637.3" cy="376.7" r="2.78"/><circle class="c19" cx="618.4" cy="367.2" r="2.78"/><circle class="c0" cx="575.4" cy="378.1" r="2.78"/><circle class="c16" cx="619.3" cy="380.4" r="2.78"/><circle class="c11" cx="601.8" cy="380.5" r="2.78"/><circle class="c0" cx="577.0" cy="377.5" r="2.78"/><circle class="c20" cx="617.8" cy="375.8" r="2.78"/><circle class="c6" cx="601.8" cy="379.0" r="2.78"/><circle class="c18" cx="617.2" cy="389.5" r="2.78"/><circle class="c5" cx="575.4" cy="376.9" r="2.78"/><circle class="c7" cx="596.8" cy="378.4" r="2.78"/><circle class="c0" cx="573.8" cy="378.0" r="2.78"/><circle class="c3" cx="591.8" cy="379.1" r="2.78"/><circle class="c3" cx="590.5" cy="377.5" r="2.78"/><circle class="c15" cx="618.0" cy="372.3" r="2.78"/><circle class="c1" cx="568.2" cy="377.0" r="2.78"/><circle class="c10" cx="617.8" cy="365.5" r="2.78"/><circle class="c8" cx="613.0" cy="377.5" r="2.78"/><circle class="c8" cx="609.3" cy="375.9" r="2.78"/><circle class="c0" cx="570.6" cy="377.0" r="2.78"/><circle class="c15" cx="617.2" cy="386.1" r="2.78"/><circle class="c17" cx="620.5" cy="379.5" r="2.78"/><circle class="c12" cx="618.4" cy="377.5" r="2.78"/><circle class="c2" cx="570.6" cy="377.5" r="2.78"/><circle class="c8" cx="626.8" cy="375.9" r="2.78"/><circle class="c13" cx="610.5" cy="380.9" r="2.78"/><circle class="c2" cx="601.8" cy="376.0" r="2.78"/><circle class="c17" cx="608.0" cy="378.8" r="2.78"/><circle class="c3" cx="605.5" cy="379.1" r="2.78"/><circle class="c15" cx="618.0" cy="375.8" r="2.78"/><circle class="c16" cx="610.5" cy="374.0" r="2.78"/><circle class="c23" cx="635.4" cy="376.8" r="2.78"/><circle class="c3" cx="577.0" cy="378.1" r="2.78"/><circle class="c7" cx="628.0" cy="375.7" r="2.78"/><circle class="c17" cx="617.8" cy="372.3" r="2.78"/><circle class="c3" cx="603.0" cy="379.9" r="2.78"/><circle class="c17" cx="633.8" cy="376.5" r="2.78"/><circle class="c11" cx="617.2" cy="365.5" r="2.78"/><circle class="c3" cx="595.5" cy="378.5" r="2.78"/><circle class="c4" cx="553.0" cy="377.5" r="2.78"/><circle class="c10" cx="626.8" cy="377.5" r="2.78"/><circle class="c18" cx="617.2" cy="377.5" r="2.78"/><circle class="c8" cx="595.5" cy="377.5" r="2.78"/><circle class="c0" cx="584.1" cy="378.4" r="2.78"/><circle class="c9" cx="608.0" cy="377.5" r="2.78"/><circle class="c14" cx="610.5" cy="375.8" r="2.78"/><circle class="c0" cx="580.6" cy="378.0" r="2.78"/><circle class="c0" cx="568.2" cy="377.5" r="2.78"/><circle class="c16" cx="617.2" cy="379.2" r="2.78"/><circle class="c20" cx="635.4" cy="377.5" r="2.78"/><circle class="c12" cx="617.8" cy="382.6" r="2.78"/><circle class="c2" cx="591.8" cy="377.5" r="2.78"/><circle class="c14" cx="617.8" cy="387.8" r="2.78"/><circle class="c20" cx="618.0" cy="368.9" r="2.78"/><circle class="c8" cx="600.5" cy="380.6" r="2.78"/><circle class="c5" cx="595.5" cy="379.5" r="2.78"/><circle class="c0" cx="594.3" cy="378.5" r="2.78"/><circle class="c10" cx="599.3" cy="379.9" r="2.78"/><circle class="c2" cx="599.3" cy="375.1" r="2.78"/><circle class="c6" cx="600.5" cy="375.9" r="2.78"/><circle class="c5" cx="601.8" cy="377.5" r="2.78"/><circle class="c0" cx="598.0" cy="375.6" r="2.78"/><circle class="c14" cx="613.0" cy="376.4" r="2.78"/><circle class="c10" cx="625.5" cy="378.7" r="2.78"/><circle class="c10" cx="624.3" cy="377.5" r="2.78"/><circle class="c3" cx="596.8" cy="379.4" r="2.78"/><circle class="c10" cx="624.3" cy="374.7" r="2.78"/><circle class="c1" cx="629.1" cy="377.5" r="2.78"/><circle class="c14" cx="649.8" cy="377.5" r="2.78"/><circle class="c23" cx="613.3" cy="377.5" r="2.78"/><circle class="c21" cx="618.2" cy="381.5" r="2.78"/></g><g><circle class="c16" cx="615.2" cy="407.2" r="2.78"/><circle class="c8" cx="624.1" cy="412.3" r="2.78"/><circle class="c8" cx="614.9" cy="415.8" r="2.78"/><circle class="c6" cx="621.9" cy="410.7" r="2.78"/><circle class="c13" cx="615.6" cy="422.6" r="2.78"/><circle class="c0" cx="597.4" cy="413.9" r="2.78"/><circle class="c13" cx="614.8" cy="419.2" r="2.78"/><circle class="c11" cx="615.2" cy="415.8" r="2.78"/><circle class="c6" cx="620.9" cy="415.5" r="2.78"/><circle class="c0" cx="596.1" cy="413.5" r="2.78"/><circle class="c12" cx="614.9" cy="405.4" r="2.78"/><circle class="c0" cx="594.9" cy="411.0" r="2.78"/><circle class="c9" cx="624.1" cy="410.5" r="2.78"/><circle class="c6" cx="622.8" cy="412.3" r="2.78"/><circle class="c0" cx="596.5" cy="416.9" r="2.78"/><circle class="c19" cx="638.1" cy="412.3" r="2.78"/><circle class="c6" cx="620.3" cy="413.9" r="2.78"/><circle class="c8" cx="614.8" cy="400.3" r="2.78"/><circle class="c10" cx="613.3" cy="411.5" r="2.78"/><circle class="c10" cx="614.8" cy="412.3" r="2.78"/><circle class="c0" cx="596.5" cy="412.3" r="2.78"/><circle class="c2" cx="599.9" cy="412.3" r="2.78"/><circle class="c10" cx="615.6" cy="403.7" r="2.78"/><circle class="c15" cx="615.6" cy="420.9" r="2.78"/><circle class="c12" cx="619.9" cy="409.1" r="2.78"/><circle class="c14" cx="614.8" cy="402.0" r="2.78"/><circle class="c0" cx="598.4" cy="416.9" r="2.78"/><circle class="c9" cx="620.3" cy="410.7" r="2.78"/><circle class="c7" cx="620.3" cy="412.3" r="2.78"/><circle class="c15" cx="613.3" cy="412.3" r="2.78"/><circle class="c13" cx="614.8" cy="415.8" r="2.78"/><circle class="c0" cx="597.4" cy="412.3" r="2.78"/><circle class="c0" cx="591.1" cy="412.3" r="2.78"/><circle class="c14" cx="625.3" cy="412.3" r="2.78"/><circle class="c13" cx="615.6" cy="405.4" r="2.78"/><circle class="c1" cx="597.4" cy="415.4" r="2.78"/><circle class="c3" cx="594.9" cy="413.7" r="2.78"/><circle class="c1" cx="599.9" cy="411.1" r="2.78"/><circle class="c2" cx="597.4" cy="407.7" r="2.78"/><circle class="c7" cx="609.8" cy="411.7" r="2.78"/><circle class="c11" cx="615.6" cy="419.2" r="2.78"/><circle class="c2" cx="589.2" cy="412.8" r="2.78"/><circle class="c15" cx="614.8" cy="408.9" r="2.78"/><circle class="c10" cx="614.9" cy="400.3" r="2.78"/><circle class="c9" cx="603.6" cy="411.3" r="2.78"/><circle class="c21" cx="632.1" cy="411.8" r="2.78"/><circle class="c6" cx="621.6" cy="410.7" r="2.78"/><circle class="c0" cx="596.1" cy="412.3" r="2.78"/><circle class="c0" cx="598.6" cy="415.4" r="2.78"/><circle class="c12" cx="614.8" cy="420.9" r="2.78"/><circle class="c6" cx="621.6" cy="413.9" r="2.78"/><circle class="c15" cx="614.9" cy="417.5" r="2.78"/><circle class="c1" cx="601.1" cy="412.3" r="2.78"/><circle class="c1" cx="598.6" cy="412.3" r="2.78"/><circle class="c13" cx="615.6" cy="407.2" r="2.78"/><circle class="c1" cx="598.4" cy="410.8" r="2.78"/><circle class="c8" cx="619.1" cy="413.6" r="2.78"/><circle class="c23" cx="630.2" cy="412.3" r="2.78"/><circle class="c10" cx="614.8" cy="403.7" r="2.78"/><circle class="c23" cx="628.5" cy="411.7" r="2.78"/><circle class="c15" cx="614.9" cy="419.2" r="2.78"/><circle class="c23" cx="626.9" cy="411.7" r="2.78"/><circle class="c7" cx="619.9" cy="413.9" r="2.78"/><circle class="c10" cx="615.2" cy="402.0" r="2.78"/><circle class="c9" cx="620.9" cy="409.1" r="2.78"/><circle class="c1" cx="596.5" cy="413.9" r="2.78"/><circle class="c12" cx="614.8" cy="414.0" r="2.78"/><circle class="c8" cx="620.9" cy="412.3" r="2.78"/><circle class="c8" cx="620.9" cy="410.7" r="2.78"/><circle class="c23" cx="634.3" cy="411.8" r="2.78"/><circle class="c0" cx="596.5" cy="415.4" r="2.78"/><circle class="c11" cx="617.8" cy="412.3" r="2.78"/><circle class="c0" cx="589.2" cy="412.3" r="2.78"/><circle class="c0" cx="598.4" cy="409.2" r="2.78"/><circle class="c11" cx="611.9" cy="411.7" r="2.78"/><circle class="c23" cx="634.3" cy="412.3" r="2.78"/><circle class="c7" cx="602.4" cy="411.2" r="2.78"/><circle class="c20" cx="642.8" cy="412.3" r="2.78"/><circle class="c4" cx="586.5" cy="412.3" r="2.78"/><circle class="c8" cx="619.1" cy="411.0" r="2.78"/><circle class="c2" cx="594.9" cy="412.3" r="2.78"/><circle class="c9" cx="609.8" cy="412.3" r="2.78"/><circle class="c7" cx="622.8" cy="410.7" r="2.78"/><circle class="c23" cx="634.3" cy="412.8" r="2.78"/><circle class="c0" cx="598.6" cy="413.9" r="2.78"/><circle class="c13" cx="613.3" cy="413.1" r="2.78"/><circle class="c0" cx="598.4" cy="407.7" r="2.78"/><circle class="c13" cx="615.6" cy="424.3" r="2.78"/><circle class="c23" cx="626.9" cy="412.3" r="2.78"/><circle class="c1" cx="597.4" cy="415.4" r="2.78"/><circle class="c13" cx="614.9" cy="414.0" r="2.78"/><circle class="c0" cx="598.6" cy="407.7" r="2.78"/><circle class="c0" cx="593.6" cy="412.3" r="2.78"/><circle class="c8" cx="621.6" cy="409.1" r="2.78"/><circle class="c23" cx="628.5" cy="412.3" r="2.78"/><circle class="c0" cx="592.4" cy="410.7" r="2.78"/><circle class="c11" cx="615.6" cy="414.0" r="2.78"/><circle class="c0" cx="598.4" cy="412.3" r="2.78"/><circle class="c11" cx="614.8" cy="407.2" r="2.78"/><circle class="c1" cx="591.1" cy="413.3" r="2.78"/><circle class="c11" cx="615.6" cy="415.8" r="2.78"/><circle class="c2" cx="591.1" cy="411.3" r="2.78"/><circle class="c0" cx="593.6" cy="413.3" r="2.78"/><circle class="c23" cx="674.0" cy="412.3" r="2.78"/><circle class="c20" cx="640.2" cy="412.3" r="2.78"/><circle class="c23" cx="632.1" cy="412.8" r="2.78"/><circle class="c10" cx="621.9" cy="409.1" r="2.78"/><circle class="c12" cx="615.6" cy="408.9" r="2.78"/><circle class="c0" cx="596.1" cy="411.1" r="2.78"/><circle class="c15" cx="615.2" cy="417.5" r="2.78"/><circle class="c6" cx="621.9" cy="412.3" r="2.78"/><circle class="c5" cx="597.4" cy="412.3" r="2.78"/><circle class="c13" cx="615.6" cy="400.3" r="2.78"/><circle class="c0" cx="592.4" cy="412.3" r="2.78"/><circle class="c5" cx="620.9" cy="413.9" r="2.78"/><circle class="c13" cx="614.9" cy="412.3" r="2.78"/><circle class="c1" cx="593.6" cy="411.3" r="2.78"/><circle class="c7" cx="619.9" cy="412.3" r="2.78"/><circle class="c11" cx="615.2" cy="414.0" r="2.78"/><circle class="c9" cx="619.1" cy="412.3" r="2.78"/><circle class="c0" cx="597.4" cy="410.8" r="2.78"/><circle class="c11" cx="614.9" cy="402.0" r="2.78"/><circle class="c7" cx="619.9" cy="410.7" r="2.78"/><circle class="c0" cx="598.6" cy="410.8" r="2.78"/><circle class="c13" cx="616.0" cy="412.3" r="2.78"/><circle class="c7" cx="621.6" cy="415.5" r="2.78"/><circle class="c0" cx="596.5" cy="409.2" r="2.78"/><circle class="c14" cx="616.0" cy="411.5" r="2.78"/><circle class="c2" cx="596.5" cy="410.8" r="2.78"/><circle class="c15" cx="615.2" cy="405.4" r="2.78"/><circle class="c1" cx="597.4" cy="407.7" r="2.78"/><circle class="c1" cx="592.4" cy="413.9" r="2.78"/><circle class="c21" cx="632.1" cy="412.3" r="2.78"/><circle class="c7" cx="608.2" cy="411.7" r="2.78"/><circle class="c1" cx="589.2" cy="411.8" r="2.78"/><circle class="c11" cx="614.8" cy="424.3" r="2.78"/><circle class="c23" cx="638.1" cy="411.7" r="2.78"/><circle class="c22" cx="649.6" cy="412.3" r="2.78"/><circle class="c22" cx="630.2" cy="411.7" r="2.78"/><circle class="c10" cx="608.2" cy="412.3" r="2.78"/><circle class="c15" cx="614.8" cy="410.6" r="2.78"/><circle class="c23" cx="636.6" cy="411.9" r="2.78"/><circle class="c5" cx="602.4" cy="413.4" r="2.78"/><circle class="c11" cx="615.2" cy="420.9" r="2.78"/><circle class="c8" cx="605.8" cy="412.3" r="2.78"/><circle class="c14" cx="615.2" cy="419.2" r="2.78"/><circle class="c13" cx="615.2" cy="410.6" r="2.78"/><circle class="c8" cx="614.9" cy="403.7" r="2.78"/><circle class="c8" cx="624.1" cy="414.1" r="2.78"/><circle class="c13" cx="615.2" cy="422.6" r="2.78"/><circle class="c8" cx="611.9" cy="412.9" r="2.78"/><circle class="c10" cx="617.8" cy="411.0" r="2.78"/><circle class="c2" cx="601.1" cy="413.7" r="2.78"/><circle class="c23" cx="656.0" cy="412.3" r="2.78"/><circle class="c7" cx="603.6" cy="413.3" r="2.78"/><circle class="c22" cx="626.9" cy="412.9" r="2.78"/><circle class="c8" cx="619.9" cy="415.5" r="2.78"/><circle class="c0" cx="597.4" cy="416.9" r="2.78"/><circle class="c8" cx="605.8" cy="411.5" r="2.78"/><circle class="c1" cx="598.4" cy="413.9" r="2.78"/><circle class="c0" cx="597.4" cy="410.8" r="2.78"/><circle class="c20" cx="636.6" cy="412.3" r="2.78"/><circle class="c2" cx="596.5" cy="407.7" r="2.78"/><circle class="c0" cx="597.4" cy="416.9" r="2.78"/><circle class="c14" cx="614.9" cy="424.3" r="2.78"/><circle class="c7" cx="603.6" cy="412.3" r="2.78"/><circle class="c0" cx="598.6" cy="416.9" r="2.78"/><circle class="c13" cx="615.2" cy="424.3" r="2.78"/><circle class="c10" cx="614.8" cy="422.6" r="2.78"/><circle class="c12" cx="615.2" cy="412.3" r="2.78"/><circle class="c9" cx="615.6" cy="417.5" r="2.78"/><circle class="c13" cx="614.8" cy="417.5" r="2.78"/><circle class="c2" cx="599.9" cy="413.5" r="2.78"/><circle class="c13" cx="614.9" cy="408.9" r="2.78"/><circle class="c11" cx="616.0" cy="413.2" r="2.78"/><circle class="c1" cx="584.6" cy="412.3" r="2.78"/><circle class="c23" cx="630.2" cy="413.0" r="2.78"/><circle class="c12" cx="617.8" cy="413.6" r="2.78"/><circle class="c11" cx="611.9" cy="412.3" r="2.78"/><circle class="c14" cx="615.2" cy="403.7" r="2.78"/><circle class="c14" cx="615.2" cy="408.9" r="2.78"/><circle class="c9" cx="622.8" cy="413.9" r="2.78"/><circle class="c13" cx="614.9" cy="422.6" r="2.78"/><circle class="c22" cx="638.1" cy="412.9" r="2.78"/><circle class="c0" cx="598.6" cy="409.2" r="2.78"/><circle class="c10" cx="615.6" cy="402.0" r="2.78"/><circle class="c9" cx="620.3" cy="409.1" r="2.78"/><circle class="c12" cx="614.9" cy="420.9" r="2.78"/><circle class="c16" cx="614.9" cy="407.2" r="2.78"/><circle class="c1" cx="597.4" cy="409.2" r="2.78"/><circle class="c11" cx="615.2" cy="400.3" r="2.78"/><circle class="c9" cx="621.6" cy="412.3" r="2.78"/><circle class="c14" cx="614.9" cy="410.6" r="2.78"/><circle class="c3" cx="597.4" cy="409.2" r="2.78"/><circle class="c12" cx="615.6" cy="410.6" r="2.78"/><circle class="c7" cx="608.2" cy="412.9" r="2.78"/><circle class="c5" cx="621.9" cy="415.5" r="2.78"/><circle class="c23" cx="653.4" cy="412.3" r="2.78"/><circle class="c23" cx="636.6" cy="412.7" r="2.78"/><circle class="c8" cx="605.8" cy="413.1" r="2.78"/><circle class="c22" cx="628.5" cy="412.9" r="2.78"/><circle class="c0" cx="601.1" cy="410.9" r="2.78"/><circle class="c0" cx="598.4" cy="415.4" r="2.78"/><circle class="c12" cx="614.8" cy="405.4" r="2.78"/><circle class="c9" cx="621.9" cy="413.9" r="2.78"/><circle class="c16" cx="625.3" cy="411.4" r="2.78"/><circle class="c12" cx="615.6" cy="412.3" r="2.78"/><circle class="c0" cx="597.4" cy="413.9" r="2.78"/><circle class="c22" cx="645.8" cy="412.3" r="2.78"/><circle class="c7" cx="620.3" cy="415.5" r="2.78"/><circle class="c4" cx="602.4" cy="412.3" r="2.78"/><circle class="c12" cx="609.8" cy="412.9" r="2.78"/><circle class="c19" cx="625.3" cy="413.2" r="2.78"/><circle class="c20" cx="603.6" cy="412.3" r="2.78"/><circle class="c22" cx="609.5" cy="412.3" r="2.78"/></g><g><circle class="c13" cx="613.2" cy="440.3" r="2.78"/><circle class="c12" cx="612.8" cy="445.4" r="2.78"/><circle class="c11" cx="613.0" cy="435.1" r="2.78"/><circle class="c7" cx="606.7" cy="452.4" r="2.78"/><circle class="c9" cx="605.9" cy="443.7" r="2.78"/><circle class="c3" cx="616.7" cy="445.6" r="2.78"/><circle class="c17" cx="598.5" cy="447.2" r="2.78"/><circle class="c16" cx="612.4" cy="436.8" r="2.78"/><circle class="c8" cx="620.5" cy="448.8" r="2.78"/><circle class="c4" cx="607.1" cy="441.9" r="2.78"/><circle class="c12" cx="613.0" cy="440.3" r="2.78"/><circle class="c7" cx="609.2" cy="450.2" r="2.78"/><circle class="c6" cx="614.2" cy="447.2" r="2.78"/><circle class="c14" cx="604.2" cy="448.5" r="2.78"/><circle class="c6" cx="626.7" cy="447.2" r="2.78"/><circle class="c9" cx="605.5" cy="449.0" r="2.78"/><circle class="c15" cx="612.8" cy="457.5" r="2.78"/><circle class="c11" cx="621.5" cy="447.2" r="2.78"/><circle class="c4" cx="606.7" cy="448.9" r="2.78"/><circle class="c11" cx="625.5" cy="448.8" r="2.78"/><circle class="c22" cx="588.5" cy="446.3" r="2.78"/><circle class="c17" cx="612.8" cy="454.0" r="2.78"/><circle class="c9" cx="605.5" cy="447.2" r="2.78"/><circle class="c11" cx="605.9" cy="447.2" r="2.78"/><circle class="c7" cx="608.0" cy="450.6" r="2.78"/><circle class="c7" cx="619.9" cy="445.5" r="2.78"/><circle class="c15" cx="601.5" cy="445.8" r="2.78"/><circle class="c2" cx="616.7" cy="444.0" r="2.78"/><circle class="c3" cx="608.0" cy="441.9" r="2.78"/><circle class="c3" cx="580.6" cy="447.2" r="2.78"/><circle class="c11" cx="613.0" cy="450.6" r="2.78"/><circle class="c23" cx="595.1" cy="447.2" r="2.78"/><circle class="c4" cx="606.7" cy="443.7" r="2.78"/><circle class="c11" cx="613.2" cy="452.3" r="2.78"/><circle class="c10" cx="623.0" cy="445.6" r="2.78"/><circle class="c9" cx="621.5" cy="450.4" r="2.78"/><circle class="c23" cx="593.5" cy="447.9" r="2.78"/><circle class="c12" cx="613.2" cy="457.5" r="2.78"/><circle class="c12" cx="612.8" cy="459.2" r="2.78"/><circle class="c7" cx="609.2" cy="445.6" r="2.78"/><circle class="c21" cx="613.2" cy="445.4" r="2.78"/><circle class="c23" cx="593.5" cy="447.2" r="2.78"/><circle class="c7" cx="606.7" cy="441.9" r="2.78"/><circle class="c0" cx="555.1" cy="447.2" r="2.78"/><circle class="c11" cx="612.8" cy="452.3" r="2.78"/><circle class="c20" cx="596.8" cy="448.4" r="2.78"/><circle class="c2" cx="615.5" cy="445.9" r="2.78"/><circle class="c6" cx="605.9" cy="448.9" r="2.78"/><circle class="c10" cx="613.2" cy="435.1" r="2.78"/><circle class="c5" cx="608.0" cy="447.2" r="2.78"/><circle class="c7" cx="619.2" cy="445.2" r="2.78"/><circle class="c15" cx="613.0" cy="445.4" r="2.78"/><circle class="c17" cx="576.8" cy="447.2" r="2.78"/><circle class="c8" cx="610.5" cy="448.6" r="2.78"/><circle class="c8" cx="625.5" cy="447.2" r="2.78"/><circle class="c10" cx="605.9" cy="452.4" r="2.78"/><circle class="c3" cx="567.6" cy="447.2" r="2.78"/><circle class="c15" cx="611.7" cy="445.0" r="2.78"/><circle class="c8" cx="606.7" cy="447.2" r="2.78"/><circle class="c8" cx="610.5" cy="444.2" r="2.78"/><circle class="c14" cx="613.2" cy="455.7" r="2.78"/><circle class="c7" cx="613.2" cy="436.8" r="2.78"/><circle class="c8" cx="623.0" cy="447.2" r="2.78"/><circle class="c8" cx="614.2" cy="448.4" r="2.78"/><circle class="c8" cx="606.7" cy="450.6" r="2.78"/><circle class="c12" cx="608.3" cy="448.9" r="2.78"/><circle class="c10" cx="613.2" cy="442.0" r="2.78"/><circle class="c2" cx="619.9" cy="450.4" r="2.78"/><circle class="c11" cx="612.4" cy="452.3" r="2.78"/><circle class="c23" cx="592.1" cy="446.1" r="2.78"/><circle class="c6" cx="614.2" cy="449.7" r="2.78"/><circle class="c15" cx="608.0" cy="443.7" r="2.78"/><circle class="c9" cx="621.7" cy="443.9" r="2.78"/><circle class="c0" cx="618.0" cy="446.0" r="2.78"/><circle class="c10" cx="619.9" cy="452.0" r="2.78"/><circle class="c14" cx="612.8" cy="450.6" r="2.78"/><circle class="c9" cx="608.3" cy="452.4" r="2.78"/><circle class="c10" cx="621.7" cy="452.0" r="2.78"/><circle class="c13" cx="621.5" cy="445.5" r="2.78"/><circle class="c6" cx="620.5" cy="442.3" r="2.78"/><circle class="c0" cx="558.7" cy="447.2" r="2.78"/><circle class="c11" cx="621.7" cy="442.3" r="2.78"/><circle class="c10" cx="621.5" cy="452.0" r="2.78"/><circle class="c9" cx="605.5" cy="445.3" r="2.78"/><circle class="c11" cx="620.7" cy="447.2" r="2.78"/><circle class="c23" cx="590.6" cy="446.0" r="2.78"/><circle class="c3" cx="615.5" cy="449.6" r="2.78"/><circle class="c21" cx="637.0" cy="447.2" r="2.78"/><circle class="c15" cx="612.8" cy="435.1" r="2.78"/><circle class="c17" cx="598.5" cy="446.3" r="2.78"/><circle class="c16" cx="599.7" cy="445.8" r="2.78"/><circle class="c11" cx="612.8" cy="442.0" r="2.78"/><circle class="c10" cx="611.7" cy="447.2" r="2.78"/><circle class="c11" cx="613.0" cy="455.7" r="2.78"/><circle class="c12" cx="613.2" cy="443.7" r="2.78"/><circle class="c12" cx="624.2" cy="447.2" r="2.78"/><circle class="c7" cx="606.7" cy="445.4" r="2.78"/><circle class="c14" cx="613.0" cy="438.6" r="2.78"/><circle class="c11" cx="613.0" cy="459.2" r="2.78"/><circle class="c17" cx="603.0" cy="448.6" r="2.78"/><circle class="c12" cx="621.7" cy="448.8" r="2.78"/><circle class="c8" cx="620.7" cy="445.5" r="2.78"/><circle class="c17" cx="612.4" cy="440.3" r="2.78"/><circle class="c12" cx="609.2" cy="444.1" r="2.78"/><circle class="c10" cx="613.0" cy="443.7" r="2.78"/><circle class="c3" cx="608.0" cy="448.9" r="2.78"/><circle class="c6" cx="618.0" cy="448.3" r="2.78"/><circle class="c23" cx="593.5" cy="446.4" r="2.78"/><circle class="c18" cx="612.4" cy="448.9" r="2.78"/><circle class="c21" cx="588.5" cy="447.2" r="2.78"/><circle class="c13" cx="599.7" cy="447.2" r="2.78"/><circle class="c10" cx="621.7" cy="450.4" r="2.78"/><circle class="c1" cx="618.0" cy="444.8" r="2.78"/><circle class="c20" cx="570.9" cy="447.2" r="2.78"/><circle class="c8" cx="619.9" cy="442.3" r="2.78"/><circle class="c8" cx="619.2" cy="449.1" r="2.78"/><circle class="c23" cx="683.0" cy="447.2" r="2.78"/><circle class="c9" cx="605.9" cy="441.9" r="2.78"/><circle class="c0" cx="616.7" cy="448.7" r="2.78"/><circle class="c22" cx="592.1" cy="448.2" r="2.78"/><circle class="c11" cx="608.3" cy="450.6" r="2.78"/><circle class="c9" cx="619.2" cy="448.1" r="2.78"/><circle class="c21" cx="596.8" cy="447.2" r="2.78"/><circle class="c16" cx="612.8" cy="455.7" r="2.78"/><circle class="c9" cx="620.7" cy="442.3" r="2.78"/><circle class="c9" cx="607.1" cy="448.9" r="2.78"/><circle class="c9" cx="616.7" cy="450.3" r="2.78"/><circle class="c9" cx="621.7" cy="447.2" r="2.78"/><circle class="c12" cx="612.4" cy="457.5" r="2.78"/><circle class="c8" cx="621.5" cy="443.9" r="2.78"/><circle class="c15" cx="629.1" cy="447.2" r="2.78"/><circle class="c6" cx="582.4" cy="447.2" r="2.78"/><circle class="c9" cx="613.2" cy="447.2" r="2.78"/><circle class="c11" cx="599.7" cy="448.5" r="2.78"/><circle class="c11" cx="619.9" cy="448.8" r="2.78"/><circle class="c7" cx="621.5" cy="442.3" r="2.78"/><circle class="c23" cx="592.1" cy="447.2" r="2.78"/><circle class="c6" cx="620.7" cy="448.8" r="2.78"/><circle class="c12" cx="612.8" cy="436.8" r="2.78"/><circle class="c23" cx="590.6" cy="448.3" r="2.78"/><circle class="c0" cx="615.5" cy="444.7" r="2.78"/><circle class="c2" cx="605.9" cy="450.6" r="2.78"/><circle class="c20" cx="603.0" cy="445.7" r="2.78"/><circle class="c16" cx="598.5" cy="448.0" r="2.78"/><circle class="c8" cx="620.7" cy="450.4" r="2.78"/><circle class="c12" cx="621.7" cy="445.5" r="2.78"/><circle class="c9" cx="610.5" cy="445.7" r="2.78"/><circle class="c11" cx="612.8" cy="440.3" r="2.78"/><circle class="c2" cx="565.1" cy="447.2" r="2.78"/><circle class="c15" cx="614.2" cy="445.9" r="2.78"/><circle class="c11" cx="611.7" cy="448.2" r="2.78"/><circle class="c13" cx="626.7" cy="445.7" r="2.78"/><circle class="c11" cx="604.2" cy="445.8" r="2.78"/><circle class="c7" cx="619.2" cy="446.2" r="2.78"/><circle class="c14" cx="603.0" cy="447.2" r="2.78"/><circle class="c12" cx="613.0" cy="457.5" r="2.78"/><circle class="c5" cx="615.5" cy="448.4" r="2.78"/><circle class="c12" cx="623.0" cy="448.7" r="2.78"/><circle class="c8" cx="619.2" cy="447.2" r="2.78"/><circle class="c5" cx="608.3" cy="445.4" r="2.78"/><circle class="c23" cx="595.1" cy="447.9" r="2.78"/><circle class="c18" cx="601.5" cy="447.2" r="2.78"/><circle class="c15" cx="612.4" cy="438.6" r="2.78"/><circle class="c6" cx="620.7" cy="452.0" r="2.78"/><circle class="c14" cx="613.0" cy="442.0" r="2.78"/><circle class="c7" cx="607.1" cy="450.6" r="2.78"/><circle class="c11" cx="624.2" cy="449.0" r="2.78"/><circle class="c11" cx="608.0" cy="445.4" r="2.78"/><circle class="c0" cx="615.5" cy="447.2" r="2.78"/><circle class="c5" cx="620.7" cy="443.9" r="2.78"/><circle class="c9" cx="610.5" cy="447.2" r="2.78"/><circle class="c11" cx="604.2" cy="447.2" r="2.78"/><circle class="c8" cx="612.8" cy="438.6" r="2.78"/><circle class="c8" cx="608.3" cy="447.2" r="2.78"/><circle class="c8" cx="609.2" cy="447.2" r="2.78"/><circle class="c21" cx="590.6" cy="447.2" r="2.78"/><circle class="c15" cx="613.0" cy="452.3" r="2.78"/><circle class="c11" cx="613.2" cy="454.0" r="2.78"/><circle class="c2" cx="561.1" cy="447.2" r="2.78"/><circle class="c7" cx="607.1" cy="445.4" r="2.78"/><circle class="c7" cx="611.7" cy="446.1" r="2.78"/><circle class="c13" cx="613.2" cy="438.6" r="2.78"/><circle class="c7" cx="607.1" cy="452.4" r="2.78"/><circle class="c10" cx="624.2" cy="445.3" r="2.78"/><circle class="c15" cx="613.2" cy="459.2" r="2.78"/><circle class="c5" cx="608.3" cy="441.9" r="2.78"/><circle class="c9" cx="620.5" cy="452.0" r="2.78"/><circle class="c23" cx="545.0" cy="447.2" r="2.78"/><circle class="c12" cx="612.4" cy="454.0" r="2.78"/><circle class="c17" cx="601.5" cy="448.5" r="2.78"/><circle class="c13" cx="612.4" cy="435.1" r="2.78"/><circle class="c8" cx="613.2" cy="448.9" r="2.78"/><circle class="c15" cx="612.4" cy="459.2" r="2.78"/><circle class="c18" cx="626.7" cy="448.6" r="2.78"/><circle class="c9" cx="620.5" cy="447.2" r="2.78"/><circle class="c7" cx="618.0" cy="449.5" r="2.78"/><circle class="c20" cx="574.9" cy="447.2" r="2.78"/><circle class="c18" cx="612.8" cy="443.7" r="2.78"/><circle class="c17" cx="631.9" cy="447.2" r="2.78"/><circle class="c7" cx="616.7" cy="447.2" r="2.78"/><circle class="c14" cx="634.8" cy="447.2" r="2.78"/><circle class="c14" cx="608.0" cy="452.4" r="2.78"/><circle class="c13" cx="625.5" cy="445.5" r="2.78"/><circle class="c16" cx="613.0" cy="448.9" r="2.78"/><circle class="c16" cx="613.0" cy="454.0" r="2.78"/><circle class="c23" cx="588.5" cy="448.0" r="2.78"/><circle class="c11" cx="612.4" cy="450.6" r="2.78"/><circle class="c10" cx="612.4" cy="445.4" r="2.78"/><circle class="c7" cx="608.3" cy="443.7" r="2.78"/><circle class="c15" cx="612.4" cy="455.7" r="2.78"/><circle class="c13" cx="611.7" cy="449.3" r="2.78"/><circle class="c20" cx="595.1" cy="446.4" r="2.78"/><circle class="c10" cx="614.2" cy="444.6" r="2.78"/><circle class="c6" cx="620.5" cy="445.5" r="2.78"/><circle class="c20" cx="641.2" cy="447.2" r="2.78"/><circle class="c9" cx="613.0" cy="436.8" r="2.78"/><circle class="c14" cx="609.2" cy="448.7" r="2.78"/><circle class="c6" cx="620.5" cy="443.9" r="2.78"/><circle class="c9" cx="621.5" cy="448.8" r="2.78"/><circle class="c0" cx="553.1" cy="447.2" r="2.78"/><circle class="c15" cx="612.8" cy="448.9" r="2.78"/><circle class="c10" cx="610.5" cy="450.1" r="2.78"/><circle class="c9" cx="612.4" cy="442.0" r="2.78"/><circle class="c11" cx="612.8" cy="447.2" r="2.78"/><circle class="c5" cx="618.0" cy="447.2" r="2.78"/><circle class="c6" cx="607.1" cy="447.2" r="2.78"/><circle class="c10" cx="612.4" cy="447.2" r="2.78"/><circle class="c22" cx="586.8" cy="447.2" r="2.78"/><circle class="c15" cx="613.0" cy="447.2" r="2.78"/><circle class="c10" cx="619.9" cy="443.9" r="2.78"/><circle class="c4" cx="605.9" cy="445.4" r="2.78"/><circle class="c1" cx="619.9" cy="447.2" r="2.78"/><circle class="c7" cx="607.1" cy="443.7" r="2.78"/><circle class="c9" cx="620.5" cy="450.4" r="2.78"/><circle class="c11" cx="612.4" cy="443.7" r="2.78"/><circle class="c14" cx="613.2" cy="450.6" r="2.78"/><circle class="c22" cx="596.8" cy="445.9" r="2.78"/></g><g><circle class="c21" cx="612.7" cy="471.7" r="2.78"/><circle class="c20" cx="611.5" cy="484.0" r="2.78"/><circle class="c7" cx="595.2" cy="483.6" r="2.78"/><circle class="c22" cx="629.4" cy="482.8" r="2.78"/><circle class="c23" cx="625.9" cy="478.0" r="2.78"/><circle class="c21" cx="612.8" cy="471.7" r="2.78"/><circle class="c19" cx="619.0" cy="483.3" r="2.78"/><circle class="c20" cx="612.4" cy="476.8" r="2.78"/><circle class="c20" cx="625.9" cy="479.3" r="2.78"/><circle class="c8" cx="592.7" cy="482.0" r="2.78"/><circle class="c18" cx="606.5" cy="482.0" r="2.78"/><circle class="c18" cx="605.2" cy="482.0" r="2.78"/><circle class="c18" cx="604.0" cy="483.1" r="2.78"/><circle class="c21" cx="612.7" cy="492.3" r="2.78"/><circle class="c21" cx="612.8" cy="476.8" r="2.78"/><circle class="c10" cx="599.0" cy="482.0" r="2.78"/><circle class="c23" cx="626.6" cy="483.3" r="2.78"/><circle class="c22" cx="612.8" cy="473.4" r="2.78"/><circle class="c6" cx="589.0" cy="483.2" r="2.78"/><circle class="c23" cx="625.2" cy="483.1" r="2.78"/><circle class="c15" cx="602.7" cy="483.7" r="2.78"/><circle class="c6" cx="591.5" cy="482.0" r="2.78"/><circle class="c18" cx="605.2" cy="483.0" r="2.78"/><circle class="c20" cx="626.6" cy="486.0" r="2.78"/><circle class="c23" cx="612.7" cy="488.9" r="2.78"/><circle class="c23" cx="617.7" cy="483.0" r="2.78"/><circle class="c20" cx="604.0" cy="482.0" r="2.78"/><circle class="c12" cx="599.0" cy="483.5" r="2.78"/><circle class="c23" cx="612.7" cy="473.4" r="2.78"/><circle class="c23" cx="621.5" cy="483.2" r="2.78"/><circle class="c23" cx="622.7" cy="482.0" r="2.78"/><circle class="c21" cx="620.2" cy="479.7" r="2.78"/><circle class="c20" cx="626.5" cy="486.0" r="2.78"/><circle class="c23" cx="610.2" cy="480.8" r="2.78"/><circle class="c23" cx="626.5" cy="480.6" r="2.78"/><circle class="c23" cx="625.9" cy="483.3" r="2.78"/><circle class="c22" cx="612.4" cy="492.3" r="2.78"/><circle class="c23" cx="626.5" cy="479.3" r="2.78"/><circle class="c9" cx="592.7" cy="480.7" r="2.78"/><circle class="c23" cx="626.2" cy="479.3" r="2.78"/><circle class="c20" cx="610.2" cy="484.3" r="2.78"/><circle class="c0" cx="587.2" cy="482.9" r="2.78"/><circle class="c22" cx="629.4" cy="481.1" r="2.78"/><circle class="c23" cx="626.5" cy="483.3" r="2.78"/><circle class="c13" cx="601.5" cy="482.0" r="2.78"/><circle class="c22" cx="612.4" cy="475.1" r="2.78"/><circle class="c21" cx="613.2" cy="490.6" r="2.78"/><circle class="c23" cx="612.4" cy="480.3" r="2.78"/><circle class="c23" cx="612.7" cy="482.0" r="2.78"/><circle class="c23" cx="627.7" cy="483.2" r="2.78"/><circle class="c14" cx="602.7" cy="482.0" r="2.78"/><circle class="c12" cx="596.5" cy="480.7" r="2.78"/><circle class="c16" cx="604.0" cy="480.8" r="2.78"/><circle class="c13" cx="599.0" cy="480.5" r="2.78"/><circle class="c21" cx="620.2" cy="482.0" r="2.78"/><circle class="c11" cx="594.0" cy="482.0" r="2.78"/><circle class="c23" cx="617.7" cy="483.9" r="2.78"/><circle class="c23" cx="610.2" cy="482.0" r="2.78"/><circle class="c23" cx="626.2" cy="478.0" r="2.78"/><circle class="c23" cx="616.5" cy="482.0" r="2.78"/><circle class="c23" cx="621.5" cy="484.5" r="2.78"/><circle class="c21" cx="620.2" cy="483.1" r="2.78"/><circle class="c22" cx="619.0" cy="480.7" r="2.78"/><circle class="c23" cx="614.0" cy="482.0" r="2.78"/><circle class="c23" cx="612.7" cy="485.4" r="2.78"/><circle class="c21" cx="611.5" cy="481.0" r="2.78"/><circle class="c21" cx="625.9" cy="486.0" r="2.78"/><circle class="c10" cx="596.5" cy="483.2" r="2.78"/><circle class="c23" cx="612.7" cy="470.0" r="2.78"/><circle class="c21" cx="612.7" cy="487.1" r="2.78"/><circle class="c20" cx="616.5" cy="484.2" r="2.78"/><circle class="c22" cx="626.2" cy="483.3" r="2.78"/><circle class="c23" cx="613.2" cy="485.4" r="2.78"/><circle class="c23" cx="611.5" cy="482.0" r="2.78"/><circle class="c4" cx="592.7" cy="483.2" r="2.78"/><circle class="c22" cx="611.5" cy="483.0" r="2.78"/><circle class="c3" cx="590.2" cy="483.0" r="2.78"/><circle class="c23" cx="612.8" cy="492.3" r="2.78"/><circle class="c23" cx="613.2" cy="480.3" r="2.78"/><circle class="c0" cx="587.2" cy="482.0" r="2.78"/><circle class="c20" cx="605.2" cy="479.9" r="2.78"/><circle class="c22" cx="617.7" cy="480.0" r="2.78"/><circle class="c23" cx="621.5" cy="479.5" r="2.78"/><circle class="c19" cx="621.5" cy="482.0" r="2.78"/><circle class="c22" cx="616.5" cy="479.8" r="2.78"/><circle class="c20" cx="625.9" cy="480.6" r="2.78"/><circle class="c23" cx="624.0" cy="482.0" r="2.78"/><circle class="c23" cx="612.4" cy="485.4" r="2.78"/><circle class="c23" cx="612.8" cy="494.0" r="2.78"/><circle class="c9" cx="595.2" cy="482.0" r="2.78"/><circle class="c17" cx="600.2" cy="483.5" r="2.78"/><circle class="c23" cx="612.4" cy="483.7" r="2.78"/><circle class="c23" cx="612.4" cy="487.1" r="2.78"/><circle class="c23" cx="626.6" cy="482.0" r="2.78"/><circle class="c10" cx="594.0" cy="480.4" r="2.78"/><circle class="c20" cx="613.2" cy="488.9" r="2.78"/><circle class="c23" cx="621.5" cy="480.7" r="2.78"/><circle class="c19" cx="620.2" cy="484.3" r="2.78"/><circle class="c15" cx="601.5" cy="483.1" r="2.78"/><circle class="c23" cx="612.7" cy="478.5" r="2.78"/><circle class="c22" cx="612.8" cy="478.5" r="2.78"/><circle class="c1" cx="589.0" cy="482.0" r="2.78"/><circle class="c10" cx="601.5" cy="480.9" r="2.78"/><circle class="c23" cx="613.2" cy="483.7" r="2.78"/><circle class="c23" cx="619.0" cy="484.5" r="2.78"/><circle class="c23" cx="614.0" cy="483.7" r="2.78"/><circle class="c23" cx="612.4" cy="473.4" r="2.78"/><circle class="c22" cx="609.0" cy="483.5" r="2.78"/><circle class="c23" cx="610.2" cy="479.7" r="2.78"/><circle class="c19" cx="612.8" cy="475.1" r="2.78"/><circle class="c5" cx="587.2" cy="481.1" r="2.78"/><circle class="c8" cx="594.0" cy="483.6" r="2.78"/><circle class="c23" cx="627.7" cy="480.8" r="2.78"/><circle class="c23" cx="612.8" cy="488.9" r="2.78"/><circle class="c22" cx="613.2" cy="471.7" r="2.78"/><circle class="c23" cx="626.6" cy="480.6" r="2.78"/><circle class="c21" cx="615.2" cy="480.1" r="2.78"/><circle class="c19" cx="611.5" cy="480.0" r="2.78"/><circle class="c23" cx="626.2" cy="480.6" r="2.78"/><circle class="c21" cx="613.2" cy="476.8" r="2.78"/><circle class="c3" cx="590.2" cy="481.0" r="2.78"/><circle class="c23" cx="626.6" cy="478.0" r="2.78"/><circle class="c21" cx="616.5" cy="480.9" r="2.78"/><circle class="c21" cx="613.2" cy="492.3" r="2.78"/><circle class="c21" cx="607.7" cy="480.3" r="2.78"/><circle class="c21" cx="612.7" cy="476.8" r="2.78"/><circle class="c23" cx="612.4" cy="494.0" r="2.78"/><circle class="c18" cx="612.8" cy="490.6" r="2.78"/><circle class="c23" cx="607.7" cy="482.0" r="2.78"/><circle class="c23" cx="612.4" cy="482.0" r="2.78"/><circle class="c18" cx="605.2" cy="484.0" r="2.78"/><circle class="c22" cx="612.8" cy="485.4" r="2.78"/><circle class="c22" cx="613.2" cy="478.5" r="2.78"/><circle class="c4" cx="590.2" cy="482.0" r="2.78"/><circle class="c21" cx="613.2" cy="482.0" r="2.78"/><circle class="c22" cx="626.2" cy="482.0" r="2.78"/><circle class="c23" cx="612.7" cy="483.7" r="2.78"/><circle class="c23" cx="613.2" cy="475.1" r="2.78"/><circle class="c21" cx="622.7" cy="480.2" r="2.78"/><circle class="c23" cx="617.7" cy="481.0" r="2.78"/><circle class="c23" cx="612.7" cy="475.1" r="2.78"/><circle class="c23" cx="626.2" cy="484.7" r="2.78"/><circle class="c23" cx="612.4" cy="470.0" r="2.78"/><circle class="c23" cx="612.4" cy="490.6" r="2.78"/><circle class="c22" cx="619.0" cy="479.4" r="2.78"/><circle class="c21" cx="626.6" cy="484.7" r="2.78"/><circle class="c23" cx="616.5" cy="483.1" r="2.78"/><circle class="c21" cx="612.7" cy="494.0" r="2.78"/><circle class="c23" cx="612.4" cy="478.5" r="2.78"/><circle class="c21" cx="626.2" cy="486.0" r="2.78"/><circle class="c10" cx="597.7" cy="480.8" r="2.78"/><circle class="c23" cx="613.2" cy="487.1" r="2.78"/><circle class="c23" cx="613.2" cy="470.0" r="2.78"/><circle class="c12" cx="597.7" cy="483.2" r="2.78"/><circle class="c23" cx="612.8" cy="470.0" r="2.78"/><circle class="c20" cx="609.0" cy="480.5" r="2.78"/><circle class="c23" cx="622.7" cy="483.8" r="2.78"/><circle class="c20" cx="625.9" cy="484.7" r="2.78"/><circle class="c23" cx="626.5" cy="484.7" r="2.78"/><circle class="c23" cx="612.4" cy="471.7" r="2.78"/><circle class="c21" cx="606.5" cy="484.1" r="2.78"/><circle class="c19" cx="606.5" cy="479.8" r="2.78"/><circle class="c22" cx="612.8" cy="487.1" r="2.78"/><circle class="c23" cx="626.5" cy="482.0" r="2.78"/><circle class="c5" cx="589.0" cy="480.7" r="2.78"/><circle class="c20" cx="615.2" cy="481.0" r="2.78"/><circle class="c23" cx="607.7" cy="483.7" r="2.78"/><circle class="c23" cx="619.0" cy="482.0" r="2.78"/><circle class="c23" cx="615.2" cy="482.0" r="2.78"/><circle class="c21" cx="625.2" cy="482.0" r="2.78"/><circle class="c7" cx="595.2" cy="480.4" r="2.78"/><circle class="c20" cx="624.0" cy="483.4" r="2.78"/><circle class="c19" cx="614.0" cy="480.3" r="2.78"/><circle class="c22" cx="612.4" cy="488.9" r="2.78"/><circle class="c23" cx="609.0" cy="482.0" r="2.78"/><circle class="c23" cx="612.7" cy="490.6" r="2.78"/><circle class="c15" cx="600.2" cy="480.5" r="2.78"/><circle class="c22" cx="617.7" cy="482.0" r="2.78"/><circle class="c23" cx="625.9" cy="482.0" r="2.78"/><circle class="c23" cx="612.8" cy="480.3" r="2.78"/><circle class="c23" cx="626.6" cy="479.3" r="2.78"/><circle class="c8" cx="597.7" cy="482.0" r="2.78"/><circle class="c23" cx="612.8" cy="483.7" r="2.78"/><circle class="c20" cx="605.2" cy="481.0" r="2.78"/><circle class="c23" cx="629.4" cy="482.0" r="2.78"/><circle class="c20" cx="626.5" cy="478.0" r="2.78"/><circle class="c14" cx="602.7" cy="480.3" r="2.78"/><circle class="c21" cx="625.2" cy="480.9" r="2.78"/><circle class="c16" cx="600.2" cy="482.0" r="2.78"/><circle class="c21" cx="615.2" cy="483.9" r="2.78"/><circle class="c21" cx="612.7" cy="480.3" r="2.78"/><circle class="c11" cx="596.5" cy="482.0" r="2.78"/><circle class="c5" cx="591.5" cy="483.6" r="2.78"/><circle class="c23" cx="615.2" cy="482.9" r="2.78"/><circle class="c23" cx="613.2" cy="494.0" r="2.78"/><circle class="c5" cx="591.5" cy="480.4" r="2.78"/><circle class="c19" cx="606.5" cy="483.1" r="2.78"/><circle class="c23" cx="624.0" cy="480.5" r="2.78"/><circle class="c23" cx="627.7" cy="482.0" r="2.78"/><circle class="c23" cx="620.2" cy="480.8" r="2.78"/><circle class="c22" cx="610.2" cy="483.1" r="2.78"/><circle class="c21" cx="612.8" cy="482.0" r="2.78"/><circle class="c22" cx="613.2" cy="473.4" r="2.78"/><circle class="c19" cx="606.5" cy="480.9" r="2.78"/><circle class="c12" cx="612.4" cy="482.0" r="2.78"/><circle class="c16" cx="618.3" cy="483.0" r="2.78"/></g><g><circle class="c22" cx="586.2" cy="516.8" r="2.78"/><circle class="c3" cx="621.1" cy="516.8" r="2.78"/><circle class="c1" cx="612.0" cy="516.8" r="2.78"/><circle class="c0" cx="615.8" cy="516.8" r="2.78"/><circle class="c4" cx="620.8" cy="521.3" r="2.78"/><circle class="c18" cx="591.9" cy="516.8" r="2.78"/><circle class="c0" cx="612.4" cy="520.3" r="2.78"/><circle class="c0" cx="612.4" cy="523.7" r="2.78"/><circle class="c1" cx="618.3" cy="518.3" r="2.78"/><circle class="c0" cx="615.8" cy="515.9" r="2.78"/><circle class="c0" cx="613.2" cy="520.3" r="2.78"/><circle class="c23" cx="588.1" cy="515.6" r="2.78"/><circle class="c1" cx="620.7" cy="519.8" r="2.78"/><circle class="c0" cx="617.0" cy="517.9" r="2.78"/><circle class="c1" cx="608.3" cy="515.3" r="2.78"/><circle class="c2" cx="622.0" cy="515.3" r="2.78"/><circle class="c2" cx="620.8" cy="518.3" r="2.78"/><circle class="c16" cx="593.8" cy="516.8" r="2.78"/><circle class="c0" cx="612.4" cy="527.1" r="2.78"/><circle class="c0" cx="612.0" cy="515.3" r="2.78"/><circle class="c2" cx="621.1" cy="518.3" r="2.78"/><circle class="c10" cx="601.8" cy="516.0" r="2.78"/><circle class="c2" cx="624.5" cy="515.6" r="2.78"/><circle class="c13" cx="595.1" cy="516.8" r="2.78"/><circle class="c1" cx="613.3" cy="525.4" r="2.78"/><circle class="c8" cx="600.0" cy="516.8" r="2.78"/><circle class="c14" cx="598.4" cy="515.6" r="2.78"/><circle class="c2" cx="622.0" cy="516.8" r="2.78"/><circle class="c13" cx="603.4" cy="516.8" r="2.78"/><circle class="c3" cx="608.3" cy="518.3" r="2.78"/><circle class="c9" cx="603.4" cy="517.7" r="2.78"/><circle class="c0" cx="612.8" cy="511.7" r="2.78"/><circle class="c0" cx="613.3" cy="508.2" r="2.78"/><circle class="c2" cx="612.8" cy="518.5" r="2.78"/><circle class="c2" cx="613.2" cy="523.7" r="2.78"/><circle class="c0" cx="609.5" cy="515.5" r="2.78"/><circle class="c2" cx="612.8" cy="509.9" r="2.78"/><circle class="c1" cx="612.4" cy="509.9" r="2.78"/><circle class="c0" cx="613.2" cy="527.1" r="2.78"/><circle class="c2" cx="610.8" cy="518.1" r="2.78"/><circle class="c22" cx="588.1" cy="518.0" r="2.78"/><circle class="c21" cx="582.7" cy="516.8" r="2.78"/><circle class="c1" cx="612.4" cy="522.0" r="2.78"/><circle class="c3" cx="625.4" cy="516.4" r="2.78"/><circle class="c4" cx="622.0" cy="518.4" r="2.78"/><circle class="c2" cx="612.4" cy="504.8" r="2.78"/><circle class="c1" cx="625.4" cy="516.8" r="2.78"/><circle class="c3" cx="612.8" cy="522.0" r="2.78"/><circle class="c1" cx="620.7" cy="513.9" r="2.78"/><circle class="c6" cx="620.8" cy="510.9" r="2.78"/><circle class="c14" cx="596.7" cy="516.8" r="2.78"/><circle class="c0" cx="613.3" cy="511.7" r="2.78"/><circle class="c2" cx="612.4" cy="528.8" r="2.78"/><circle class="c0" cx="613.3" cy="516.8" r="2.78"/><circle class="c0" cx="615.8" cy="514.9" r="2.78"/><circle class="c3" cx="623.3" cy="516.8" r="2.78"/><circle class="c0" cx="613.3" cy="513.4" r="2.78"/><circle class="c1" cx="613.3" cy="522.0" r="2.78"/><circle class="c1" cx="620.7" cy="512.4" r="2.78"/><circle class="c2" cx="609.5" cy="516.8" r="2.78"/><circle class="c1" cx="615.8" cy="518.7" r="2.78"/><circle class="c4" cx="606.7" cy="515.7" r="2.78"/><circle class="c2" cx="620.7" cy="510.9" r="2.78"/><circle class="c0" cx="608.3" cy="516.8" r="2.78"/><circle class="c0" cx="613.2" cy="525.4" r="2.78"/><circle class="c0" cx="613.3" cy="520.3" r="2.78"/><circle class="c18" cx="593.8" cy="517.8" r="2.78"/><circle class="c0" cx="612.4" cy="513.4" r="2.78"/><circle class="c0" cx="613.2" cy="528.8" r="2.78"/><circle class="c6" cx="620.3" cy="515.3" r="2.78"/><circle class="c2" cx="613.3" cy="509.9" r="2.78"/><circle class="c3" cx="620.3" cy="516.8" r="2.78"/><circle class="c4" cx="620.3" cy="521.3" r="2.78"/><circle class="c3" cx="606.7" cy="517.9" r="2.78"/><circle class="c14" cx="600.0" cy="515.7" r="2.78"/><circle class="c0" cx="612.8" cy="513.4" r="2.78"/><circle class="c1" cx="612.8" cy="508.2" r="2.78"/><circle class="c1" cx="621.1" cy="521.3" r="2.78"/><circle class="c1" cx="610.8" cy="515.6" r="2.78"/><circle class="c2" cx="615.8" cy="517.8" r="2.78"/><circle class="c0" cx="612.4" cy="506.5" r="2.78"/><circle class="c18" cx="595.1" cy="515.6" r="2.78"/><circle class="c3" cx="619.5" cy="516.8" r="2.78"/><circle class="c0" cx="612.4" cy="525.4" r="2.78"/><circle class="c0" cx="610.8" cy="516.8" r="2.78"/><circle class="c18" cx="595.1" cy="518.0" r="2.78"/><circle class="c3" cx="621.1" cy="515.3" r="2.78"/><circle class="c23" cx="579.1" cy="516.8" r="2.78"/><circle class="c12" cx="600.0" cy="518.0" r="2.78"/><circle class="c22" cx="588.1" cy="516.8" r="2.78"/><circle class="c6" cx="620.7" cy="515.3" r="2.78"/><circle class="c23" cx="574.8" cy="516.8" r="2.78"/><circle class="c2" cx="613.2" cy="506.5" r="2.78"/><circle class="c0" cx="617.0" cy="515.7" r="2.78"/><circle class="c1" cx="612.8" cy="525.4" r="2.78"/><circle class="c0" cx="613.3" cy="515.1" r="2.78"/><circle class="c1" cx="612.8" cy="528.8" r="2.78"/><circle class="c3" cx="623.3" cy="518.1" r="2.78"/><circle class="c0" cx="613.2" cy="511.7" r="2.78"/><circle class="c18" cx="591.9" cy="517.7" r="2.78"/><circle class="c2" cx="620.7" cy="516.8" r="2.78"/><circle class="c1" cx="612.8" cy="506.5" r="2.78"/><circle class="c0" cx="613.2" cy="504.8" r="2.78"/><circle class="c2" cx="613.3" cy="504.8" r="2.78"/><circle class="c0" cx="614.5" cy="515.3" r="2.78"/><circle class="c2" cx="612.0" cy="518.3" r="2.78"/><circle class="c15" cx="596.7" cy="515.5" r="2.78"/><circle class="c0" cx="614.5" cy="516.8" r="2.78"/><circle class="c1" cx="613.2" cy="518.5" r="2.78"/><circle class="c9" cx="605.0" cy="516.8" r="2.78"/><circle class="c1" cx="613.3" cy="528.8" r="2.78"/><circle class="c0" cx="612.8" cy="515.1" r="2.78"/><circle class="c0" cx="612.8" cy="504.8" r="2.78"/><circle class="c23" cx="586.2" cy="516.2" r="2.78"/><circle class="c0" cx="613.3" cy="518.5" r="2.78"/><circle class="c1" cx="620.7" cy="518.3" r="2.78"/><circle class="c4" cx="620.3" cy="522.7" r="2.78"/><circle class="c0" cx="613.2" cy="513.4" r="2.78"/><circle class="c22" cx="589.9" cy="517.7" r="2.78"/><circle class="c5" cx="612.8" cy="520.3" r="2.78"/><circle class="c2" cx="613.2" cy="509.9" r="2.78"/><circle class="c0" cx="612.4" cy="508.2" r="2.78"/><circle class="c0" cx="623.3" cy="515.5" r="2.78"/><circle class="c23" cx="589.9" cy="516.8" r="2.78"/><circle class="c4" cx="612.4" cy="511.7" r="2.78"/><circle class="c18" cx="593.8" cy="515.8" r="2.78"/><circle class="c11" cx="603.4" cy="515.9" r="2.78"/><circle class="c0" cx="612.4" cy="515.1" r="2.78"/><circle class="c0" cx="620.8" cy="513.9" r="2.78"/><circle class="c2" cx="620.8" cy="519.8" r="2.78"/><circle class="c3" cx="621.1" cy="519.8" r="2.78"/><circle class="c2" cx="620.8" cy="515.3" r="2.78"/><circle class="c1" cx="613.2" cy="522.0" r="2.78"/><circle class="c1" cx="617.0" cy="519.0" r="2.78"/><circle class="c1" cx="620.3" cy="510.9" r="2.78"/><circle class="c0" cx="612.8" cy="516.8" r="2.78"/><circle class="c4" cx="620.3" cy="518.3" r="2.78"/><circle class="c0" cx="617.0" cy="516.8" r="2.78"/><circle class="c3" cx="619.5" cy="518.4" r="2.78"/><circle class="c21" cx="589.9" cy="516.0" r="2.78"/><circle class="c2" cx="612.4" cy="518.5" r="2.78"/><circle class="c3" cx="621.1" cy="510.9" r="2.78"/><circle class="c5" cx="606.7" cy="516.8" r="2.78"/><circle class="c1" cx="619.5" cy="515.2" r="2.78"/><circle class="c5" cx="620.8" cy="516.8" r="2.78"/><circle class="c3" cx="620.8" cy="522.7" r="2.78"/><circle class="c9" cx="601.8" cy="517.6" r="2.78"/><circle class="c0" cx="614.5" cy="518.3" r="2.78"/><circle class="c7" cx="605.0" cy="517.8" r="2.78"/><circle class="c16" cx="591.9" cy="516.0" r="2.78"/><circle class="c3" cx="617.0" cy="514.6" r="2.78"/><circle class="c1" cx="613.3" cy="506.5" r="2.78"/><circle class="c1" cx="625.4" cy="517.3" r="2.78"/><circle class="c2" cx="609.5" cy="518.2" r="2.78"/><circle class="c1" cx="621.1" cy="512.4" r="2.78"/><circle class="c16" cx="598.4" cy="518.0" r="2.78"/><circle class="c0" cx="620.7" cy="521.3" r="2.78"/><circle class="c23" cx="586.2" cy="517.5" r="2.78"/><circle class="c0" cx="624.5" cy="518.0" r="2.78"/><circle class="c4" cx="618.3" cy="516.8" r="2.78"/><circle class="c1" cx="621.1" cy="513.9" r="2.78"/><circle class="c7" cx="605.0" cy="515.8" r="2.78"/><circle class="c1" cx="620.7" cy="522.7" r="2.78"/><circle class="c1" cx="620.3" cy="513.9" r="2.78"/><circle class="c1" cx="613.3" cy="527.1" r="2.78"/><circle class="c0" cx="613.2" cy="515.1" r="2.78"/><circle class="c10" cx="601.8" cy="516.8" r="2.78"/><circle class="c0" cx="613.2" cy="516.8" r="2.78"/><circle class="c2" cx="620.3" cy="519.8" r="2.78"/><circle class="c4" cx="621.1" cy="522.7" r="2.78"/><circle class="c0" cx="612.8" cy="527.1" r="2.78"/><circle class="c13" cx="598.4" cy="516.8" r="2.78"/><circle class="c1" cx="612.4" cy="516.8" r="2.78"/><circle class="c4" cx="620.3" cy="512.4" r="2.78"/><circle class="c0" cx="618.3" cy="515.3" r="2.78"/><circle class="c3" cx="612.8" cy="523.7" r="2.78"/><circle class="c13" cx="596.7" cy="518.1" r="2.78"/><circle class="c3" cx="620.8" cy="512.4" r="2.78"/><circle class="c3" cx="624.5" cy="516.8" r="2.78"/><circle class="c0" cx="613.3" cy="523.7" r="2.78"/><circle class="c0" cx="613.2" cy="508.2" r="2.78"/></g><g><circle class="c13" cx="611.6" cy="553.4" r="2.78"/><circle class="c21" cx="601.6" cy="553.6" r="2.78"/><circle class="c15" cx="611.6" cy="563.7" r="2.78"/><circle class="c15" cx="612.8" cy="550.7" r="2.78"/><circle class="c21" cx="604.1" cy="547.9" r="2.78"/><circle class="c20" cx="605.3" cy="551.7" r="2.78"/><circle class="c1" cx="560.7" cy="551.7" r="2.78"/><circle class="c21" cx="625.3" cy="553.0" r="2.78"/><circle class="c21" cx="607.5" cy="553.2" r="2.78"/><circle class="c22" cx="622.8" cy="550.4" r="2.78"/><circle class="c21" cx="619.1" cy="551.7" r="2.78"/><circle class="c23" cx="632.1" cy="551.7" r="2.78"/><circle class="c17" cx="609.1" cy="551.7" r="2.78"/><circle class="c0" cx="584.8" cy="551.7" r="2.78"/><circle class="c23" cx="630.4" cy="551.7" r="2.78"/><circle class="c21" cx="604.1" cy="551.7" r="2.78"/><circle class="c23" cx="627.8" cy="548.5" r="2.78"/><circle class="c2" cx="590.8" cy="552.9" r="2.78"/><circle class="c22" cx="604.1" cy="549.8" r="2.78"/><circle class="c23" cx="619.1" cy="550.7" r="2.78"/><circle class="c0" cx="584.8" cy="552.3" r="2.78"/><circle class="c21" cx="607.5" cy="547.0" r="2.78"/><circle class="c22" cx="635.9" cy="550.8" r="2.78"/><circle class="c16" cx="611.6" cy="539.6" r="2.78"/><circle class="c19" cx="614.1" cy="550.3" r="2.78"/><circle class="c21" cx="627.8" cy="554.8" r="2.78"/><circle class="c22" cx="627.8" cy="550.1" r="2.78"/><circle class="c23" cx="637.2" cy="551.7" r="2.78"/><circle class="c0" cx="583.6" cy="551.7" r="2.78"/><circle class="c9" cx="611.6" cy="544.8" r="2.78"/><circle class="c15" cx="611.6" cy="555.1" r="2.78"/><circle class="c18" cx="612.0" cy="556.8" r="2.78"/><circle class="c14" cx="611.6" cy="549.9" r="2.78"/><circle class="c16" cx="610.3" cy="550.5" r="2.78"/><circle class="c12" cx="611.3" cy="543.1" r="2.78"/><circle class="c1" cx="592.4" cy="550.3" r="2.78"/><circle class="c15" cx="612.0" cy="555.1" r="2.78"/><circle class="c14" cx="600.3" cy="551.7" r="2.78"/><circle class="c0" cx="583.6" cy="552.1" r="2.78"/><circle class="c15" cx="611.6" cy="541.3" r="2.78"/><circle class="c20" cx="616.6" cy="551.7" r="2.78"/><circle class="c15" cx="611.3" cy="563.7" r="2.78"/><circle class="c17" cx="615.3" cy="548.7" r="2.78"/><circle class="c17" cx="605.3" cy="553.1" r="2.78"/><circle class="c18" cx="604.1" cy="549.8" r="2.78"/><circle class="c23" cx="627.8" cy="553.2" r="2.78"/><circle class="c12" cx="612.0" cy="562.0" r="2.78"/><circle class="c0" cx="588.7" cy="552.8" r="2.78"/><circle class="c12" cx="611.3" cy="560.2" r="2.78"/><circle class="c18" cx="605.3" cy="554.6" r="2.78"/><circle class="c22" cx="617.8" cy="550.1" r="2.78"/><circle class="c20" cx="607.8" cy="553.2" r="2.78"/><circle class="c19" cx="622.8" cy="551.7" r="2.78"/><circle class="c19" cx="604.1" cy="553.5" r="2.78"/><circle class="c18" cx="615.3" cy="550.2" r="2.78"/><circle class="c11" cx="611.6" cy="541.3" r="2.78"/><circle class="c13" cx="612.0" cy="560.2" r="2.78"/><circle class="c13" cx="611.3" cy="553.4" r="2.78"/><circle class="c17" cx="612.8" cy="552.6" r="2.78"/><circle class="c19" cx="604.1" cy="553.5" r="2.78"/><circle class="c0" cx="586.4" cy="550.5" r="2.78"/><circle class="c20" cx="622.8" cy="552.9" r="2.78"/><circle class="c20" cx="605.3" cy="548.7" r="2.78"/><circle class="c18" cx="606.6" cy="554.4" r="2.78"/><circle class="c13" cx="612.0" cy="558.5" r="2.78"/><circle class="c21" cx="629.1" cy="550.6" r="2.78"/><circle class="c14" cx="611.6" cy="549.9" r="2.78"/><circle class="c23" cx="637.2" cy="552.4" r="2.78"/><circle class="c22" cx="620.3" cy="549.8" r="2.78"/><circle class="c16" cx="606.6" cy="550.3" r="2.78"/><circle class="c13" cx="611.6" cy="556.8" r="2.78"/><circle class="c0" cx="440.0" cy="551.7" r="2.78"/><circle class="c14" cx="612.0" cy="543.1" r="2.78"/><circle class="c14" cx="612.0" cy="549.9" r="2.78"/><circle class="c21" cx="601.6" cy="550.7" r="2.78"/><circle class="c15" cx="612.8" cy="553.6" r="2.78"/><circle class="c15" cx="610.3" cy="549.4" r="2.78"/><circle class="c22" cx="614.1" cy="554.3" r="2.78"/><circle class="c23" cx="625.3" cy="550.3" r="2.78"/><circle class="c15" cx="611.6" cy="539.6" r="2.78"/><circle class="c23" cx="635.9" cy="552.5" r="2.78"/><circle class="c1" cx="594.5" cy="551.7" r="2.78"/><circle class="c1" cx="588.7" cy="550.5" r="2.78"/><circle class="c20" cx="604.1" cy="555.4" r="2.78"/><circle class="c17" cx="612.0" cy="551.7" r="2.78"/><circle class="c11" cx="611.6" cy="551.7" r="2.78"/><circle class="c3" cx="596.6" cy="552.6" r="2.78"/><circle class="c21" cx="607.5" cy="551.7" r="2.78"/><circle class="c21" cx="619.1" cy="553.6" r="2.78"/><circle class="c12" cx="612.0" cy="548.2" r="2.78"/><circle class="c23" cx="626.6" cy="550.1" r="2.78"/><circle class="c21" cx="605.3" cy="550.2" r="2.78"/><circle class="c18" cx="607.5" cy="545.4" r="2.78"/><circle class="c13" cx="611.6" cy="543.1" r="2.78"/><circle class="c13" cx="611.6" cy="558.5" r="2.78"/><circle class="c23" cx="627.8" cy="551.7" r="2.78"/><circle class="c15" cx="611.6" cy="544.8" r="2.78"/><circle class="c18" cx="610.3" cy="552.8" r="2.78"/><circle class="c23" cx="627.8" cy="548.5" r="2.78"/><circle class="c23" cx="627.8" cy="553.2" r="2.78"/><circle class="c18" cx="602.8" cy="550.0" r="2.78"/><circle class="c23" cx="621.6" cy="553.1" r="2.78"/><circle class="c18" cx="619.1" cy="552.6" r="2.78"/><circle class="c17" cx="610.3" cy="553.9" r="2.78"/><circle class="c23" cx="619.1" cy="549.7" r="2.78"/><circle class="c20" cx="624.1" cy="550.1" r="2.78"/><circle class="c14" cx="611.3" cy="556.8" r="2.78"/><circle class="c0" cx="590.8" cy="550.4" r="2.78"/><circle class="c11" cx="611.6" cy="553.4" r="2.78"/><circle class="c20" cx="607.5" cy="548.5" r="2.78"/><circle class="c23" cx="627.8" cy="551.7" r="2.78"/><circle class="c0" cx="596.6" cy="550.7" r="2.78"/><circle class="c16" cx="611.3" cy="558.5" r="2.78"/><circle class="c15" cx="611.3" cy="549.9" r="2.78"/><circle class="c16" cx="607.8" cy="548.5" r="2.78"/><circle class="c18" cx="607.5" cy="557.9" r="2.78"/><circle class="c5" cx="598.4" cy="550.5" r="2.78"/><circle class="c23" cx="626.6" cy="551.7" r="2.78"/><circle class="c21" cx="629.1" cy="551.7" r="2.78"/><circle class="c14" cx="611.6" cy="562.0" r="2.78"/><circle class="c22" cx="607.8" cy="557.9" r="2.78"/><circle class="c12" cx="611.6" cy="555.1" r="2.78"/><circle class="c19" cx="614.1" cy="553.0" r="2.78"/><circle class="c20" cx="602.8" cy="553.3" r="2.78"/><circle class="c11" cx="611.6" cy="556.8" r="2.78"/><circle class="c16" cx="607.8" cy="545.4" r="2.78"/><circle class="c2" cx="581.2" cy="551.7" r="2.78"/><circle class="c21" cx="601.6" cy="549.7" r="2.78"/><circle class="c18" cx="611.6" cy="560.2" r="2.78"/><circle class="c18" cx="627.8" cy="550.1" r="2.78"/><circle class="c16" cx="612.8" cy="549.7" r="2.78"/><circle class="c12" cx="611.3" cy="562.0" r="2.78"/><circle class="c22" cx="617.8" cy="551.7" r="2.78"/><circle class="c22" cx="601.6" cy="552.6" r="2.78"/><circle class="c15" cx="611.6" cy="543.1" r="2.78"/><circle class="c23" cx="607.8" cy="547.0" r="2.78"/><circle class="c23" cx="630.4" cy="550.8" r="2.78"/><circle class="c23" cx="639.5" cy="551.7" r="2.78"/><circle class="c17" cx="611.3" cy="548.2" r="2.78"/><circle class="c17" cx="612.0" cy="546.5" r="2.78"/><circle class="c18" cx="614.1" cy="549.0" r="2.78"/><circle class="c23" cx="641.6" cy="551.7" r="2.78"/><circle class="c19" cx="609.1" cy="553.5" r="2.78"/><circle class="c23" cx="637.2" cy="550.9" r="2.78"/><circle class="c9" cx="578.4" cy="551.7" r="2.78"/><circle class="c13" cx="611.3" cy="544.8" r="2.78"/><circle class="c19" cx="625.3" cy="551.7" r="2.78"/><circle class="c21" cx="604.1" cy="551.7" r="2.78"/><circle class="c0" cx="583.6" cy="551.2" r="2.78"/><circle class="c19" cx="601.6" cy="551.7" r="2.78"/><circle class="c16" cx="607.8" cy="551.7" r="2.78"/><circle class="c7" cx="598.4" cy="552.8" r="2.78"/><circle class="c1" cx="592.4" cy="551.7" r="2.78"/><circle class="c20" cx="607.5" cy="554.8" r="2.78"/><circle class="c15" cx="611.6" cy="546.5" r="2.78"/><circle class="c9" cx="575.8" cy="551.7" r="2.78"/><circle class="c19" cx="614.1" cy="551.7" r="2.78"/><circle class="c22" cx="630.4" cy="552.5" r="2.78"/><circle class="c23" cx="635.9" cy="551.7" r="2.78"/><circle class="c23" cx="634.3" cy="550.9" r="2.78"/><circle class="c23" cx="634.3" cy="552.4" r="2.78"/><circle class="c14" cx="611.3" cy="555.1" r="2.78"/><circle class="c23" cx="624.1" cy="551.7" r="2.78"/><circle class="c12" cx="611.6" cy="562.0" r="2.78"/><circle class="c14" cx="612.0" cy="563.7" r="2.78"/><circle class="c23" cx="606.6" cy="548.9" r="2.78"/><circle class="c15" cx="611.6" cy="548.2" r="2.78"/><circle class="c1" cx="590.8" cy="551.7" r="2.78"/><circle class="c21" cx="621.6" cy="550.2" r="2.78"/><circle class="c22" cx="626.6" cy="553.2" r="2.78"/><circle class="c14" cx="609.1" cy="549.8" r="2.78"/><circle class="c18" cx="620.3" cy="551.7" r="2.78"/><circle class="c20" cx="604.1" cy="555.4" r="2.78"/><circle class="c23" cx="621.6" cy="551.7" r="2.78"/><circle class="c17" cx="611.3" cy="546.5" r="2.78"/><circle class="c21" cx="607.5" cy="556.3" r="2.78"/><circle class="c13" cx="611.3" cy="551.7" r="2.78"/><circle class="c18" cx="602.8" cy="551.7" r="2.78"/><circle class="c12" cx="612.8" cy="551.7" r="2.78"/><circle class="c13" cx="610.3" cy="551.7" r="2.78"/><circle class="c18" cx="607.8" cy="556.3" r="2.78"/><circle class="c21" cx="615.3" cy="554.6" r="2.78"/><circle class="c23" cx="617.8" cy="553.2" r="2.78"/><circle class="c22" cx="632.1" cy="552.4" r="2.78"/><circle class="c14" cx="612.0" cy="553.4" r="2.78"/><circle class="c20" cx="607.5" cy="550.1" r="2.78"/><circle class="c23" cx="627.8" cy="554.8" r="2.78"/><circle class="c16" cx="611.3" cy="541.3" r="2.78"/><circle class="c19" cx="600.3" cy="549.8" r="2.78"/><circle class="c15" cx="611.6" cy="560.2" r="2.78"/><circle class="c3" cx="586.4" cy="551.7" r="2.78"/><circle class="c10" cx="557.2" cy="551.7" r="2.78"/><circle class="c0" cx="584.8" cy="551.0" r="2.78"/><circle class="c14" cx="611.3" cy="539.6" r="2.78"/><circle class="c14" cx="611.6" cy="548.2" r="2.78"/><circle class="c14" cx="612.0" cy="539.6" r="2.78"/><circle class="c0" cx="594.5" cy="552.5" r="2.78"/><circle class="c14" cx="611.6" cy="558.5" r="2.78"/><circle class="c1" cx="588.7" cy="551.7" r="2.78"/><circle class="c23" cx="624.1" cy="553.2" r="2.78"/><circle class="c18" cx="600.3" cy="553.5" r="2.78"/><circle class="c20" cx="629.1" cy="552.7" r="2.78"/><circle class="c19" cx="604.1" cy="547.9" r="2.78"/><circle class="c4" cx="598.4" cy="551.7" r="2.78"/><circle class="c2" cx="596.6" cy="551.7" r="2.78"/><circle class="c2" cx="594.5" cy="550.8" r="2.78"/><circle class="c2" cx="592.4" cy="553.0" r="2.78"/><circle class="c18" cx="615.3" cy="551.7" r="2.78"/><circle class="c23" cx="632.1" cy="550.9" r="2.78"/><circle class="c18" cx="616.6" cy="553.5" r="2.78"/><circle class="c19" cx="607.8" cy="550.1" r="2.78"/><circle class="c23" cx="634.3" cy="551.7" r="2.78"/><circle class="c20" cx="615.3" cy="553.1" r="2.78"/><circle class="c16" cx="612.0" cy="541.3" r="2.78"/><circle class="c1" cx="565.9" cy="551.7" r="2.78"/><circle class="c2" cx="586.4" cy="552.8" r="2.78"/><circle class="c12" cx="611.6" cy="546.5" r="2.78"/><circle class="c22" cx="607.8" cy="554.8" r="2.78"/><circle class="c14" cx="611.6" cy="551.7" r="2.78"/><circle class="c22" cx="620.3" cy="553.5" r="2.78"/><circle class="c12" cx="612.0" cy="544.8" r="2.78"/><circle class="c21" cx="606.6" cy="553.0" r="2.78"/><circle class="c20" cx="616.6" cy="549.8" r="2.78"/><circle class="c14" cx="611.6" cy="563.7" r="2.78"/><circle class="c21" cx="606.6" cy="551.7" r="2.78"/><circle class="c10" cx="563.9" cy="551.7" r="2.78"/><circle class="c10" cx="574.0" cy="551.7" r="2.78"/><circle class="c10" cx="576.5" cy="551.7" r="2.78"/><circle class="c10" cx="579.3" cy="551.7" r="2.78"/><circle class="c22" cx="601.0" cy="551.7" r="2.78"/></g><g><circle class="c21" cx="605.8" cy="587.4" r="2.78"/><circle class="c20" cx="611.7" cy="591.6" r="2.78"/><circle class="c18" cx="626.0" cy="586.5" r="2.78"/><circle class="c13" cx="619.7" cy="588.1" r="2.78"/><circle class="c0" cx="596.2" cy="585.6" r="2.78"/><circle class="c18" cx="627.0" cy="586.5" r="2.78"/><circle class="c0" cx="589.9" cy="585.2" r="2.78"/><circle class="c0" cx="591.2" cy="586.5" r="2.78"/><circle class="c21" cx="612.2" cy="584.8" r="2.78"/><circle class="c22" cx="614.7" cy="587.8" r="2.78"/><circle class="c20" cx="603.7" cy="586.5" r="2.78"/><circle class="c23" cx="612.2" cy="588.2" r="2.78"/><circle class="c22" cx="612.4" cy="576.2" r="2.78"/><circle class="c21" cx="622.2" cy="587.9" r="2.78"/><circle class="c23" cx="611.7" cy="583.0" r="2.78"/><circle class="c23" cx="612.2" cy="586.5" r="2.78"/><circle class="c23" cx="612.4" cy="588.2" r="2.78"/><circle class="c12" cx="618.3" cy="589.8" r="2.78"/><circle class="c21" cx="626.0" cy="587.5" r="2.78"/><circle class="c23" cx="613.5" cy="585.5" r="2.78"/><circle class="c23" cx="611.7" cy="588.2" r="2.78"/><circle class="c23" cx="611.7" cy="581.3" r="2.78"/><circle class="c22" cx="614.7" cy="586.5" r="2.78"/><circle class="c21" cx="623.5" cy="588.1" r="2.78"/><circle class="c14" cx="602.4" cy="586.5" r="2.78"/><circle class="c14" cx="618.5" cy="579.8" r="2.78"/><circle class="c14" cx="618.3" cy="586.5" r="2.78"/><circle class="c22" cx="612.0" cy="581.3" r="2.78"/><circle class="c16" cx="621.0" cy="588.3" r="2.78"/><circle class="c23" cx="611.0" cy="585.6" r="2.78"/><circle class="c23" cx="612.0" cy="574.5" r="2.78"/><circle class="c0" cx="597.4" cy="585.4" r="2.78"/><circle class="c1" cx="597.4" cy="587.6" r="2.78"/><circle class="c20" cx="624.7" cy="588.1" r="2.78"/><circle class="c18" cx="612.4" cy="581.3" r="2.78"/><circle class="c23" cx="612.4" cy="583.0" r="2.78"/><circle class="c1" cx="592.4" cy="586.5" r="2.78"/><circle class="c0" cx="593.7" cy="585.6" r="2.78"/><circle class="c14" cx="619.7" cy="586.5" r="2.78"/><circle class="c21" cx="612.2" cy="579.6" r="2.78"/><circle class="c21" cx="624.7" cy="586.5" r="2.78"/><circle class="c23" cx="613.5" cy="586.5" r="2.78"/><circle class="c23" cx="612.2" cy="591.6" r="2.78"/><circle class="c14" cx="619.7" cy="584.8" r="2.78"/><circle class="c0" cx="589.9" cy="587.8" r="2.78"/><circle class="c21" cx="612.4" cy="593.4" r="2.78"/><circle class="c23" cx="612.2" cy="589.9" r="2.78"/><circle class="c17" cx="617.2" cy="588.2" r="2.78"/><circle class="c0" cx="585.6" cy="586.5" r="2.78"/><circle class="c23" cx="612.4" cy="598.5" r="2.78"/><circle class="c22" cx="612.0" cy="576.2" r="2.78"/><circle class="c16" cx="618.5" cy="591.5" r="2.78"/><circle class="c19" cx="616.0" cy="587.6" r="2.78"/><circle class="c23" cx="611.7" cy="598.5" r="2.78"/><circle class="c1" cx="594.9" cy="585.3" r="2.78"/><circle class="c2" cx="597.4" cy="586.5" r="2.78"/><circle class="c18" cx="621.0" cy="584.7" r="2.78"/><circle class="c23" cx="612.0" cy="577.9" r="2.78"/><circle class="c18" cx="623.5" cy="584.8" r="2.78"/><circle class="c1" cx="598.7" cy="587.9" r="2.78"/><circle class="c23" cx="614.7" cy="585.2" r="2.78"/><circle class="c23" cx="607.2" cy="587.8" r="2.78"/><circle class="c15" cx="602.4" cy="588.0" r="2.78"/><circle class="c21" cx="612.0" cy="579.6" r="2.78"/><circle class="c22" cx="612.2" cy="577.9" r="2.78"/><circle class="c15" cx="618.5" cy="584.8" r="2.78"/><circle class="c0" cx="589.9" cy="586.5" r="2.78"/><circle class="c22" cx="612.4" cy="584.8" r="2.78"/><circle class="c23" cx="612.2" cy="574.5" r="2.78"/><circle class="c23" cx="612.4" cy="589.9" r="2.78"/><circle class="c23" cx="611.7" cy="574.5" r="2.78"/><circle class="c15" cx="618.3" cy="588.2" r="2.78"/><circle class="c22" cx="612.2" cy="581.3" r="2.78"/><circle class="c23" cx="611.7" cy="596.8" r="2.78"/><circle class="c15" cx="618.3" cy="579.8" r="2.78"/><circle class="c23" cx="612.0" cy="584.8" r="2.78"/><circle class="c23" cx="609.2" cy="585.5" r="2.78"/><circle class="c21" cx="612.4" cy="591.6" r="2.78"/><circle class="c15" cx="618.5" cy="583.1" r="2.78"/><circle class="c23" cx="611.7" cy="593.4" r="2.78"/><circle class="c23" cx="612.4" cy="596.8" r="2.78"/><circle class="c14" cx="617.2" cy="584.8" r="2.78"/><circle class="c21" cx="607.2" cy="586.5" r="2.78"/><circle class="c23" cx="612.0" cy="593.4" r="2.78"/><circle class="c13" cx="618.5" cy="581.4" r="2.78"/><circle class="c23" cx="612.0" cy="596.8" r="2.78"/><circle class="c17" cx="618.5" cy="586.5" r="2.78"/><circle class="c23" cx="611.7" cy="579.6" r="2.78"/><circle class="c18" cx="616.0" cy="585.3" r="2.78"/><circle class="c13" cx="618.3" cy="591.5" r="2.78"/><circle class="c23" cx="603.7" cy="585.1" r="2.78"/><circle class="c1" cx="601.2" cy="586.5" r="2.78"/><circle class="c19" cx="609.2" cy="587.5" r="2.78"/><circle class="c14" cx="618.5" cy="593.2" r="2.78"/><circle class="c22" cx="603.7" cy="587.8" r="2.78"/><circle class="c22" cx="612.0" cy="598.5" r="2.78"/><circle class="c22" cx="612.0" cy="586.5" r="2.78"/><circle class="c21" cx="605.8" cy="585.6" r="2.78"/><circle class="c23" cx="612.4" cy="595.1" r="2.78"/><circle class="c5" cx="599.9" cy="585.3" r="2.78"/><circle class="c23" cx="611.7" cy="586.5" r="2.78"/><circle class="c16" cx="618.3" cy="583.1" r="2.78"/><circle class="c23" cx="611.0" cy="586.5" r="2.78"/><circle class="c4" cx="599.9" cy="586.5" r="2.78"/><circle class="c23" cx="612.0" cy="589.9" r="2.78"/><circle class="c1" cx="588.5" cy="585.4" r="2.78"/><circle class="c22" cx="612.2" cy="598.5" r="2.78"/><circle class="c2" cx="594.9" cy="586.5" r="2.78"/><circle class="c2" cx="601.2" cy="587.7" r="2.78"/><circle class="c23" cx="612.0" cy="595.1" r="2.78"/><circle class="c16" cx="602.4" cy="585.0" r="2.78"/><circle class="c2" cx="592.4" cy="587.5" r="2.78"/><circle class="c15" cx="618.5" cy="588.2" r="2.78"/><circle class="c23" cx="612.2" cy="593.4" r="2.78"/><circle class="c23" cx="611.7" cy="576.2" r="2.78"/><circle class="c21" cx="626.0" cy="585.5" r="2.78"/><circle class="c23" cx="612.2" cy="596.8" r="2.78"/><circle class="c15" cx="617.2" cy="586.5" r="2.78"/><circle class="c22" cx="613.5" cy="587.5" r="2.78"/><circle class="c23" cx="605.8" cy="586.5" r="2.78"/><circle class="c3" cx="601.2" cy="585.3" r="2.78"/><circle class="c22" cx="612.4" cy="586.5" r="2.78"/><circle class="c23" cx="612.0" cy="591.6" r="2.78"/><circle class="c0" cx="588.5" cy="587.6" r="2.78"/><circle class="c0" cx="596.2" cy="586.5" r="2.78"/><circle class="c20" cx="612.4" cy="579.6" r="2.78"/><circle class="c0" cx="579.5" cy="586.5" r="2.78"/><circle class="c23" cx="612.4" cy="577.9" r="2.78"/><circle class="c15" cx="618.5" cy="589.8" r="2.78"/><circle class="c1" cx="593.7" cy="586.5" r="2.78"/><circle class="c14" cx="618.3" cy="593.2" r="2.78"/><circle class="c17" cx="627.0" cy="585.8" r="2.78"/><circle class="c22" cx="623.5" cy="586.5" r="2.78"/><circle class="c23" cx="611.7" cy="589.9" r="2.78"/><circle class="c20" cx="611.7" cy="577.9" r="2.78"/><circle class="c22" cx="622.2" cy="586.5" r="2.78"/><circle class="c2" cx="593.7" cy="587.4" r="2.78"/><circle class="c23" cx="611.7" cy="584.8" r="2.78"/><circle class="c0" cx="594.9" cy="587.7" r="2.78"/><circle class="c23" cx="612.2" cy="595.1" r="2.78"/><circle class="c1" cx="591.2" cy="587.6" r="2.78"/><circle class="c21" cx="611.7" cy="595.1" r="2.78"/><circle class="c20" cx="621.0" cy="586.5" r="2.78"/><circle class="c21" cx="624.7" cy="584.9" r="2.78"/><circle class="c23" cx="612.4" cy="574.5" r="2.78"/><circle class="c22" cx="622.2" cy="585.0" r="2.78"/><circle class="c23" cx="612.2" cy="576.2" r="2.78"/><circle class="c22" cx="616.0" cy="586.5" r="2.78"/><circle class="c1" cx="598.7" cy="585.0" r="2.78"/><circle class="c0" cx="596.2" cy="587.4" r="2.78"/><circle class="c1" cx="592.4" cy="585.4" r="2.78"/><circle class="c23" cx="607.2" cy="585.2" r="2.78"/><circle class="c22" cx="612.2" cy="583.0" r="2.78"/><circle class="c2" cx="598.7" cy="586.5" r="2.78"/><circle class="c0" cx="599.9" cy="587.7" r="2.78"/><circle class="c0" cx="591.2" cy="585.3" r="2.78"/><circle class="c22" cx="612.0" cy="588.2" r="2.78"/><circle class="c21" cx="612.0" cy="583.0" r="2.78"/><circle class="c19" cx="627.0" cy="587.2" r="2.78"/><circle class="c15" cx="618.3" cy="584.8" r="2.78"/><circle class="c23" cx="611.0" cy="587.4" r="2.78"/><circle class="c14" cx="618.3" cy="581.4" r="2.78"/><circle class="c22" cx="609.2" cy="586.5" r="2.78"/><circle class="c5" cx="588.5" cy="586.5" r="2.78"/></g><g><circle class="c6" cx="607.8" cy="614.3" r="2.78"/><circle class="c5" cx="606.6" cy="620.1" r="2.78"/><circle class="c8" cx="612.8" cy="621.3" r="2.78"/><circle class="c12" cx="615.3" cy="621.3" r="2.78"/><circle class="c7" cx="615.3" cy="620.5" r="2.78"/><circle class="c10" cx="616.9" cy="622.1" r="2.78"/><circle class="c12" cx="607.8" cy="617.8" r="2.78"/><circle class="c22" cx="639.8" cy="621.3" r="2.78"/><circle class="c5" cx="599.1" cy="621.3" r="2.78"/><circle class="c0" cx="549.2" cy="621.3" r="2.78"/><circle class="c5" cx="611.9" cy="626.4" r="2.78"/><circle class="c8" cx="608.0" cy="614.3" r="2.78"/><circle class="c13" cx="619.9" cy="621.3" r="2.78"/><circle class="c14" cx="611.9" cy="621.3" r="2.78"/><circle class="c23" cx="636.8" cy="620.8" r="2.78"/><circle class="c23" cx="632.7" cy="621.7" r="2.78"/><circle class="c0" cx="600.3" cy="622.7" r="2.78"/><circle class="c1" cx="604.1" cy="620.3" r="2.78"/><circle class="c23" cx="650.9" cy="621.3" r="2.78"/><circle class="c22" cx="634.5" cy="620.9" r="2.78"/><circle class="c1" cx="602.8" cy="619.7" r="2.78"/><circle class="c0" cx="602.8" cy="624.6" r="2.78"/><circle class="c13" cx="621.0" cy="620.4" r="2.78"/><circle class="c7" cx="611.6" cy="626.4" r="2.78"/><circle class="c8" cx="611.6" cy="624.7" r="2.78"/><circle class="c22" cx="624.9" cy="621.3" r="2.78"/><circle class="c12" cx="616.9" cy="620.5" r="2.78"/><circle class="c5" cx="599.1" cy="619.8" r="2.78"/><circle class="c13" cx="611.6" cy="614.6" r="2.78"/><circle class="c2" cx="605.3" cy="622.9" r="2.78"/><circle class="c8" cx="608.0" cy="609.1" r="2.78"/><circle class="c2" cx="602.8" cy="623.0" r="2.78"/><circle class="c13" cx="611.9" cy="624.7" r="2.78"/><circle class="c6" cx="604.1" cy="622.4" r="2.78"/><circle class="c17" cx="623.0" cy="622.2" r="2.78"/><circle class="c6" cx="594.0" cy="622.6" r="2.78"/><circle class="c3" cx="601.6" cy="621.3" r="2.78"/><circle class="c7" cx="611.9" cy="623.0" r="2.78"/><circle class="c2" cx="596.6" cy="621.3" r="2.78"/><circle class="c6" cx="608.0" cy="621.3" r="2.78"/><circle class="c7" cx="600.3" cy="621.3" r="2.78"/><circle class="c6" cx="610.3" cy="623.5" r="2.78"/><circle class="c21" cx="655.2" cy="621.3" r="2.78"/><circle class="c11" cx="616.9" cy="621.3" r="2.78"/><circle class="c2" cx="602.8" cy="618.0" r="2.78"/><circle class="c0" cx="572.1" cy="621.3" r="2.78"/><circle class="c23" cx="695.5" cy="621.3" r="2.78"/><circle class="c15" cx="621.0" cy="622.2" r="2.78"/><circle class="c23" cx="627.2" cy="621.3" r="2.78"/><circle class="c1" cx="590.9" cy="622.1" r="2.78"/><circle class="c0" cx="578.8" cy="621.3" r="2.78"/><circle class="c7" cx="608.0" cy="624.8" r="2.78"/><circle class="c6" cx="595.3" cy="622.5" r="2.78"/><circle class="c5" cx="610.3" cy="621.3" r="2.78"/><circle class="c2" cx="601.6" cy="618.6" r="2.78"/><circle class="c5" cx="608.0" cy="631.8" r="2.78"/><circle class="c23" cx="629.3" cy="621.3" r="2.78"/><circle class="c8" cx="607.8" cy="616.1" r="2.78"/><circle class="c8" cx="611.6" cy="619.6" r="2.78"/><circle class="c2" cx="600.3" cy="624.0" r="2.78"/><circle class="c6" cx="606.6" cy="623.8" r="2.78"/><circle class="c18" cx="623.0" cy="620.4" r="2.78"/><circle class="c8" cx="611.9" cy="618.0" r="2.78"/><circle class="c12" cx="615.3" cy="622.2" r="2.78"/><circle class="c11" cx="609.1" cy="619.6" r="2.78"/><circle class="c9" cx="611.9" cy="614.6" r="2.78"/><circle class="c4" cx="606.6" cy="621.3" r="2.78"/><circle class="c23" cx="647.7" cy="621.3" r="2.78"/><circle class="c4" cx="607.8" cy="619.6" r="2.78"/><circle class="c7" cx="614.1" cy="622.7" r="2.78"/><circle class="c5" cx="611.6" cy="618.0" r="2.78"/><circle class="c0" cx="606.6" cy="618.8" r="2.78"/><circle class="c21" cx="634.5" cy="621.7" r="2.78"/><circle class="c10" cx="611.9" cy="616.3" r="2.78"/><circle class="c21" cx="668.2" cy="621.3" r="2.78"/><circle class="c23" cx="627.2" cy="622.4" r="2.78"/><circle class="c8" cx="608.0" cy="616.1" r="2.78"/><circle class="c23" cx="630.5" cy="622.2" r="2.78"/><circle class="c2" cx="608.0" cy="626.6" r="2.78"/><circle class="c3" cx="595.3" cy="621.3" r="2.78"/><circle class="c0" cx="558.5" cy="621.3" r="2.78"/><circle class="c5" cx="608.0" cy="610.8" r="2.78"/><circle class="c7" cx="607.8" cy="623.1" r="2.78"/><circle class="c6" cx="599.1" cy="624.4" r="2.78"/><circle class="c19" cx="624.9" cy="622.4" r="2.78"/><circle class="c5" cx="607.8" cy="624.8" r="2.78"/><circle class="c9" cx="608.0" cy="617.8" r="2.78"/><circle class="c0" cx="573.7" cy="621.3" r="2.78"/><circle class="c2" cx="597.8" cy="622.9" r="2.78"/><circle class="c7" cx="607.8" cy="628.3" r="2.78"/><circle class="c23" cx="638.6" cy="621.7" r="2.78"/><circle class="c15" cx="623.0" cy="621.3" r="2.78"/><circle class="c6" cx="608.0" cy="623.1" r="2.78"/><circle class="c23" cx="660.9" cy="621.3" r="2.78"/><circle class="c23" cx="639.8" cy="620.8" r="2.78"/><circle class="c23" cx="664.5" cy="621.3" r="2.78"/><circle class="c20" cx="634.5" cy="621.3" r="2.78"/><circle class="c21" cx="636.8" cy="621.3" r="2.78"/><circle class="c19" cx="636.8" cy="621.8" r="2.78"/><circle class="c8" cx="608.0" cy="630.0" r="2.78"/><circle class="c0" cx="575.5" cy="621.3" r="2.78"/><circle class="c11" cx="607.8" cy="626.6" r="2.78"/><circle class="c4" cx="607.8" cy="633.5" r="2.78"/><circle class="c21" cx="658.3" cy="621.3" r="2.78"/><circle class="c13" cx="612.8" cy="622.3" r="2.78"/><circle class="c2" cx="595.3" cy="620.1" r="2.78"/><circle class="c0" cx="583.2" cy="621.3" r="2.78"/><circle class="c5" cx="607.8" cy="612.6" r="2.78"/><circle class="c0" cx="599.1" cy="622.8" r="2.78"/><circle class="c8" cx="611.6" cy="623.0" r="2.78"/><circle class="c4" cx="608.0" cy="612.6" r="2.78"/><circle class="c0" cx="590.9" cy="621.3" r="2.78"/><circle class="c7" cx="609.1" cy="624.8" r="2.78"/><circle class="c4" cx="604.1" cy="619.2" r="2.78"/><circle class="c8" cx="612.8" cy="619.3" r="2.78"/><circle class="c20" cx="630.5" cy="621.3" r="2.78"/><circle class="c10" cx="611.6" cy="621.3" r="2.78"/><circle class="c7" cx="614.1" cy="621.3" r="2.78"/><circle class="c2" cx="597.8" cy="619.7" r="2.78"/><circle class="c3" cx="601.6" cy="620.0" r="2.78"/><circle class="c4" cx="586.7" cy="621.3" r="2.78"/><circle class="c1" cx="604.1" cy="621.3" r="2.78"/><circle class="c9" cx="619.9" cy="620.5" r="2.78"/><circle class="c9" cx="609.1" cy="621.3" r="2.78"/><circle class="c11" cx="611.6" cy="616.3" r="2.78"/><circle class="c11" cx="621.0" cy="621.3" r="2.78"/><circle class="c19" cx="639.8" cy="621.8" r="2.78"/><circle class="c1" cx="592.2" cy="620.1" r="2.78"/><circle class="c11" cx="618.2" cy="621.3" r="2.78"/><circle class="c2" cx="592.2" cy="621.3" r="2.78"/><circle class="c10" cx="614.1" cy="619.9" r="2.78"/><circle class="c10" cx="610.3" cy="620.2" r="2.78"/><circle class="c20" cx="624.9" cy="620.3" r="2.78"/><circle class="c19" cx="641.8" cy="621.3" r="2.78"/><circle class="c1" cx="599.1" cy="618.3" r="2.78"/><circle class="c12" cx="611.6" cy="628.0" r="2.78"/><circle class="c23" cx="629.3" cy="620.7" r="2.78"/><circle class="c4" cx="597.8" cy="621.3" r="2.78"/><circle class="c20" cx="630.5" cy="620.4" r="2.78"/><circle class="c1" cx="590.9" cy="620.6" r="2.78"/><circle class="c6" cx="611.9" cy="619.6" r="2.78"/><circle class="c5" cx="606.6" cy="622.6" r="2.78"/><circle class="c6" cx="607.8" cy="621.3" r="2.78"/><circle class="c4" cx="594.0" cy="621.3" r="2.78"/><circle class="c23" cx="686.1" cy="621.3" r="2.78"/><circle class="c5" cx="609.1" cy="617.8" r="2.78"/><circle class="c23" cx="632.7" cy="621.3" r="2.78"/><circle class="c3" cx="604.1" cy="623.4" r="2.78"/><circle class="c5" cx="612.8" cy="623.3" r="2.78"/><circle class="c10" cx="605.3" cy="624.5" r="2.78"/><circle class="c22" cx="632.7" cy="620.9" r="2.78"/><circle class="c23" cx="627.2" cy="620.3" r="2.78"/><circle class="c9" cx="611.9" cy="628.0" r="2.78"/><circle class="c1" cx="596.6" cy="619.4" r="2.78"/><circle class="c5" cx="594.0" cy="620.1" r="2.78"/><circle class="c10" cx="610.3" cy="619.1" r="2.78"/><circle class="c20" cx="638.6" cy="620.9" r="2.78"/><circle class="c4" cx="602.8" cy="621.3" r="2.78"/><circle class="c1" cx="605.3" cy="618.1" r="2.78"/><circle class="c1" cx="596.6" cy="623.2" r="2.78"/><circle class="c1" cx="592.2" cy="622.5" r="2.78"/><circle class="c6" cx="608.0" cy="633.5" r="2.78"/><circle class="c6" cx="608.0" cy="619.6" r="2.78"/><circle class="c6" cx="609.1" cy="623.1" r="2.78"/><circle class="c19" cx="643.1" cy="621.3" r="2.78"/><circle class="c23" cx="641.8" cy="621.7" r="2.78"/><circle class="c9" cx="618.2" cy="620.7" r="2.78"/><circle class="c8" cx="607.8" cy="610.8" r="2.78"/><circle class="c0" cx="600.3" cy="620.0" r="2.78"/><circle class="c9" cx="605.3" cy="619.7" r="2.78"/><circle class="c4" cx="607.8" cy="631.8" r="2.78"/><circle class="c22" cx="629.3" cy="622.0" r="2.78"/><circle class="c20" cx="638.6" cy="621.3" r="2.78"/><circle class="c5" cx="608.0" cy="628.3" r="2.78"/><circle class="c5" cx="601.6" cy="624.0" r="2.78"/><circle class="c22" cx="641.8" cy="620.9" r="2.78"/><circle class="c12" cx="618.2" cy="622.0" r="2.78"/><circle class="c0" cx="601.6" cy="622.7" r="2.78"/><circle class="c9" cx="619.9" cy="622.2" r="2.78"/><circle class="c12" cx="610.3" cy="622.4" r="2.78"/><circle class="c20" cx="674.0" cy="621.3" r="2.78"/><circle class="c10" cx="607.8" cy="630.0" r="2.78"/><circle class="c22" cx="671.2" cy="621.3" r="2.78"/><circle class="c5" cx="607.8" cy="609.1" r="2.78"/><circle class="c8" cx="612.8" cy="620.3" r="2.78"/><circle class="c6" cx="605.3" cy="621.3" r="2.78"/><circle class="c7" cx="600.3" cy="618.6" r="2.78"/></g><g><circle class="c9" cx="614.8" cy="661.0" r="2.78"/><circle class="c8" cx="611.0" cy="661.4" r="2.78"/><circle class="c3" cx="607.3" cy="658.8" r="2.78"/><circle class="c2" cx="602.3" cy="655.0" r="2.78"/><circle class="c21" cx="626.3" cy="655.2" r="2.78"/><circle class="c9" cx="612.1" cy="656.2" r="2.78"/><circle class="c1" cx="604.8" cy="656.2" r="2.78"/><circle class="c2" cx="589.0" cy="655.4" r="2.78"/><circle class="c10" cx="611.2" cy="663.1" r="2.78"/><circle class="c12" cx="617.3" cy="657.5" r="2.78"/><circle class="c1" cx="597.2" cy="657.1" r="2.78"/><circle class="c23" cx="628.1" cy="656.2" r="2.78"/><circle class="c8" cx="612.3" cy="657.9" r="2.78"/><circle class="c1" cx="593.2" cy="656.2" r="2.78"/><circle class="c8" cx="611.2" cy="654.4" r="2.78"/><circle class="c0" cx="598.5" cy="656.2" r="2.78"/><circle class="c8" cx="611.2" cy="656.2" r="2.78"/><circle class="c8" cx="612.1" cy="645.7" r="2.78"/><circle class="c0" cx="589.0" cy="656.2" r="2.78"/><circle class="c11" cx="612.1" cy="664.9" r="2.78"/><circle class="c23" cx="518.1" cy="656.2" r="2.78"/><circle class="c9" cx="611.0" cy="656.2" r="2.78"/><circle class="c0" cx="575.2" cy="656.2" r="2.78"/><circle class="c2" cx="562.3" cy="656.2" r="2.78"/><circle class="c6" cx="612.1" cy="652.7" r="2.78"/><circle class="c9" cx="616.0" cy="656.2" r="2.78"/><circle class="c19" cx="624.8" cy="655.4" r="2.78"/><circle class="c23" cx="630.4" cy="656.2" r="2.78"/><circle class="c1" cx="601.0" cy="655.0" r="2.78"/><circle class="c8" cx="611.0" cy="664.9" r="2.78"/><circle class="c9" cx="611.6" cy="645.7" r="2.78"/><circle class="c12" cx="612.1" cy="657.9" r="2.78"/><circle class="c11" cx="612.1" cy="654.4" r="2.78"/><circle class="c23" cx="526.6" cy="656.2" r="2.78"/><circle class="c12" cx="614.8" cy="656.2" r="2.78"/><circle class="c1" cx="606.0" cy="654.9" r="2.78"/><circle class="c11" cx="616.0" cy="663.9" r="2.78"/><circle class="c9" cx="611.6" cy="663.1" r="2.78"/><circle class="c7" cx="613.5" cy="651.8" r="2.78"/><circle class="c8" cx="611.6" cy="643.9" r="2.78"/><circle class="c17" cx="619.8" cy="658.3" r="2.78"/><circle class="c0" cx="603.5" cy="652.6" r="2.78"/><circle class="c21" cx="623.5" cy="655.1" r="2.78"/><circle class="c0" cx="591.1" cy="656.2" r="2.78"/><circle class="c14" cx="616.0" cy="650.0" r="2.78"/><circle class="c8" cx="611.0" cy="668.4" r="2.78"/><circle class="c10" cx="612.1" cy="661.4" r="2.78"/><circle class="c10" cx="612.1" cy="647.4" r="2.78"/><circle class="c18" cx="619.8" cy="654.0" r="2.78"/><circle class="c1" cx="606.0" cy="653.6" r="2.78"/><circle class="c9" cx="614.8" cy="657.8" r="2.78"/><circle class="c8" cx="612.3" cy="663.1" r="2.78"/><circle class="c0" cx="593.2" cy="657.0" r="2.78"/><circle class="c10" cx="616.0" cy="657.7" r="2.78"/><circle class="c9" cx="611.0" cy="647.4" r="2.78"/><circle class="c9" cx="616.0" cy="660.8" r="2.78"/><circle class="c11" cx="612.1" cy="649.2" r="2.78"/><circle class="c9" cx="612.3" cy="650.9" r="2.78"/><circle class="c9" cx="616.0" cy="651.5" r="2.78"/><circle class="c23" cx="638.1" cy="656.2" r="2.78"/><circle class="c8" cx="612.3" cy="647.4" r="2.78"/><circle class="c10" cx="616.0" cy="654.6" r="2.78"/><circle class="c9" cx="612.3" cy="668.4" r="2.78"/><circle class="c10" cx="614.8" cy="652.9" r="2.78"/><circle class="c0" cx="594.9" cy="656.8" r="2.78"/><circle class="c9" cx="611.6" cy="668.4" r="2.78"/><circle class="c20" cx="621.0" cy="655.0" r="2.78"/><circle class="c8" cx="611.2" cy="661.4" r="2.78"/><circle class="c2" cx="604.8" cy="657.9" r="2.78"/><circle class="c9" cx="616.0" cy="648.4" r="2.78"/><circle class="c0" cx="599.8" cy="657.6" r="2.78"/><circle class="c8" cx="612.1" cy="663.1" r="2.78"/><circle class="c11" cx="611.2" cy="645.7" r="2.78"/><circle class="c6" cx="612.1" cy="643.9" r="2.78"/><circle class="c9" cx="613.5" cy="656.2" r="2.78"/><circle class="c0" cx="598.5" cy="657.2" r="2.78"/><circle class="c9" cx="612.1" cy="650.9" r="2.78"/><circle class="c9" cx="612.3" cy="645.7" r="2.78"/><circle class="c0" cx="606.0" cy="658.7" r="2.78"/><circle class="c8" cx="611.6" cy="647.4" r="2.78"/><circle class="c9" cx="613.5" cy="653.2" r="2.78"/><circle class="c1" cx="604.8" cy="652.7" r="2.78"/><circle class="c19" cx="621.0" cy="653.8" r="2.78"/><circle class="c20" cx="628.1" cy="656.8" r="2.78"/><circle class="c9" cx="617.3" cy="660.2" r="2.78"/><circle class="c8" cx="611.2" cy="652.7" r="2.78"/><circle class="c7" cx="611.2" cy="657.9" r="2.78"/><circle class="c3" cx="597.2" cy="656.2" r="2.78"/><circle class="c9" cx="611.6" cy="657.9" r="2.78"/><circle class="c0" cx="593.2" cy="655.3" r="2.78"/><circle class="c12" cx="616.0" cy="651.5" r="2.78"/><circle class="c0" cx="606.0" cy="657.4" r="2.78"/><circle class="c12" cx="613.5" cy="660.5" r="2.78"/><circle class="c7" cx="611.0" cy="666.6" r="2.78"/><circle class="c10" cx="611.2" cy="647.4" r="2.78"/><circle class="c13" cx="614.8" cy="659.4" r="2.78"/><circle class="c9" cx="611.6" cy="659.6" r="2.78"/><circle class="c9" cx="612.3" cy="661.4" r="2.78"/><circle class="c23" cx="647.9" cy="656.2" r="2.78"/><circle class="c8" cx="616.0" cy="659.2" r="2.78"/><circle class="c8" cx="611.6" cy="652.7" r="2.78"/><circle class="c21" cx="628.1" cy="655.5" r="2.78"/><circle class="c7" cx="611.2" cy="668.4" r="2.78"/><circle class="c8" cx="616.0" cy="657.7" r="2.78"/><circle class="c8" cx="611.6" cy="661.4" r="2.78"/><circle class="c4" cx="608.5" cy="659.1" r="2.78"/><circle class="c0" cx="601.0" cy="656.2" r="2.78"/><circle class="c1" cx="604.8" cy="659.6" r="2.78"/><circle class="c0" cx="602.3" cy="653.8" r="2.78"/><circle class="c0" cx="603.5" cy="659.7" r="2.78"/><circle class="c0" cx="606.0" cy="660.0" r="2.78"/><circle class="c8" cx="616.0" cy="662.3" r="2.78"/><circle class="c7" cx="612.3" cy="666.6" r="2.78"/><circle class="c9" cx="611.6" cy="664.9" r="2.78"/><circle class="c11" cx="618.5" cy="659.6" r="2.78"/><circle class="c10" cx="612.3" cy="659.6" r="2.78"/><circle class="c0" cx="586.8" cy="656.2" r="2.78"/><circle class="c19" cx="621.0" cy="657.3" r="2.78"/><circle class="c11" cx="618.5" cy="652.7" r="2.78"/><circle class="c7" cx="609.8" cy="654.5" r="2.78"/><circle class="c0" cx="571.4" cy="656.2" r="2.78"/><circle class="c9" cx="614.8" cy="651.3" r="2.78"/><circle class="c3" cx="607.3" cy="653.5" r="2.78"/><circle class="c10" cx="612.3" cy="652.7" r="2.78"/><circle class="c22" cx="622.3" cy="655.0" r="2.78"/><circle class="c11" cx="609.8" cy="657.8" r="2.78"/><circle class="c9" cx="616.0" cy="654.6" r="2.78"/><circle class="c13" cx="618.5" cy="654.4" r="2.78"/><circle class="c10" cx="611.6" cy="656.2" r="2.78"/><circle class="c22" cx="621.0" cy="656.2" r="2.78"/><circle class="c0" cx="603.5" cy="657.9" r="2.78"/><circle class="c11" cx="613.5" cy="657.6" r="2.78"/><circle class="c1" cx="573.3" cy="656.2" r="2.78"/><circle class="c11" cx="616.0" cy="653.1" r="2.78"/><circle class="c18" cx="622.3" cy="657.3" r="2.78"/><circle class="c7" cx="618.5" cy="657.9" r="2.78"/><circle class="c8" cx="611.6" cy="666.6" r="2.78"/><circle class="c9" cx="611.0" cy="654.4" r="2.78"/><circle class="c7" cx="609.8" cy="659.5" r="2.78"/><circle class="c14" cx="619.8" cy="656.2" r="2.78"/><circle class="c8" cx="611.2" cy="659.6" r="2.78"/><circle class="c3" cx="606.0" cy="652.3" r="2.78"/><circle class="c13" cx="618.5" cy="656.2" r="2.78"/><circle class="c7" cx="612.3" cy="654.4" r="2.78"/><circle class="c0" cx="594.9" cy="656.2" r="2.78"/><circle class="c3" cx="604.8" cy="654.4" r="2.78"/><circle class="c8" cx="612.3" cy="643.9" r="2.78"/><circle class="c3" cx="607.3" cy="656.2" r="2.78"/><circle class="c9" cx="616.0" cy="663.9" r="2.78"/><circle class="c8" cx="611.2" cy="649.2" r="2.78"/><circle class="c4" cx="608.5" cy="656.2" r="2.78"/><circle class="c7" cx="617.3" cy="656.2" r="2.78"/><circle class="c9" cx="611.0" cy="650.9" r="2.78"/><circle class="c1" cx="603.5" cy="656.2" r="2.78"/><circle class="c11" cx="614.8" cy="654.5" r="2.78"/><circle class="c1" cx="599.8" cy="656.2" r="2.78"/><circle class="c21" cx="623.5" cy="656.2" r="2.78"/><circle class="c7" cx="612.1" cy="668.4" r="2.78"/><circle class="c8" cx="612.1" cy="659.6" r="2.78"/><circle class="c2" cx="607.3" cy="654.8" r="2.78"/><circle class="c9" cx="612.3" cy="664.9" r="2.78"/><circle class="c2" cx="601.0" cy="658.4" r="2.78"/><circle class="c0" cx="591.1" cy="655.3" r="2.78"/><circle class="c11" cx="616.0" cy="662.3" r="2.78"/><circle class="c2" cx="597.2" cy="655.2" r="2.78"/><circle class="c10" cx="613.5" cy="659.1" r="2.78"/><circle class="c10" cx="612.1" cy="666.6" r="2.78"/><circle class="c7" cx="611.0" cy="663.1" r="2.78"/><circle class="c23" cx="626.3" cy="657.1" r="2.78"/><circle class="c12" cx="611.2" cy="650.9" r="2.78"/><circle class="c6" cx="608.5" cy="657.6" r="2.78"/><circle class="c11" cx="617.3" cy="654.8" r="2.78"/><circle class="c9" cx="611.6" cy="654.4" r="2.78"/><circle class="c1" cx="591.1" cy="657.0" r="2.78"/><circle class="c23" cx="624.8" cy="656.2" r="2.78"/><circle class="c0" cx="599.8" cy="654.7" r="2.78"/><circle class="c8" cx="611.6" cy="650.9" r="2.78"/><circle class="c2" cx="602.3" cy="658.5" r="2.78"/><circle class="c2" cx="598.5" cy="655.1" r="2.78"/><circle class="c7" cx="612.3" cy="656.2" r="2.78"/><circle class="c9" cx="617.3" cy="652.1" r="2.78"/><circle class="c1" cx="601.0" cy="653.9" r="2.78"/><circle class="c0" cx="603.5" cy="654.4" r="2.78"/><circle class="c6" cx="611.2" cy="664.9" r="2.78"/><circle class="c19" cx="621.0" cy="658.5" r="2.78"/><circle class="c11" cx="616.0" cy="650.0" r="2.78"/><circle class="c8" cx="609.8" cy="656.2" r="2.78"/><circle class="c22" cx="624.8" cy="656.9" r="2.78"/><circle class="c0" cx="578.4" cy="656.2" r="2.78"/><circle class="c13" cx="617.3" cy="653.5" r="2.78"/><circle class="c2" cx="607.3" cy="657.5" r="2.78"/><circle class="c8" cx="608.5" cy="653.2" r="2.78"/><circle class="c0" cx="594.9" cy="655.5" r="2.78"/><circle class="c10" cx="617.3" cy="658.8" r="2.78"/><circle class="c9" cx="611.0" cy="649.2" r="2.78"/><circle class="c8" cx="611.0" cy="652.7" r="2.78"/><circle class="c8" cx="611.0" cy="645.7" r="2.78"/><circle class="c10" cx="616.0" cy="660.8" r="2.78"/><circle class="c0" cx="582.6" cy="656.2" r="2.78"/><circle class="c7" cx="612.3" cy="649.2" r="2.78"/><circle class="c11" cx="611.6" cy="649.2" r="2.78"/><circle class="c0" cx="602.3" cy="656.2" r="2.78"/><circle class="c5" cx="608.5" cy="654.7" r="2.78"/><circle class="c0" cx="589.0" cy="656.9" r="2.78"/><circle class="c17" cx="619.8" cy="655.1" r="2.78"/><circle class="c0" cx="601.0" cy="657.3" r="2.78"/><circle class="c9" cx="611.2" cy="643.9" r="2.78"/><circle class="c2" cx="606.0" cy="656.2" r="2.78"/><circle class="c10" cx="611.0" cy="657.9" r="2.78"/><circle class="c8" cx="616.0" cy="653.1" r="2.78"/><circle class="c9" cx="611.0" cy="659.6" r="2.78"/><circle class="c8" cx="616.0" cy="656.2" r="2.78"/><circle class="c7" cx="611.2" cy="666.6" r="2.78"/><circle class="c21" cx="623.5" cy="657.2" r="2.78"/><circle class="c11" cx="616.0" cy="648.4" r="2.78"/><circle class="c15" cx="619.8" cy="657.2" r="2.78"/><circle class="c0" cx="602.3" cy="657.3" r="2.78"/><circle class="c9" cx="616.0" cy="659.2" r="2.78"/><circle class="c8" cx="611.0" cy="643.9" r="2.78"/><circle class="c9" cx="613.5" cy="654.7" r="2.78"/><circle class="c22" cx="626.3" cy="656.2" r="2.78"/><circle class="c20" cx="622.3" cy="656.2" r="2.78"/><circle class="c7" cx="609.8" cy="652.8" r="2.78"/></g><g><circle class="c0" cx="607.5" cy="684.0" r="2.78"/><circle class="c23" cx="632.8" cy="686.6" r="2.78"/><circle class="c23" cx="627.5" cy="691.0" r="2.78"/><circle class="c0" cx="607.9" cy="701.5" r="2.78"/><circle class="c0" cx="608.9" cy="699.7" r="2.78"/><circle class="c0" cx="608.9" cy="701.5" r="2.78"/><circle class="c0" cx="602.9" cy="692.7" r="2.78"/><circle class="c0" cx="607.9" cy="682.3" r="2.78"/><circle class="c0" cx="608.9" cy="678.8" r="2.78"/><circle class="c23" cx="632.4" cy="692.5" r="2.78"/><circle class="c0" cx="601.6" cy="687.2" r="2.78"/><circle class="c23" cx="637.0" cy="690.5" r="2.78"/><circle class="c0" cx="607.5" cy="685.7" r="2.78"/><circle class="c0" cx="606.6" cy="693.0" r="2.78"/><circle class="c0" cx="608.2" cy="701.5" r="2.78"/><circle class="c0" cx="608.9" cy="698.0" r="2.78"/><circle class="c0" cx="587.9" cy="691.0" r="2.78"/><circle class="c0" cx="597.9" cy="689.4" r="2.78"/><circle class="c0" cx="604.1" cy="692.2" r="2.78"/><circle class="c0" cx="607.5" cy="682.3" r="2.78"/><circle class="c0" cx="608.2" cy="694.5" r="2.78"/><circle class="c0" cx="600.4" cy="691.0" r="2.78"/><circle class="c23" cx="624.3" cy="691.0" r="2.78"/><circle class="c23" cx="652.9" cy="691.0" r="2.78"/><circle class="c0" cx="607.9" cy="703.2" r="2.78"/><circle class="c0" cx="604.1" cy="691.0" r="2.78"/><circle class="c23" cx="621.4" cy="691.0" r="2.78"/><circle class="c0" cx="604.1" cy="688.5" r="2.78"/><circle class="c23" cx="632.4" cy="693.9" r="2.78"/><circle class="c0" cx="605.4" cy="693.6" r="2.78"/><circle class="c0" cx="607.5" cy="703.2" r="2.78"/><circle class="c23" cx="635.4" cy="691.3" r="2.78"/><circle class="c0" cx="608.2" cy="682.3" r="2.78"/><circle class="c23" cx="635.4" cy="690.6" r="2.78"/><circle class="c0" cx="595.1" cy="689.8" r="2.78"/><circle class="c0" cx="605.4" cy="689.7" r="2.78"/><circle class="c0" cx="600.4" cy="689.8" r="2.78"/><circle class="c0" cx="608.8" cy="691.0" r="2.78"/><circle class="c0" cx="597.9" cy="691.0" r="2.78"/><circle class="c23" cx="632.8" cy="692.5" r="2.78"/><circle class="c23" cx="639.4" cy="691.3" r="2.78"/><circle class="c0" cx="607.9" cy="692.7" r="2.78"/><circle class="c0" cx="608.2" cy="685.7" r="2.78"/><circle class="c0" cx="608.2" cy="684.0" r="2.78"/><circle class="c0" cx="596.6" cy="689.6" r="2.78"/><circle class="c0" cx="607.5" cy="692.7" r="2.78"/><circle class="c0" cx="607.5" cy="689.2" r="2.78"/><circle class="c0" cx="602.9" cy="691.0" r="2.78"/><circle class="c0" cx="608.9" cy="694.5" r="2.78"/><circle class="c0" cx="607.9" cy="689.2" r="2.78"/><circle class="c0" cx="595.1" cy="692.2" r="2.78"/><circle class="c23" cx="632.8" cy="691.0" r="2.78"/><circle class="c23" cx="632.4" cy="691.0" r="2.78"/><circle class="c0" cx="608.2" cy="687.5" r="2.78"/><circle class="c0" cx="607.9" cy="694.5" r="2.78"/><circle class="c0" cx="605.4" cy="691.0" r="2.78"/><circle class="c0" cx="608.9" cy="680.5" r="2.78"/><circle class="c0" cx="599.1" cy="692.6" r="2.78"/><circle class="c0" cx="596.6" cy="692.4" r="2.78"/><circle class="c0" cx="600.4" cy="688.6" r="2.78"/><circle class="c23" cx="632.4" cy="686.6" r="2.78"/><circle class="c23" cx="633.2" cy="693.9" r="2.78"/><circle class="c0" cx="600.4" cy="693.4" r="2.78"/><circle class="c0" cx="599.1" cy="691.0" r="2.78"/><circle class="c0" cx="602.9" cy="687.6" r="2.78"/><circle class="c0" cx="595.1" cy="691.0" r="2.78"/><circle class="c0" cx="608.8" cy="682.3" r="2.78"/><circle class="c0" cx="608.8" cy="678.8" r="2.78"/><circle class="c1" cx="605.4" cy="688.4" r="2.78"/><circle class="c0" cx="608.8" cy="703.2" r="2.78"/><circle class="c0" cx="600.4" cy="692.2" r="2.78"/><circle class="c0" cx="601.6" cy="692.9" r="2.78"/><circle class="c0" cx="608.2" cy="691.0" r="2.78"/><circle class="c0" cx="608.9" cy="691.0" r="2.78"/><circle class="c23" cx="632.8" cy="693.9" r="2.78"/><circle class="c23" cx="632.8" cy="695.4" r="2.78"/><circle class="c23" cx="637.0" cy="691.0" r="2.78"/><circle class="c0" cx="596.6" cy="691.0" r="2.78"/><circle class="c0" cx="601.6" cy="691.0" r="2.78"/><circle class="c0" cx="607.5" cy="680.5" r="2.78"/><circle class="c0" cx="608.8" cy="685.7" r="2.78"/><circle class="c0" cx="608.8" cy="689.2" r="2.78"/><circle class="c0" cx="608.8" cy="701.5" r="2.78"/><circle class="c23" cx="632.8" cy="689.5" r="2.78"/><circle class="c23" cx="632.4" cy="688.0" r="2.78"/><circle class="c0" cx="608.9" cy="682.3" r="2.78"/><circle class="c1" cx="607.9" cy="696.2" r="2.78"/><circle class="c0" cx="607.5" cy="678.8" r="2.78"/><circle class="c0" cx="607.5" cy="687.5" r="2.78"/><circle class="c23" cx="637.0" cy="691.5" r="2.78"/><circle class="c0" cx="599.1" cy="694.2" r="2.78"/><circle class="c0" cx="608.2" cy="692.7" r="2.78"/><circle class="c0" cx="607.5" cy="698.0" r="2.78"/><circle class="c0" cx="608.8" cy="692.7" r="2.78"/><circle class="c0" cx="602.9" cy="689.3" r="2.78"/><circle class="c0" cx="608.8" cy="696.2" r="2.78"/><circle class="c23" cx="639.4" cy="691.0" r="2.78"/><circle class="c0" cx="608.9" cy="689.2" r="2.78"/><circle class="c23" cx="641.0" cy="690.5" r="2.78"/><circle class="c0" cx="608.8" cy="684.0" r="2.78"/><circle class="c0" cx="606.6" cy="691.0" r="2.78"/><circle class="c23" cx="633.5" cy="691.0" r="2.78"/><circle class="c0" cx="602.9" cy="694.4" r="2.78"/><circle class="c0" cx="608.2" cy="699.7" r="2.78"/><circle class="c23" cx="633.2" cy="691.0" r="2.78"/><circle class="c0" cx="607.5" cy="699.7" r="2.78"/><circle class="c0" cx="606.6" cy="690.0" r="2.78"/><circle class="c0" cx="601.6" cy="694.8" r="2.78"/><circle class="c0" cx="608.8" cy="694.5" r="2.78"/><circle class="c23" cx="635.4" cy="691.0" r="2.78"/><circle class="c0" cx="608.9" cy="696.2" r="2.78"/><circle class="c1" cx="607.9" cy="685.7" r="2.78"/><circle class="c0" cx="606.6" cy="689.0" r="2.78"/><circle class="c0" cx="607.5" cy="701.5" r="2.78"/><circle class="c23" cx="632.4" cy="695.4" r="2.78"/><circle class="c0" cx="606.6" cy="692.0" r="2.78"/><circle class="c0" cx="607.9" cy="698.0" r="2.78"/><circle class="c23" cx="641.0" cy="691.5" r="2.78"/><circle class="c0" cx="608.9" cy="692.7" r="2.78"/><circle class="c0" cx="599.1" cy="689.4" r="2.78"/><circle class="c0" cx="608.9" cy="703.2" r="2.78"/><circle class="c0" cx="608.2" cy="698.0" r="2.78"/><circle class="c23" cx="632.8" cy="688.0" r="2.78"/><circle class="c0" cx="608.9" cy="684.0" r="2.78"/><circle class="c0" cx="591.1" cy="691.0" r="2.78"/><circle class="c0" cx="608.2" cy="696.2" r="2.78"/><circle class="c0" cx="608.8" cy="699.7" r="2.78"/><circle class="c0" cx="607.5" cy="691.0" r="2.78"/><circle class="c0" cx="607.9" cy="678.8" r="2.78"/><circle class="c0" cx="607.9" cy="699.7" r="2.78"/><circle class="c0" cx="607.9" cy="680.5" r="2.78"/><circle class="c0" cx="608.9" cy="687.5" r="2.78"/><circle class="c22" cx="646.7" cy="691.0" r="2.78"/><circle class="c0" cx="608.2" cy="680.5" r="2.78"/><circle class="c0" cx="608.8" cy="687.5" r="2.78"/><circle class="c0" cx="604.1" cy="693.5" r="2.78"/><circle class="c0" cx="608.2" cy="689.2" r="2.78"/><circle class="c0" cx="607.9" cy="691.0" r="2.78"/><circle class="c0" cx="601.6" cy="689.1" r="2.78"/><circle class="c0" cx="599.1" cy="687.8" r="2.78"/><circle class="c0" cx="608.8" cy="698.0" r="2.78"/><circle class="c0" cx="604.1" cy="689.7" r="2.78"/><circle class="c0" cx="607.9" cy="684.0" r="2.78"/><circle class="c23" cx="650.7" cy="691.0" r="2.78"/><circle class="c0" cx="597.9" cy="692.6" r="2.78"/><circle class="c23" cx="666.4" cy="691.0" r="2.78"/><circle class="c0" cx="608.2" cy="703.2" r="2.78"/><circle class="c0" cx="607.5" cy="694.5" r="2.78"/><circle class="c23" cx="630.2" cy="691.0" r="2.78"/><circle class="c0" cx="607.9" cy="687.5" r="2.78"/><circle class="c23" cx="633.2" cy="686.6" r="2.78"/><circle class="c23" cx="632.4" cy="689.5" r="2.78"/><circle class="c23" cx="633.2" cy="688.0" r="2.78"/><circle class="c23" cx="633.2" cy="689.5" r="2.78"/><circle class="c23" cx="641.0" cy="691.0" r="2.78"/><circle class="c23" cx="633.2" cy="692.5" r="2.78"/><circle class="c0" cx="608.2" cy="678.8" r="2.78"/><circle class="c23" cx="639.4" cy="690.6" r="2.78"/><circle class="c0" cx="605.4" cy="692.3" r="2.78"/><circle class="c23" cx="642.8" cy="691.0" r="2.78"/><circle class="c0" cx="608.8" cy="680.5" r="2.78"/><circle class="c0" cx="608.9" cy="685.7" r="2.78"/><circle class="c0" cx="607.5" cy="696.2" r="2.78"/><circle class="c23" cx="633.2" cy="695.4" r="2.78"/></g><g><circle class="c19" cx="623.8" cy="724.0" r="2.78"/><circle class="c13" cx="616.3" cy="720.2" r="2.78"/><circle class="c2" cx="607.2" cy="713.8" r="2.78"/><circle class="c23" cx="633.0" cy="725.8" r="2.78"/><circle class="c12" cx="610.2" cy="729.6" r="2.78"/><circle class="c0" cx="597.5" cy="725.8" r="2.78"/><circle class="c19" cx="636.3" cy="725.8" r="2.78"/><circle class="c4" cx="607.2" cy="722.4" r="2.78"/><circle class="c8" cx="607.5" cy="724.1" r="2.78"/><circle class="c22" cx="636.3" cy="726.5" r="2.78"/><circle class="c7" cx="606.3" cy="731.4" r="2.78"/><circle class="c17" cx="622.5" cy="723.7" r="2.78"/><circle class="c11" cx="611.3" cy="720.2" r="2.78"/><circle class="c0" cx="588.9" cy="727.0" r="2.78"/><circle class="c9" cx="608.8" cy="720.2" r="2.78"/><circle class="c14" cx="612.5" cy="731.4" r="2.78"/><circle class="c13" cx="615.0" cy="731.4" r="2.78"/><circle class="c6" cx="603.5" cy="722.1" r="2.78"/><circle class="c10" cx="616.9" cy="725.8" r="2.78"/><circle class="c22" cx="633.0" cy="725.0" r="2.78"/><circle class="c9" cx="607.5" cy="717.2" r="2.78"/><circle class="c0" cx="607.2" cy="717.2" r="2.78"/><circle class="c12" cx="611.3" cy="731.4" r="2.78"/><circle class="c21" cx="631.7" cy="725.8" r="2.78"/><circle class="c23" cx="657.5" cy="725.8" r="2.78"/><circle class="c1" cx="592.9" cy="725.8" r="2.78"/><circle class="c9" cx="607.5" cy="715.5" r="2.78"/><circle class="c20" cx="643.4" cy="725.8" r="2.78"/><circle class="c3" cx="587.0" cy="724.8" r="2.78"/><circle class="c9" cx="603.5" cy="723.9" r="2.78"/><circle class="c3" cx="591.0" cy="724.5" r="2.78"/><circle class="c18" cx="620.0" cy="723.6" r="2.78"/><circle class="c3" cx="565.9" cy="725.8" r="2.78"/><circle class="c20" cx="637.7" cy="726.6" r="2.78"/><circle class="c22" cx="634.8" cy="726.6" r="2.78"/><circle class="c23" cx="627.5" cy="725.8" r="2.78"/><circle class="c11" cx="613.8" cy="727.7" r="2.78"/><circle class="c13" cx="618.8" cy="723.9" r="2.78"/><circle class="c12" cx="607.5" cy="727.5" r="2.78"/><circle class="c12" cx="613.8" cy="723.9" r="2.78"/><circle class="c17" cx="621.3" cy="725.8" r="2.78"/><circle class="c3" cx="607.2" cy="736.1" r="2.78"/><circle class="c12" cx="607.5" cy="732.7" r="2.78"/><circle class="c6" cx="603.5" cy="727.7" r="2.78"/><circle class="c1" cx="595.5" cy="725.8" r="2.78"/><circle class="c3" cx="592.9" cy="724.7" r="2.78"/><circle class="c22" cx="625.0" cy="724.0" r="2.78"/><circle class="c1" cx="591.0" cy="727.1" r="2.78"/><circle class="c11" cx="615.0" cy="725.8" r="2.78"/><circle class="c8" cx="611.3" cy="722.1" r="2.78"/><circle class="c9" cx="610.0" cy="731.4" r="2.78"/><circle class="c0" cx="595.5" cy="727.0" r="2.78"/><circle class="c12" cx="608.8" cy="727.7" r="2.78"/><circle class="c10" cx="603.8" cy="720.2" r="2.78"/><circle class="c1" cx="607.2" cy="732.7" r="2.78"/><circle class="c7" cx="608.8" cy="729.6" r="2.78"/><circle class="c10" cx="605.0" cy="731.4" r="2.78"/><circle class="c2" cx="607.2" cy="724.1" r="2.78"/><circle class="c10" cx="610.2" cy="720.2" r="2.78"/><circle class="c2" cx="601.3" cy="725.8" r="2.78"/><circle class="c9" cx="607.5" cy="713.8" r="2.78"/><circle class="c0" cx="607.2" cy="731.0" r="2.78"/><circle class="c0" cx="607.2" cy="734.4" r="2.78"/><circle class="c22" cx="636.3" cy="725.1" r="2.78"/><circle class="c0" cx="587.0" cy="725.8" r="2.78"/><circle class="c13" cx="616.3" cy="725.8" r="2.78"/><circle class="c2" cx="594.3" cy="725.0" r="2.78"/><circle class="c13" cx="606.3" cy="725.8" r="2.78"/><circle class="c1" cx="592.9" cy="726.9" r="2.78"/><circle class="c11" cx="610.0" cy="722.1" r="2.78"/><circle class="c3" cx="582.8" cy="724.9" r="2.78"/><circle class="c9" cx="616.9" cy="731.4" r="2.78"/><circle class="c10" cx="617.5" cy="722.3" r="2.78"/><circle class="c9" cx="605.0" cy="727.7" r="2.78"/><circle class="c3" cx="601.3" cy="724.4" r="2.78"/><circle class="c22" cx="644.9" cy="725.8" r="2.78"/><circle class="c23" cx="637.7" cy="725.1" r="2.78"/><circle class="c9" cx="613.8" cy="731.4" r="2.78"/><circle class="c11" cx="607.5" cy="722.4" r="2.78"/><circle class="c17" cx="626.3" cy="724.1" r="2.78"/><circle class="c4" cx="600.0" cy="725.8" r="2.78"/><circle class="c20" cx="626.3" cy="727.5" r="2.78"/><circle class="c12" cx="612.5" cy="720.2" r="2.78"/><circle class="c21" cx="628.8" cy="727.0" r="2.78"/><circle class="c20" cx="622.5" cy="724.8" r="2.78"/><circle class="c9" cx="606.3" cy="722.1" r="2.78"/><circle class="c20" cx="623.8" cy="725.8" r="2.78"/><circle class="c11" cx="613.8" cy="725.8" r="2.78"/><circle class="c10" cx="616.9" cy="727.7" r="2.78"/><circle class="c12" cx="615.0" cy="729.6" r="2.78"/><circle class="c1" cx="567.8" cy="725.8" r="2.78"/><circle class="c11" cx="615.0" cy="727.7" r="2.78"/><circle class="c4" cx="584.7" cy="725.8" r="2.78"/><circle class="c6" cx="578.4" cy="725.8" r="2.78"/><circle class="c19" cx="631.7" cy="724.9" r="2.78"/><circle class="c0" cx="607.2" cy="727.5" r="2.78"/><circle class="c5" cx="603.8" cy="722.1" r="2.78"/><circle class="c0" cx="607.2" cy="720.7" r="2.78"/><circle class="c14" cx="610.2" cy="725.8" r="2.78"/><circle class="c11" cx="608.8" cy="731.4" r="2.78"/><circle class="c11" cx="613.8" cy="722.1" r="2.78"/><circle class="c0" cx="598.8" cy="725.8" r="2.78"/><circle class="c6" cx="603.5" cy="731.4" r="2.78"/><circle class="c4" cx="601.3" cy="727.2" r="2.78"/><circle class="c7" cx="613.8" cy="720.2" r="2.78"/><circle class="c12" cx="615.0" cy="723.9" r="2.78"/><circle class="c2" cx="574.0" cy="725.8" r="2.78"/><circle class="c2" cx="588.9" cy="725.8" r="2.78"/><circle class="c21" cx="628.8" cy="724.6" r="2.78"/><circle class="c20" cx="634.8" cy="725.8" r="2.78"/><circle class="c9" cx="606.3" cy="723.9" r="2.78"/><circle class="c8" cx="607.5" cy="720.7" r="2.78"/><circle class="c10" cx="618.8" cy="725.8" r="2.78"/><circle class="c13" cx="616.9" cy="722.1" r="2.78"/><circle class="c0" cx="598.8" cy="724.8" r="2.78"/><circle class="c21" cx="625.0" cy="727.7" r="2.78"/><circle class="c13" cx="616.3" cy="722.1" r="2.78"/><circle class="c11" cx="608.8" cy="723.9" r="2.78"/><circle class="c10" cx="611.3" cy="729.6" r="2.78"/><circle class="c5" cx="602.5" cy="727.3" r="2.78"/><circle class="c18" cx="625.0" cy="725.8" r="2.78"/><circle class="c20" cx="634.8" cy="725.1" r="2.78"/><circle class="c12" cx="617.5" cy="725.8" r="2.78"/><circle class="c10" cx="610.2" cy="723.9" r="2.78"/><circle class="c16" cx="626.3" cy="725.8" r="2.78"/><circle class="c2" cx="598.8" cy="726.8" r="2.78"/><circle class="c10" cx="610.2" cy="727.7" r="2.78"/><circle class="c0" cx="607.2" cy="718.9" r="2.78"/><circle class="c7" cx="607.5" cy="737.8" r="2.78"/><circle class="c14" cx="607.5" cy="725.8" r="2.78"/><circle class="c11" cx="607.5" cy="734.4" r="2.78"/><circle class="c11" cx="617.5" cy="727.6" r="2.78"/><circle class="c0" cx="582.8" cy="726.7" r="2.78"/><circle class="c2" cx="594.3" cy="726.6" r="2.78"/><circle class="c20" cx="637.7" cy="725.8" r="2.78"/><circle class="c6" cx="603.8" cy="723.9" r="2.78"/><circle class="c9" cx="616.9" cy="723.9" r="2.78"/><circle class="c5" cx="605.0" cy="725.8" r="2.78"/><circle class="c12" cx="615.0" cy="722.1" r="2.78"/><circle class="c0" cx="597.5" cy="727.3" r="2.78"/><circle class="c0" cx="607.2" cy="729.3" r="2.78"/><circle class="c3" cx="600.0" cy="724.2" r="2.78"/><circle class="c18" cx="622.5" cy="727.9" r="2.78"/><circle class="c4" cx="602.5" cy="725.8" r="2.78"/><circle class="c20" cx="631.7" cy="726.8" r="2.78"/><circle class="c12" cx="605.0" cy="720.2" r="2.78"/><circle class="c11" cx="610.0" cy="725.8" r="2.78"/><circle class="c12" cx="612.5" cy="725.8" r="2.78"/><circle class="c16" cx="621.3" cy="727.4" r="2.78"/><circle class="c3" cx="607.2" cy="737.8" r="2.78"/><circle class="c10" cx="616.9" cy="720.2" r="2.78"/><circle class="c1" cx="563.3" cy="725.8" r="2.78"/><circle class="c8" cx="612.5" cy="722.1" r="2.78"/><circle class="c16" cx="620.0" cy="725.8" r="2.78"/><circle class="c10" cx="612.5" cy="723.9" r="2.78"/><circle class="c17" cx="622.5" cy="725.8" r="2.78"/><circle class="c14" cx="620.0" cy="726.9" r="2.78"/><circle class="c13" cx="610.2" cy="731.4" r="2.78"/><circle class="c0" cx="547.1" cy="725.8" r="2.78"/><circle class="c1" cx="582.8" cy="725.8" r="2.78"/><circle class="c7" cx="603.8" cy="729.6" r="2.78"/><circle class="c8" cx="610.0" cy="720.2" r="2.78"/><circle class="c8" cx="603.8" cy="727.7" r="2.78"/><circle class="c10" cx="603.5" cy="720.2" r="2.78"/><circle class="c21" cx="623.8" cy="727.6" r="2.78"/><circle class="c11" cx="606.3" cy="720.2" r="2.78"/><circle class="c7" cx="608.8" cy="725.8" r="2.78"/><circle class="c3" cx="584.7" cy="724.9" r="2.78"/><circle class="c13" cx="618.8" cy="727.7" r="2.78"/><circle class="c1" cx="584.7" cy="726.8" r="2.78"/><circle class="c23" cx="633.0" cy="726.6" r="2.78"/><circle class="c14" cx="616.9" cy="729.6" r="2.78"/><circle class="c20" cx="621.3" cy="724.3" r="2.78"/><circle class="c9" cx="610.0" cy="727.7" r="2.78"/><circle class="c0" cx="554.8" cy="725.8" r="2.78"/><circle class="c10" cx="603.8" cy="725.8" r="2.78"/><circle class="c20" cx="630.0" cy="725.8" r="2.78"/><circle class="c20" cx="627.5" cy="727.6" r="2.78"/><circle class="c10" cx="603.5" cy="725.8" r="2.78"/><circle class="c9" cx="616.3" cy="729.6" r="2.78"/><circle class="c0" cx="488.9" cy="725.8" r="2.78"/><circle class="c15" cx="617.5" cy="729.3" r="2.78"/><circle class="c1" cx="595.5" cy="724.6" r="2.78"/><circle class="c9" cx="606.3" cy="729.6" r="2.78"/><circle class="c8" cx="605.0" cy="723.9" r="2.78"/><circle class="c10" cx="616.3" cy="723.9" r="2.78"/><circle class="c11" cx="611.3" cy="725.8" r="2.78"/><circle class="c0" cx="597.5" cy="724.4" r="2.78"/><circle class="c10" cx="607.5" cy="718.9" r="2.78"/><circle class="c18" cx="620.0" cy="724.7" r="2.78"/><circle class="c0" cx="523.8" cy="725.8" r="2.78"/><circle class="c13" cx="616.3" cy="731.4" r="2.78"/><circle class="c15" cx="620.0" cy="728.0" r="2.78"/><circle class="c2" cx="591.0" cy="725.8" r="2.78"/><circle class="c5" cx="602.5" cy="724.3" r="2.78"/><circle class="c1" cx="587.0" cy="726.9" r="2.78"/><circle class="c23" cx="630.0" cy="724.6" r="2.78"/><circle class="c7" cx="603.8" cy="731.4" r="2.78"/><circle class="c10" cx="612.5" cy="727.7" r="2.78"/><circle class="c0" cx="600.0" cy="727.5" r="2.78"/><circle class="c10" cx="608.8" cy="722.1" r="2.78"/><circle class="c10" cx="610.0" cy="729.6" r="2.78"/><circle class="c10" cx="607.5" cy="731.0" r="2.78"/><circle class="c13" cx="612.5" cy="729.6" r="2.78"/><circle class="c10" cx="610.0" cy="723.9" r="2.78"/><circle class="c6" cx="606.3" cy="727.7" r="2.78"/><circle class="c23" cx="639.9" cy="725.8" r="2.78"/><circle class="c9" cx="613.8" cy="729.6" r="2.78"/><circle class="c8" cx="603.5" cy="729.6" r="2.78"/><circle class="c11" cx="611.3" cy="723.9" r="2.78"/><circle class="c9" cx="615.0" cy="720.2" r="2.78"/><circle class="c10" cx="611.3" cy="727.7" r="2.78"/><circle class="c23" cx="630.0" cy="727.0" r="2.78"/><circle class="c0" cx="607.2" cy="725.8" r="2.78"/><circle class="c13" cx="610.2" cy="722.1" r="2.78"/><circle class="c10" cx="605.0" cy="729.6" r="2.78"/><circle class="c21" cx="628.8" cy="725.8" r="2.78"/><circle class="c0" cx="588.9" cy="724.6" r="2.78"/><circle class="c13" cx="617.5" cy="724.1" r="2.78"/><circle class="c1" cx="572.2" cy="725.8" r="2.78"/><circle class="c12" cx="607.5" cy="736.1" r="2.78"/><circle class="c1" cx="559.3" cy="725.8" r="2.78"/><circle class="c7" cx="605.0" cy="722.1" r="2.78"/><circle class="c8" cx="607.5" cy="729.3" r="2.78"/><circle class="c6" cx="594.3" cy="725.8" r="2.78"/><circle class="c0" cx="607.2" cy="715.5" r="2.78"/><circle class="c21" cx="627.5" cy="724.0" r="2.78"/><circle class="c19" cx="622.5" cy="726.9" r="2.78"/><circle class="c16" cx="616.3" cy="727.7" r="2.78"/><circle class="c23" cx="605.8" cy="725.8" r="2.78"/><circle class="c23" cx="609.2" cy="729.8" r="2.78"/><circle class="c21" cx="618.1" cy="725.8" r="2.78"/></g></g>
<line x1="415.90" x2="912.60" y1="761.45" y2="761.45" stroke="#000" stroke-width="1.11"/>
<g stroke="#000" stroke-width="1.11"><line x1="465.50" x2="465.50" y1="761.45" y2="766.75"/><line x1="536.50" x2="536.50" y1="761.45" y2="766.75"/><line x1="608.50" x2="608.50" y1="761.45" y2="766.75"/><line x1="680.50" x2="680.50" y1="761.45" y2="766.75"/><line x1="752.50" x2="752.50" y1="761.45" y2="766.75"/><line x1="824.50" x2="824.50" y1="761.45" y2="766.75"/><line x1="896.50" x2="896.50" y1="761.45" y2="766.75"/></g>
<g class="xt"><text x="465.30" y="783">−<tspan dx="-1">0.2</tspan></text><text x="537.30" y="783">−<tspan dx="-1">0.1</tspan></text><text x="608.20" y="783">0.0</text><text x="680.20" y="783">0.1</text><text x="752.20" y="783">0.2</text><text x="824.20" y="783">0.3</text><text x="896.20" y="783">0.4</text></g>
<text class="xl" x="664.45" y="806.30">SHAP value (impact on model output)</text>
<g class="yl"><text x="383.06" y="72" style="letter-spacing:-0.340px">PhCaCL</text><text x="383.35" y="107" style="letter-spacing:-0.047px">BIO3_Isothermality</text><text x="383.36" y="142" style="letter-spacing:-0.045px">manihot_esculenta_presence_map</text><text x="383.40" y="177">artocarpus_altilis_presence_map</text><text x="383.38" y="211" style="letter-spacing:-0.019px">ipomoea_batas_l_presence_map</text><text x="383.36" y="246" style="letter-spacing:-0.037px">PETWarmestQuarter</text><text x="383.38" y="281" style="letter-spacing:-0.017px">OrganicCarbon</text><text x="383.39" y="316" style="letter-spacing:-0.011px">BIO13_Precipitation_of_Wettest_Month</text><text x="383.36" y="351" style="letter-spacing:-0.039px">human_appropriation</text><text x="383.38" y="386" style="letter-spacing:-0.022px">BIO18_Precipitation_of_Warmest_Quarter</text><text x="383.24" y="420" style="letter-spacing:-0.163px">embergerQ</text><text x="383.24" y="455" style="letter-spacing:-0.164px">thermicityIndex</text><text x="383.37" y="490" style="letter-spacing:-0.031px">maxTempColdest</text><text x="383.34" y="525" style="letter-spacing:-0.064px">BIO7_Temperature_Annual_Range</text><text x="383.37" y="560" style="letter-spacing:-0.028px">human_accessibility</text><text x="383.36" y="594" style="letter-spacing:-0.040px">PETDriestQuarter</text><text x="383.27" y="629" style="letter-spacing:-0.125px">PETColdestQuarter</text><text x="383.38" y="664" style="letter-spacing:-0.016px">BIO16_Precipitation_of_Wettest_Quarter</text><text x="383.37" y="699" style="letter-spacing:-0.031px">sorghum_bicolor_l_presence_map</text><text x="383.39" y="734" style="letter-spacing:-0.013px">BIO15_Precipitation_Seasonality</text></g>
<rect x="943.00" y="28.70" width="6.00" height="732.00" fill="url(#cb)"/>
<text class="cbt" x="955.30" y="36" style="letter-spacing:-0.5px">High</text>
<text class="cbt" x="955.30" y="768" style="letter-spacing:-0.35px">Low</text>
<text class="cbl" transform="translate(1000.00 396.80) rotate(-90)">Feature value</text>
</svg>
</body></html>
